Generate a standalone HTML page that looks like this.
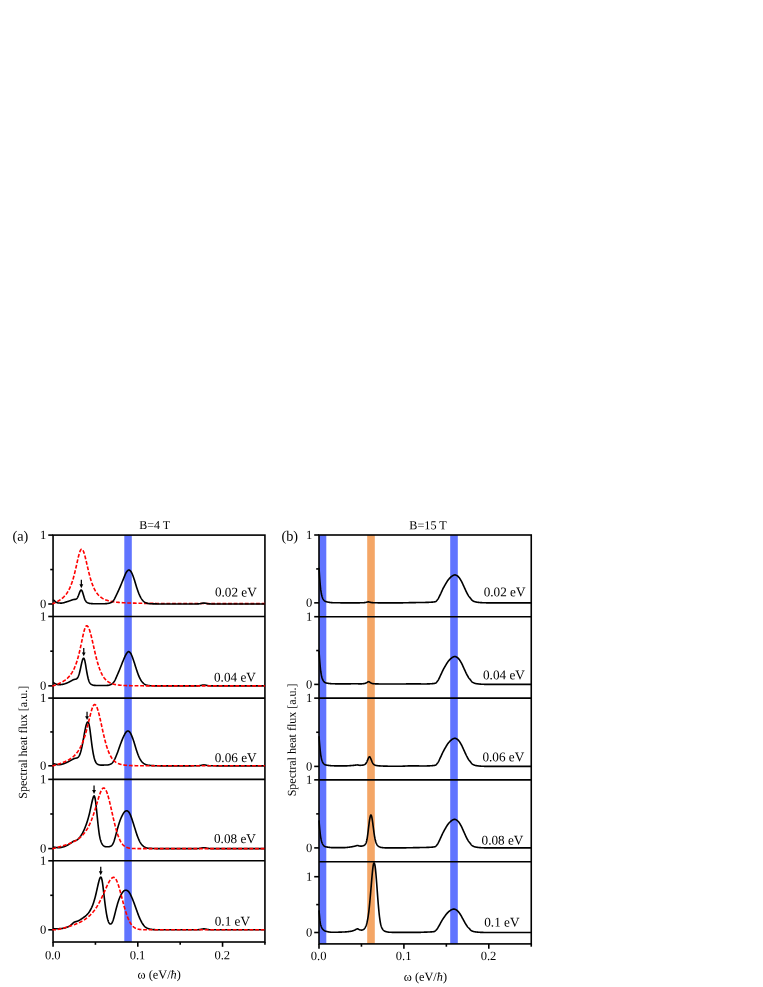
<!DOCTYPE html>
<html><head><meta charset="utf-8"><title>Spectral heat flux</title>
<style>
html,body{margin:0;padding:0;background:#fff;}
body{width:763px;height:987px;overflow:hidden;font-family:"Liberation Serif",serif;}
svg{display:block;will-change:transform;}
svg text{font-family:"Liberation Serif",serif;text-rendering:geometricPrecision;}
</style></head><body>
<svg width="763" height="987" viewBox="0 0 763 987" fill="#000">
<rect x="0" y="0" width="763" height="987" fill="#fff"/>
<rect x="124.30" y="535.10" width="7.50" height="406.90" fill="#6074ff"/>
<g stroke="#000" stroke-width="1.60" fill="none" stroke-linecap="butt">
<rect x="53.05" y="535.10" width="211.88" height="406.90"/>
<path d="M53.05,616.50 H264.93"/>
<path d="M53.05,698.08 H264.93"/>
<path d="M53.05,779.37 H264.93"/>
<path d="M53.05,860.80 H264.93"/>
<path d="M48.25,604.00 H53.05"/>
<path d="M50.25,569.55 H53.05"/>
<path d="M48.25,535.10 H53.05"/>
<path d="M48.25,685.86 H53.05"/>
<path d="M50.25,651.18 H53.05"/>
<path d="M48.25,616.50 H53.05"/>
<path d="M48.25,765.80 H53.05"/>
<path d="M50.25,731.94 H53.05"/>
<path d="M48.25,698.08 H53.05"/>
<path d="M48.25,848.60 H53.05"/>
<path d="M50.25,813.99 H53.05"/>
<path d="M48.25,779.37 H53.05"/>
<path d="M48.25,929.80 H53.05"/>
<path d="M50.25,895.30 H53.05"/>
<path d="M48.25,860.80 H53.05"/>
<path d="M53.05,942.00 V946.80"/>
<path d="M95.42,942.00 V944.80"/>
<path d="M137.80,942.00 V946.80"/>
<path d="M180.18,942.00 V944.80"/>
<path d="M222.55,942.00 V946.80"/>
<path d="M264.93,942.00 V944.80"/>
</g>
<clipPath id="ca0"><rect x="52.15" y="535.10" width="212.78" height="81.40"/></clipPath>
<g clip-path="url(#ca0)" fill="none" stroke-linejoin="round">
<path d="M52.15,603.60 L53.05,603.60 L53.35,603.47 L53.66,603.34 L53.96,603.20 L54.26,603.06 L54.56,602.93 L54.87,602.79 L55.17,602.64 L55.47,602.50 L55.77,602.35 L56.08,602.20 L56.38,602.05 L56.68,601.89 L56.98,601.74 L57.29,601.57 L57.59,601.41 L57.89,601.24 L58.20,601.07 L58.50,600.89 L58.80,600.71 L59.10,600.53 L59.41,600.34 L59.71,600.14 L60.01,599.94 L60.31,599.74 L60.62,599.53 L60.92,599.31 L61.22,599.08 L61.52,598.85 L61.83,598.62 L62.13,598.37 L62.43,598.12 L62.74,597.86 L63.04,597.59 L63.34,597.31 L63.64,597.02 L63.95,596.72 L64.25,596.41 L64.55,596.09 L64.85,595.76 L65.16,595.41 L65.46,595.05 L65.76,594.68 L66.07,594.29 L66.37,593.89 L66.67,593.47 L66.97,593.04 L67.28,592.59 L67.58,592.11 L67.88,591.62 L68.18,591.11 L68.49,590.58 L68.79,590.02 L69.09,589.44 L69.39,588.83 L69.70,588.20 L70.00,587.54 L70.30,586.86 L70.61,586.14 L70.91,585.39 L71.21,584.61 L71.51,583.79 L71.82,582.94 L72.12,582.06 L72.42,581.14 L72.72,580.18 L73.03,579.18 L73.33,578.15 L73.63,577.07 L73.93,575.96 L74.24,574.81 L74.54,573.63 L74.84,572.40 L75.15,571.15 L75.45,569.86 L75.75,568.55 L76.05,567.21 L76.36,565.86 L76.66,564.49 L76.96,563.12 L77.26,561.75 L77.57,560.40 L77.87,559.07 L78.17,557.78 L78.47,556.53 L78.78,555.33 L79.08,554.21 L79.38,553.18 L79.69,552.24 L79.99,551.40 L80.29,550.69 L80.59,550.11 L80.90,549.66 L81.20,549.35 L81.50,549.19 L81.80,549.17 L82.11,549.28 L82.41,549.53 L82.71,549.91 L83.02,550.41 L83.32,551.03 L83.62,551.77 L83.92,552.60 L84.23,553.53 L84.53,554.54 L84.83,555.62 L85.13,556.77 L85.44,557.96 L85.74,559.21 L86.04,560.48 L86.34,561.78 L86.65,563.09 L86.95,564.41 L87.25,565.73 L87.56,567.05 L87.86,568.35 L88.16,569.64 L88.46,570.90 L88.77,572.14 L89.07,573.35 L89.37,574.53 L89.67,575.68 L89.98,576.79 L90.28,577.87 L90.58,578.91 L90.88,579.91 L91.19,580.88 L91.49,581.81 L91.79,582.71 L92.10,583.57 L92.40,584.39 L92.70,585.18 L93.00,585.94 L93.31,586.66 L93.61,587.36 L93.91,588.02 L94.21,588.65 L94.52,589.26 L94.82,589.84 L95.12,590.39 L95.42,590.92 L95.73,591.42 L96.03,591.90 L96.33,592.36 L96.64,592.80 L96.94,593.22 L97.24,593.62 L97.54,594.00 L97.85,594.36 L98.15,594.71 L98.45,595.04 L98.75,595.36 L99.06,595.67 L99.36,595.96 L99.66,596.23 L99.97,596.50 L100.27,596.75 L100.57,597.00 L100.87,597.23 L101.18,597.45 L101.48,597.66 L101.78,597.87 L102.08,598.06 L102.39,598.25 L102.69,598.43 L102.99,598.60 L103.29,598.77 L103.60,598.92 L103.90,599.07 L104.20,599.22 L104.51,599.36 L104.81,599.49 L105.11,599.62 L105.41,599.75 L105.72,599.87 L106.02,599.98 L106.32,600.09 L106.62,600.19 L106.93,600.30 L107.23,600.39 L107.53,600.49 L107.83,600.58 L108.14,600.67 L108.44,600.75 L108.74,600.83 L109.05,600.91 L109.35,600.98 L109.65,601.06 L109.95,601.13 L110.26,601.20 L110.56,601.26 L110.86,601.32 L111.16,601.38 L111.47,601.44 L111.77,601.50 L112.07,601.55 L112.38,601.61 L112.68,601.66 L112.98,601.71 L113.28,601.76 L113.59,601.80 L113.89,601.85 L114.19,601.89 L114.49,601.93 L114.80,601.97 L115.10,602.01 L115.40,602.05 L115.70,602.09 L116.01,602.12 L116.31,602.16 L116.61,602.19 L116.92,602.23 L117.22,602.26 L117.52,602.29 L117.82,602.32 L118.13,602.35 L118.43,602.37 L118.73,602.40 L119.03,602.43 L119.34,602.45 L119.64,602.48 L119.94,602.50 L120.24,602.53 L120.55,602.55 L120.85,602.57 L121.15,602.59 L121.46,602.62 L121.76,602.64 L122.06,602.66 L122.36,602.68 L122.67,602.69 L122.97,602.71 L123.27,602.73 L123.57,602.75 L123.88,602.77 L124.18,602.78 L124.48,602.80 L124.78,602.81 L125.09,602.83 L125.39,602.84 L125.69,602.86 L126.00,602.87 L126.30,602.89 L126.60,602.90 L126.90,602.91 L127.21,602.93 L127.51,602.94 L127.81,602.95 L128.11,602.96 L128.42,602.97 L128.72,602.99 L129.02,603.00 L129.32,603.01 L129.63,603.02 L129.93,603.03 L130.23,603.04 L130.54,603.05 L130.84,603.06 L131.14,603.07 L131.44,603.08 L131.75,603.09 L132.05,603.09 L132.35,603.10 L132.65,603.11 L132.96,603.12 L133.26,603.13 L133.56,603.14 L133.87,603.14 L134.17,603.15 L134.47,603.16 L134.77,603.17 L135.08,603.17 L135.38,603.18 L135.68,603.19 L135.98,603.19 L136.29,603.20 L136.59,603.21 L136.89,603.21 L137.19,603.22 L137.50,603.22 L137.80,603.23 L138.10,603.23 L138.41,603.24 L138.71,603.25 L139.01,603.25 L139.31,603.26 L139.62,603.26 L139.92,603.27 L140.22,603.27 L140.52,603.28 L140.83,603.28 L141.13,603.29 L141.43,603.29 L141.73,603.30 L142.04,603.30 L142.34,603.30 L142.64,603.31 L142.95,603.31 L143.25,603.32 L143.55,603.32 L143.85,603.32 L144.16,603.33 L144.46,603.33 L144.76,603.34 L145.06,603.34 L145.37,603.34 L145.67,603.35 L145.97,603.35 L146.27,603.35 L146.58,603.36 L146.88,603.36 L147.18,603.36 L147.49,603.37 L147.79,603.37 L148.09,603.37 L148.39,603.38 L148.70,603.38 L149.00,603.38 L149.30,603.38 L149.60,603.39 L149.91,603.39 L150.21,603.39 L150.51,603.40 L150.82,603.40 L151.12,603.40 L151.42,603.40 L151.72,603.41 L152.03,603.41 L152.33,603.41 L152.63,603.41 L152.93,603.41 L153.24,603.42 L153.54,603.42 L153.84,603.42 L154.14,603.42 L154.45,603.43 L154.75,603.43 L155.05,603.43 L155.36,603.43 L155.66,603.43 L155.96,603.44 L156.26,603.44 L156.57,603.44 L156.87,603.44 L157.17,603.44 L157.47,603.45 L157.78,603.45 L158.08,603.45 L158.38,603.45 L158.68,603.45 L158.99,603.45 L159.29,603.46 L159.59,603.46 L159.90,603.46 L160.20,603.46 L160.50,603.46 L160.80,603.46 L161.11,603.47 L161.41,603.47 L161.71,603.47 L162.01,603.47 L162.32,603.47 L162.62,603.47 L162.92,603.47 L163.22,603.48 L163.53,603.48 L163.83,603.48 L164.13,603.48 L164.44,603.48 L164.74,603.48 L165.04,603.48 L165.34,603.48 L165.65,603.49 L165.95,603.49 L166.25,603.49 L166.55,603.49 L166.86,603.49 L167.16,603.49 L167.46,603.49 L167.77,603.49 L168.07,603.49 L168.37,603.50 L168.67,603.50 L168.98,603.50 L169.28,603.50 L169.58,603.50 L169.88,603.50 L170.19,603.50 L170.49,603.50 L170.79,603.50 L171.09,603.50 L171.40,603.51 L171.70,603.51 L172.00,603.51 L172.31,603.51 L172.61,603.51 L172.91,603.51 L173.21,603.51 L173.52,603.51 L173.82,603.51 L174.12,603.51 L174.42,603.51 L174.73,603.52 L175.03,603.52 L175.33,603.52 L175.63,603.52 L175.94,603.52 L176.24,603.52 L176.54,603.52 L176.85,603.52 L177.15,603.52 L177.45,603.52 L177.75,603.52 L178.06,603.52 L178.36,603.52 L178.66,603.53 L178.96,603.53 L179.27,603.53 L179.57,603.53 L179.87,603.53 L180.18,603.53 L180.48,603.53 L180.78,603.53 L181.08,603.53 L181.39,603.53 L181.69,603.53 L181.99,603.53 L182.29,603.53 L182.60,603.53 L182.90,603.53 L183.20,603.53 L183.50,603.54 L183.81,603.54 L184.11,603.54 L184.41,603.54 L184.72,603.54 L185.02,603.54 L185.32,603.54 L185.62,603.54 L185.93,603.54 L186.23,603.54 L186.53,603.54 L186.83,603.54 L187.14,603.54 L187.44,603.54 L187.74,603.54 L188.04,603.54 L188.35,603.54 L188.65,603.54 L188.95,603.54 L189.26,603.54 L189.56,603.55 L189.86,603.55 L190.16,603.55 L190.47,603.55 L190.77,603.55 L191.07,603.55 L191.37,603.55 L191.68,603.55 L191.98,603.55 L192.28,603.55 L192.58,603.55 L192.89,603.55 L193.19,603.55 L193.49,603.55 L193.80,603.55 L194.10,603.55 L194.40,603.55 L194.70,603.55 L195.01,603.55 L195.31,603.55 L195.61,603.55 L195.91,603.55 L196.22,603.55 L196.52,603.55 L196.82,603.56 L197.12,603.56 L197.43,603.56 L197.73,603.56 L198.03,603.56 L198.34,603.56 L198.64,603.56 L198.94,603.56 L199.24,603.56 L199.55,603.56 L199.85,603.56 L200.15,603.56 L200.45,603.56 L200.76,603.56 L201.06,603.56 L201.36,603.56 L201.67,603.56 L201.97,603.56 L202.27,603.56 L202.57,603.56 L202.88,603.56 L203.18,603.56 L203.48,603.56 L203.78,603.56 L204.09,603.56 L204.39,603.56 L204.69,603.56 L204.99,603.56 L205.30,603.56 L205.60,603.56 L205.90,603.56 L206.21,603.56 L206.51,603.56 L206.81,603.56 L207.11,603.57 L207.42,603.57 L207.72,603.57 L208.02,603.57 L208.32,603.57 L208.63,603.57 L208.93,603.57 L209.23,603.57 L209.53,603.57 L209.84,603.57 L210.14,603.57 L210.44,603.57 L210.75,603.57 L211.05,603.57 L211.35,603.57 L211.65,603.57 L211.96,603.57 L212.26,603.57 L212.56,603.57 L212.86,603.57 L213.17,603.57 L213.47,603.57 L213.77,603.57 L214.07,603.57 L214.38,603.57 L214.68,603.57 L214.98,603.57 L215.29,603.57 L215.59,603.57 L215.89,603.57 L216.19,603.57 L216.50,603.57 L216.80,603.57 L217.10,603.57 L217.40,603.57 L217.71,603.57 L218.01,603.57 L218.31,603.57 L218.62,603.57 L218.92,603.57 L219.22,603.57 L219.52,603.57 L219.83,603.57 L220.13,603.57 L220.43,603.57 L220.73,603.57 L221.04,603.57 L221.34,603.57 L221.64,603.57 L221.94,603.57 L222.25,603.58 L222.55,603.58 L222.85,603.58 L223.16,603.58 L223.46,603.58 L223.76,603.58 L224.06,603.58 L224.37,603.58 L224.67,603.58 L224.97,603.58 L225.27,603.58 L225.58,603.58 L225.88,603.58 L226.18,603.58 L226.48,603.58 L226.79,603.58 L227.09,603.58 L227.39,603.58 L227.70,603.58 L228.00,603.58 L228.30,603.58 L228.60,603.58 L228.91,603.58 L229.21,603.58 L229.51,603.58 L229.81,603.58 L230.12,603.58 L230.42,603.58 L230.72,603.58 L231.02,603.58 L231.33,603.58 L231.63,603.58 L231.93,603.58 L232.24,603.58 L232.54,603.58 L232.84,603.58 L233.14,603.58 L233.45,603.58 L233.75,603.58 L234.05,603.58 L234.35,603.58 L234.66,603.58 L234.96,603.58 L235.26,603.58 L235.57,603.58 L235.87,603.58 L236.17,603.58 L236.47,603.58 L236.78,603.58 L237.08,603.58 L237.38,603.58 L237.68,603.58 L237.99,603.58 L238.29,603.58 L238.59,603.58 L238.89,603.58 L239.20,603.58 L239.50,603.58 L239.80,603.58 L240.11,603.58 L240.41,603.58 L240.71,603.58 L241.01,603.58 L241.32,603.58 L241.62,603.58 L241.92,603.58 L242.22,603.58 L242.53,603.58 L242.83,603.58 L243.13,603.58 L243.43,603.58 L243.74,603.58 L244.04,603.58 L244.34,603.58 L244.65,603.58 L244.95,603.58 L245.25,603.58 L245.55,603.58 L245.86,603.58 L246.16,603.58 L246.46,603.58 L246.76,603.58 L247.07,603.58 L247.37,603.58 L247.67,603.58 L247.98,603.58 L248.28,603.59 L248.58,603.59 L248.88,603.59 L249.19,603.59 L249.49,603.59 L249.79,603.59 L250.09,603.59 L250.40,603.59 L250.70,603.59 L251.00,603.59 L251.30,603.59 L251.61,603.59 L251.91,603.59 L252.21,603.59 L252.52,603.59 L252.82,603.59 L253.12,603.59 L253.42,603.59 L253.73,603.59 L254.03,603.59 L254.33,603.59 L254.63,603.59 L254.94,603.59 L255.24,603.59 L255.54,603.59 L255.84,603.59 L256.15,603.59 L256.45,603.59 L256.75,603.59 L257.06,603.59 L257.36,603.59 L257.66,603.59 L257.96,603.59 L258.27,603.59 L258.57,603.59 L258.87,603.59 L259.17,603.59 L259.48,603.59 L259.78,603.59 L260.08,603.59 L260.38,603.59 L260.69,603.59 L260.99,603.59 L261.29,603.59 L261.60,603.59 L261.90,603.59 L262.20,603.59 L262.50,603.59 L262.81,603.59 L263.11,603.59 L263.41,603.59 L263.71,603.59 L264.02,603.59 L264.32,603.59 L264.62,603.59 L264.93,603.59" stroke="#ff0000" stroke-width="1.62" stroke-dasharray="3.8 1.8"/>
<path d="M53.05,599.86 L53.35,600.03 L53.65,600.24 L53.95,600.48 L54.25,600.73 L54.55,600.97 L54.85,601.20 L55.15,601.43 L55.45,601.64 L55.75,601.86 L56.05,602.06 L56.35,602.25 L56.65,602.43 L56.95,602.59 L57.25,602.71 L57.55,602.81 L57.85,602.89 L58.15,602.94 L58.45,602.97 L58.75,603.00 L59.05,603.02 L59.35,603.03 L59.65,603.05 L59.95,603.06 L60.25,603.07 L60.55,603.08 L60.85,603.08 L61.15,603.08 L61.45,603.08 L61.75,603.07 L62.05,603.04 L62.35,603.01 L62.65,602.96 L62.95,602.91 L63.25,602.84 L63.55,602.76 L63.85,602.68 L64.15,602.60 L64.45,602.51 L64.75,602.42 L65.05,602.33 L65.35,602.24 L65.65,602.15 L65.95,602.06 L66.25,601.97 L66.55,601.87 L66.85,601.78 L67.15,601.68 L67.45,601.58 L67.75,601.48 L68.05,601.38 L68.35,601.27 L68.65,601.17 L68.95,601.07 L69.25,600.96 L69.55,600.86 L69.85,600.75 L70.15,600.65 L70.45,600.55 L70.75,600.44 L71.05,600.33 L71.35,600.23 L71.65,600.12 L71.95,600.01 L72.25,599.91 L72.55,599.82 L72.85,599.73 L73.15,599.65 L73.45,599.58 L73.75,599.52 L74.05,599.47 L74.35,599.43 L74.65,599.40 L74.95,599.37 L75.25,599.33 L75.55,599.28 L75.85,599.21 L76.15,599.09 L76.45,598.91 L76.75,598.65 L77.05,598.30 L77.35,597.86 L77.65,597.34 L77.95,596.73 L78.25,596.03 L78.55,595.28 L78.85,594.48 L79.15,593.66 L79.45,592.85 L79.75,592.08 L80.05,591.40 L80.35,590.83 L80.65,590.39 L80.95,590.13 L81.25,590.06 L81.55,590.20 L81.85,590.56 L82.15,591.12 L82.45,591.84 L82.75,592.71 L83.05,593.68 L83.35,594.71 L83.65,595.75 L83.95,596.76 L84.25,597.73 L84.55,598.61 L84.85,599.39 L85.15,600.06 L85.45,600.62 L85.75,601.10 L86.05,601.51 L86.35,601.85 L86.65,602.13 L86.95,602.37 L87.25,602.56 L87.55,602.72 L87.85,602.86 L88.15,602.98 L88.45,603.09 L88.75,603.19 L89.05,603.27 L89.35,603.35 L89.65,603.41 L89.95,603.46 L90.25,603.50 L90.55,603.53 L90.85,603.56 L91.15,603.58 L91.45,603.60 L91.75,603.62 L92.05,603.64 L92.35,603.66 L92.65,603.68 L92.95,603.69 L93.25,603.71 L93.55,603.72 L93.85,603.73 L94.15,603.75 L94.45,603.76 L94.75,603.77 L95.05,603.78 L95.35,603.78 L95.65,603.79 L95.95,603.80 L96.25,603.80 L96.55,603.81 L96.85,603.81 L97.15,603.81 L97.45,603.81 L97.75,603.81 L98.05,603.81 L98.35,603.81 L98.65,603.81 L98.95,603.81 L99.25,603.81 L99.55,603.80 L99.85,603.80 L100.15,603.80 L100.45,603.79 L100.75,603.79 L101.05,603.78 L101.35,603.78 L101.65,603.77 L101.95,603.77 L102.25,603.76 L102.55,603.75 L102.85,603.75 L103.15,603.74 L103.45,603.73 L103.75,603.72 L104.05,603.72 L104.35,603.71 L104.65,603.70 L104.95,603.69 L105.25,603.68 L105.55,603.66 L105.85,603.65 L106.15,603.63 L106.45,603.60 L106.75,603.57 L107.05,603.54 L107.35,603.50 L107.65,603.45 L107.95,603.41 L108.25,603.35 L108.55,603.29 L108.85,603.23 L109.15,603.17 L109.45,603.09 L109.75,603.02 L110.05,602.93 L110.35,602.84 L110.65,602.73 L110.95,602.60 L111.25,602.45 L111.55,602.27 L111.85,602.06 L112.15,601.83 L112.45,601.58 L112.75,601.30 L113.05,600.99 L113.35,600.65 L113.65,600.27 L113.95,599.83 L114.25,599.35 L114.55,598.81 L114.85,598.23 L115.15,597.63 L115.45,597.00 L115.75,596.37 L116.05,595.74 L116.35,595.11 L116.65,594.48 L116.95,593.86 L117.25,593.23 L117.55,592.60 L117.85,591.95 L118.15,591.31 L118.45,590.65 L118.75,590.00 L119.05,589.33 L119.35,588.66 L119.65,587.98 L119.95,587.30 L120.25,586.60 L120.55,585.90 L120.85,585.19 L121.15,584.47 L121.45,583.75 L121.75,583.02 L122.05,582.29 L122.35,581.56 L122.65,580.83 L122.95,580.10 L123.25,579.38 L123.55,578.64 L123.85,577.90 L124.15,577.15 L124.45,576.39 L124.75,575.64 L125.05,574.91 L125.35,574.21 L125.65,573.57 L125.95,572.98 L126.25,572.45 L126.55,571.98 L126.85,571.56 L127.15,571.17 L127.45,570.83 L127.75,570.53 L128.05,570.28 L128.35,570.10 L128.65,570.00 L128.95,569.98 L129.25,570.04 L129.55,570.18 L129.85,570.39 L130.15,570.66 L130.45,570.98 L130.75,571.34 L131.05,571.75 L131.35,572.22 L131.65,572.75 L131.95,573.35 L132.25,574.02 L132.55,574.74 L132.85,575.51 L133.15,576.32 L133.45,577.16 L133.75,578.02 L134.05,578.92 L134.35,579.86 L134.65,580.83 L134.95,581.82 L135.25,582.82 L135.55,583.83 L135.85,584.82 L136.15,585.79 L136.45,586.74 L136.75,587.67 L137.05,588.57 L137.35,589.46 L137.65,590.33 L137.95,591.18 L138.25,592.01 L138.55,592.80 L138.85,593.56 L139.15,594.27 L139.45,594.95 L139.75,595.60 L140.05,596.21 L140.35,596.80 L140.65,597.37 L140.95,597.90 L141.25,598.40 L141.55,598.87 L141.85,599.31 L142.15,599.72 L142.45,600.10 L142.75,600.45 L143.05,600.78 L143.35,601.10 L143.65,601.39 L143.95,601.66 L144.25,601.90 L144.55,602.12 L144.85,602.31 L145.15,602.47 L145.45,602.62 L145.75,602.75 L146.05,602.86 L146.35,602.97 L146.65,603.08 L146.95,603.17 L147.25,603.26 L147.55,603.34 L147.85,603.41 L148.15,603.48 L148.45,603.53 L148.75,603.58 L149.05,603.62 L149.35,603.65 L149.65,603.67 L149.95,603.69 L150.25,603.71 L150.55,603.73 L150.85,603.74 L151.15,603.75 L151.45,603.77 L151.75,603.78 L152.05,603.79 L152.35,603.81 L152.65,603.82 L152.95,603.83 L153.25,603.84 L153.55,603.85 L153.85,603.86 L154.15,603.87 L154.45,603.88 L154.75,603.89 L155.05,603.89 L155.35,603.90 L155.65,603.91 L155.95,603.92 L156.25,603.92 L156.55,603.93 L156.85,603.93 L157.15,603.94 L157.45,603.94 L157.75,603.94 L158.05,603.95 L158.35,603.95 L158.65,603.95 L158.95,603.95 L159.25,603.96 L159.55,603.96 L159.85,603.96 L160.15,603.96 L160.45,603.96 L160.75,603.96 L161.05,603.96 L161.35,603.96 L161.65,603.96 L161.95,603.96 L162.25,603.96 L162.55,603.96 L162.85,603.96 L163.15,603.96 L163.45,603.96 L163.75,603.96 L164.05,603.96 L164.35,603.96 L164.65,603.96 L164.95,603.96 L165.25,603.96 L165.55,603.96 L165.85,603.96 L166.15,603.96 L166.45,603.96 L166.75,603.96 L167.05,603.96 L167.35,603.96 L167.65,603.96 L167.95,603.96 L168.25,603.96 L168.55,603.96 L168.85,603.96 L169.15,603.96 L169.45,603.96 L169.75,603.96 L170.05,603.96 L170.35,603.96 L170.65,603.96 L170.95,603.96 L171.25,603.96 L171.55,603.96 L171.85,603.96 L172.15,603.96 L172.45,603.96 L172.75,603.96 L173.05,603.96 L173.35,603.96 L173.65,603.96 L173.95,603.96 L174.25,603.96 L174.55,603.96 L174.85,603.96 L175.15,603.96 L175.45,603.96 L175.75,603.96 L176.05,603.96 L176.35,603.96 L176.65,603.96 L176.95,603.96 L177.25,603.96 L177.55,603.96 L177.85,603.96 L178.15,603.96 L178.45,603.96 L178.75,603.96 L179.05,603.96 L179.35,603.96 L179.65,603.96 L179.95,603.96 L180.25,603.96 L180.55,603.96 L180.85,603.96 L181.15,603.96 L181.45,603.96 L181.75,603.96 L182.05,603.96 L182.35,603.96 L182.65,603.96 L182.95,603.96 L183.25,603.96 L183.55,603.96 L183.85,603.96 L184.15,603.96 L184.45,603.96 L184.75,603.96 L185.05,603.96 L185.35,603.96 L185.65,603.96 L185.95,603.96 L186.25,603.96 L186.55,603.96 L186.85,603.96 L187.15,603.96 L187.45,603.96 L187.75,603.96 L188.05,603.96 L188.35,603.96 L188.65,603.96 L188.95,603.96 L189.25,603.96 L189.55,603.96 L189.85,603.96 L190.15,603.96 L190.45,603.96 L190.75,603.96 L191.05,603.96 L191.35,603.96 L191.65,603.96 L191.95,603.96 L192.25,603.96 L192.55,603.96 L192.85,603.96 L193.15,603.96 L193.45,603.96 L193.75,603.96 L194.05,603.96 L194.35,603.96 L194.65,603.96 L194.95,603.96 L195.25,603.96 L195.55,603.95 L195.85,603.95 L196.15,603.95 L196.45,603.95 L196.75,603.94 L197.05,603.94 L197.35,603.93 L197.65,603.92 L197.95,603.90 L198.25,603.89 L198.55,603.87 L198.85,603.84 L199.15,603.81 L199.45,603.77 L199.75,603.73 L200.05,603.68 L200.35,603.63 L200.65,603.57 L200.95,603.51 L201.25,603.45 L201.55,603.38 L201.85,603.32 L202.15,603.25 L202.45,603.20 L202.75,603.15 L203.05,603.11 L203.35,603.08 L203.65,603.06 L203.95,603.06 L204.25,603.07 L204.55,603.09 L204.85,603.12 L205.15,603.16 L205.45,603.21 L205.75,603.27 L206.05,603.33 L206.35,603.40 L206.65,603.46 L206.95,603.53 L207.25,603.59 L207.55,603.65 L207.85,603.70 L208.15,603.74 L208.45,603.78 L208.75,603.82 L209.05,603.85 L209.35,603.87 L209.65,603.89 L209.95,603.91 L210.25,603.92 L210.55,603.93 L210.85,603.94 L211.15,603.94 L211.45,603.95 L211.75,603.95 L212.05,603.95 L212.35,603.95 L212.65,603.96 L212.95,603.96 L213.25,603.96 L213.55,603.96 L213.85,603.96 L214.15,603.96 L214.45,603.96 L214.75,603.96 L215.05,603.96 L215.35,603.96 L215.65,603.96 L215.95,603.96 L216.25,603.96 L216.55,603.96 L216.85,603.96 L217.15,603.96 L217.45,603.96 L217.75,603.96 L218.05,603.96 L218.35,603.96 L218.65,603.96 L218.95,603.96 L219.25,603.96 L219.55,603.96 L219.85,603.96 L220.15,603.96 L220.45,603.96 L220.75,603.96 L221.05,603.96 L221.35,603.96 L221.65,603.96 L221.95,603.96 L222.25,603.96 L222.55,603.96 L222.85,603.96 L223.15,603.96 L223.45,603.96 L223.75,603.96 L224.05,603.96 L224.35,603.96 L224.65,603.96 L224.95,603.96 L225.25,603.96 L225.55,603.96 L225.85,603.96 L226.15,603.96 L226.45,603.96 L226.75,603.96 L227.05,603.96 L227.35,603.96 L227.65,603.96 L227.95,603.96 L228.25,603.96 L228.55,603.96 L228.85,603.96 L229.15,603.96 L229.45,603.96 L229.75,603.96 L230.05,603.96 L230.35,603.96 L230.65,603.96 L230.95,603.96 L231.25,603.96 L231.55,603.96 L231.85,603.96 L232.15,603.96 L232.45,603.96 L232.75,603.96 L233.05,603.96 L233.35,603.96 L233.65,603.96 L233.95,603.96 L234.25,603.96 L234.55,603.96 L234.85,603.96 L235.15,603.96 L235.45,603.96 L235.75,603.96 L236.05,603.96 L236.35,603.96 L236.65,603.96 L236.95,603.96 L237.25,603.96 L237.55,603.96 L237.85,603.96 L238.15,603.96 L238.45,603.96 L238.75,603.96 L239.05,603.96 L239.35,603.96 L239.65,603.96 L239.95,603.96 L240.25,603.96 L240.55,603.96 L240.85,603.96 L241.15,603.96 L241.45,603.96 L241.75,603.96 L242.05,603.96 L242.35,603.96 L242.65,603.96 L242.95,603.96 L243.25,603.96 L243.55,603.96 L243.85,603.96 L244.15,603.96 L244.45,603.96 L244.75,603.96 L245.05,603.96 L245.35,603.96 L245.65,603.96 L245.95,603.96 L246.25,603.96 L246.55,603.96 L246.85,603.96 L247.15,603.96 L247.45,603.96 L247.75,603.96 L248.05,603.96 L248.35,603.96 L248.65,603.96 L248.95,603.96 L249.25,603.96 L249.55,603.96 L249.85,603.96 L250.15,603.96 L250.45,603.96 L250.75,603.96 L251.05,603.96 L251.35,603.96 L251.65,603.96 L251.95,603.96 L252.25,603.96 L252.55,603.96 L252.85,603.96 L253.15,603.96 L253.45,603.96 L253.75,603.96 L254.05,603.96 L254.35,603.96 L254.65,603.96 L254.95,603.96 L255.25,603.96 L255.55,603.96 L255.85,603.96 L256.15,603.96 L256.45,603.96 L256.75,603.96 L257.05,603.96 L257.35,603.96 L257.65,603.96 L257.95,603.96 L258.25,603.96 L258.55,603.96 L258.85,603.96 L259.15,603.96 L259.45,603.96 L259.75,603.96 L260.05,603.96 L260.35,603.96 L260.65,603.96 L260.95,603.96 L261.25,603.96 L261.55,603.96 L261.85,603.96 L262.15,603.96 L262.45,603.96 L262.75,603.96 L263.05,603.96 L263.35,603.96 L263.65,603.96 L263.95,603.96 L264.25,603.96 L264.55,603.96 L264.85,603.96 L265.15,603.96" stroke="#000" stroke-width="1.62"/>
</g>
<path d="M81.35,579.76 V585.56" stroke="#000" stroke-width="1.25" fill="none"/>
<path d="M79.45,584.26 L83.25,584.26 L81.35,588.16 Z" fill="#000"/>
<clipPath id="ca1"><rect x="52.15" y="616.50" width="212.78" height="81.58"/></clipPath>
<g clip-path="url(#ca1)" fill="none" stroke-linejoin="round">
<path d="M53.05,682.32 L53.35,682.48 L53.65,682.67 L53.95,682.88 L54.25,683.10 L54.55,683.30 L54.85,683.49 L55.15,683.66 L55.45,683.81 L55.75,683.94 L56.05,684.07 L56.35,684.18 L56.65,684.29 L56.95,684.39 L57.25,684.47 L57.55,684.55 L57.85,684.61 L58.15,684.65 L58.45,684.68 L58.75,684.69 L59.05,684.70 L59.35,684.69 L59.65,684.68 L59.95,684.66 L60.25,684.63 L60.55,684.60 L60.85,684.57 L61.15,684.54 L61.45,684.50 L61.75,684.46 L62.05,684.42 L62.35,684.37 L62.65,684.33 L62.95,684.28 L63.25,684.22 L63.55,684.16 L63.85,684.08 L64.15,684.00 L64.45,683.91 L64.75,683.82 L65.05,683.72 L65.35,683.61 L65.65,683.50 L65.95,683.38 L66.25,683.26 L66.55,683.14 L66.85,683.02 L67.15,682.90 L67.45,682.77 L67.75,682.64 L68.05,682.51 L68.35,682.37 L68.65,682.23 L68.95,682.08 L69.25,681.93 L69.55,681.77 L69.85,681.62 L70.15,681.46 L70.45,681.30 L70.75,681.14 L71.05,680.98 L71.35,680.82 L71.65,680.65 L71.95,680.49 L72.25,680.32 L72.55,680.15 L72.85,679.98 L73.15,679.83 L73.45,679.70 L73.75,679.59 L74.05,679.50 L74.35,679.42 L74.65,679.36 L74.95,679.31 L75.25,679.26 L75.55,679.20 L75.85,679.14 L76.15,679.05 L76.45,678.92 L76.75,678.74 L77.05,678.49 L77.35,678.15 L77.65,677.71 L77.95,677.19 L78.25,676.56 L78.55,675.82 L78.85,674.97 L79.15,674.01 L79.45,672.94 L79.75,671.79 L80.05,670.54 L80.35,669.22 L80.65,667.84 L80.95,666.44 L81.25,665.02 L81.55,663.64 L81.85,662.33 L82.15,661.15 L82.45,660.13 L82.75,659.31 L83.05,658.71 L83.35,658.35 L83.65,658.27 L83.95,658.48 L84.25,658.99 L84.55,659.79 L84.85,660.91 L85.15,662.31 L85.45,663.95 L85.75,665.73 L86.05,667.56 L86.35,669.36 L86.65,671.09 L86.95,672.75 L87.25,674.32 L87.55,675.80 L87.85,677.19 L88.15,678.46 L88.45,679.59 L88.75,680.56 L89.05,681.37 L89.35,682.03 L89.65,682.58 L89.95,683.05 L90.25,683.44 L90.55,683.76 L90.85,684.03 L91.15,684.25 L91.45,684.44 L91.75,684.60 L92.05,684.75 L92.35,684.88 L92.65,684.99 L92.95,685.10 L93.25,685.19 L93.55,685.27 L93.85,685.33 L94.15,685.37 L94.45,685.40 L94.75,685.42 L95.05,685.43 L95.35,685.43 L95.65,685.44 L95.95,685.44 L96.25,685.44 L96.55,685.44 L96.85,685.44 L97.15,685.44 L97.45,685.44 L97.75,685.44 L98.05,685.44 L98.35,685.44 L98.65,685.44 L98.95,685.44 L99.25,685.44 L99.55,685.44 L99.85,685.44 L100.15,685.44 L100.45,685.44 L100.75,685.44 L101.05,685.44 L101.35,685.44 L101.65,685.44 L101.95,685.44 L102.25,685.44 L102.55,685.44 L102.85,685.44 L103.15,685.44 L103.45,685.44 L103.75,685.44 L104.05,685.44 L104.35,685.44 L104.65,685.44 L104.95,685.44 L105.25,685.44 L105.55,685.44 L105.85,685.44 L106.15,685.44 L106.45,685.44 L106.75,685.44 L107.05,685.43 L107.35,685.43 L107.65,685.42 L107.95,685.39 L108.25,685.36 L108.55,685.31 L108.85,685.24 L109.15,685.16 L109.45,685.06 L109.75,684.95 L110.05,684.83 L110.35,684.70 L110.65,684.57 L110.95,684.42 L111.25,684.27 L111.55,684.09 L111.85,683.90 L112.15,683.69 L112.45,683.45 L112.75,683.19 L113.05,682.90 L113.35,682.58 L113.65,682.24 L113.95,681.87 L114.25,681.45 L114.55,680.98 L114.85,680.46 L115.15,679.89 L115.45,679.27 L115.75,678.61 L116.05,677.93 L116.35,677.24 L116.65,676.54 L116.95,675.85 L117.25,675.16 L117.55,674.47 L117.85,673.77 L118.15,673.08 L118.45,672.37 L118.75,671.66 L119.05,670.94 L119.35,670.22 L119.65,669.49 L119.95,668.76 L120.25,668.02 L120.55,667.27 L120.85,666.51 L121.15,665.75 L121.45,664.98 L121.75,664.20 L122.05,663.43 L122.35,662.67 L122.65,661.92 L122.95,661.18 L123.25,660.45 L123.55,659.73 L123.85,659.03 L124.15,658.33 L124.45,657.63 L124.75,656.96 L125.05,656.30 L125.35,655.68 L125.65,655.09 L125.95,654.54 L126.25,654.03 L126.55,653.56 L126.85,653.12 L127.15,652.71 L127.45,652.35 L127.75,652.04 L128.05,651.81 L128.35,651.67 L128.65,651.63 L128.95,651.68 L129.25,651.81 L129.55,652.03 L129.85,652.30 L130.15,652.63 L130.45,653.01 L130.75,653.45 L131.05,653.96 L131.35,654.54 L131.65,655.21 L131.95,655.94 L132.25,656.73 L132.55,657.56 L132.85,658.41 L133.15,659.27 L133.45,660.15 L133.75,661.04 L134.05,661.94 L134.35,662.87 L134.65,663.81 L134.95,664.76 L135.25,665.71 L135.55,666.65 L135.85,667.59 L136.15,668.51 L136.45,669.42 L136.75,670.33 L137.05,671.23 L137.35,672.12 L137.65,672.99 L137.95,673.83 L138.25,674.65 L138.55,675.42 L138.85,676.14 L139.15,676.82 L139.45,677.47 L139.75,678.08 L140.05,678.66 L140.35,679.22 L140.65,679.74 L140.95,680.24 L141.25,680.71 L141.55,681.15 L141.85,681.56 L142.15,681.93 L142.45,682.29 L142.75,682.61 L143.05,682.93 L143.35,683.22 L143.65,683.50 L143.95,683.75 L144.25,683.99 L144.55,684.20 L144.85,684.39 L145.15,684.55 L145.45,684.68 L145.75,684.80 L146.05,684.91 L146.35,685.01 L146.65,685.10 L146.95,685.18 L147.25,685.26 L147.55,685.34 L147.85,685.41 L148.15,685.47 L148.45,685.53 L148.75,685.57 L149.05,685.62 L149.35,685.65 L149.65,685.68 L149.95,685.70 L150.25,685.72 L150.55,685.73 L150.85,685.74 L151.15,685.75 L151.45,685.76 L151.75,685.77 L152.05,685.78 L152.35,685.78 L152.65,685.79 L152.95,685.80 L153.25,685.80 L153.55,685.81 L153.85,685.81 L154.15,685.82 L154.45,685.82 L154.75,685.83 L155.05,685.83 L155.35,685.84 L155.65,685.84 L155.95,685.85 L156.25,685.85 L156.55,685.85 L156.85,685.86 L157.15,685.86 L157.45,685.86 L157.75,685.86 L158.05,685.86 L158.35,685.87 L158.65,685.87 L158.95,685.87 L159.25,685.87 L159.55,685.87 L159.85,685.87 L160.15,685.87 L160.45,685.87 L160.75,685.87 L161.05,685.87 L161.35,685.87 L161.65,685.87 L161.95,685.87 L162.25,685.87 L162.55,685.87 L162.85,685.87 L163.15,685.87 L163.45,685.87 L163.75,685.87 L164.05,685.87 L164.35,685.87 L164.65,685.87 L164.95,685.87 L165.25,685.87 L165.55,685.87 L165.85,685.87 L166.15,685.87 L166.45,685.87 L166.75,685.87 L167.05,685.87 L167.35,685.87 L167.65,685.87 L167.95,685.87 L168.25,685.87 L168.55,685.87 L168.85,685.87 L169.15,685.87 L169.45,685.87 L169.75,685.87 L170.05,685.87 L170.35,685.87 L170.65,685.87 L170.95,685.87 L171.25,685.87 L171.55,685.87 L171.85,685.87 L172.15,685.87 L172.45,685.87 L172.75,685.87 L173.05,685.87 L173.35,685.87 L173.65,685.87 L173.95,685.87 L174.25,685.87 L174.55,685.87 L174.85,685.87 L175.15,685.87 L175.45,685.87 L175.75,685.87 L176.05,685.87 L176.35,685.87 L176.65,685.87 L176.95,685.87 L177.25,685.87 L177.55,685.87 L177.85,685.87 L178.15,685.87 L178.45,685.87 L178.75,685.87 L179.05,685.87 L179.35,685.87 L179.65,685.87 L179.95,685.87 L180.25,685.87 L180.55,685.87 L180.85,685.87 L181.15,685.87 L181.45,685.87 L181.75,685.87 L182.05,685.87 L182.35,685.87 L182.65,685.87 L182.95,685.87 L183.25,685.87 L183.55,685.87 L183.85,685.87 L184.15,685.87 L184.45,685.87 L184.75,685.87 L185.05,685.87 L185.35,685.87 L185.65,685.87 L185.95,685.87 L186.25,685.87 L186.55,685.87 L186.85,685.87 L187.15,685.87 L187.45,685.87 L187.75,685.87 L188.05,685.87 L188.35,685.87 L188.65,685.87 L188.95,685.87 L189.25,685.87 L189.55,685.87 L189.85,685.87 L190.15,685.87 L190.45,685.87 L190.75,685.87 L191.05,685.87 L191.35,685.87 L191.65,685.87 L191.95,685.87 L192.25,685.87 L192.55,685.87 L192.85,685.87 L193.15,685.87 L193.45,685.87 L193.75,685.87 L194.05,685.87 L194.35,685.87 L194.65,685.87 L194.95,685.87 L195.25,685.87 L195.55,685.87 L195.85,685.86 L196.15,685.86 L196.45,685.86 L196.75,685.85 L197.05,685.85 L197.35,685.84 L197.65,685.83 L197.95,685.82 L198.25,685.80 L198.55,685.78 L198.85,685.75 L199.15,685.72 L199.45,685.69 L199.75,685.64 L200.05,685.60 L200.35,685.54 L200.65,685.48 L200.95,685.42 L201.25,685.36 L201.55,685.29 L201.85,685.23 L202.15,685.17 L202.45,685.11 L202.75,685.06 L203.05,685.02 L203.35,684.99 L203.65,684.97 L203.95,684.97 L204.25,684.98 L204.55,685.00 L204.85,685.03 L205.15,685.07 L205.45,685.13 L205.75,685.18 L206.05,685.25 L206.35,685.31 L206.65,685.38 L206.95,685.44 L207.25,685.50 L207.55,685.56 L207.85,685.61 L208.15,685.66 L208.45,685.70 L208.75,685.73 L209.05,685.76 L209.35,685.79 L209.65,685.81 L209.95,685.82 L210.25,685.83 L210.55,685.84 L210.85,685.85 L211.15,685.86 L211.45,685.86 L211.75,685.86 L212.05,685.86 L212.35,685.87 L212.65,685.87 L212.95,685.87 L213.25,685.87 L213.55,685.87 L213.85,685.87 L214.15,685.87 L214.45,685.87 L214.75,685.87 L215.05,685.87 L215.35,685.87 L215.65,685.87 L215.95,685.87 L216.25,685.87 L216.55,685.87 L216.85,685.87 L217.15,685.87 L217.45,685.87 L217.75,685.87 L218.05,685.87 L218.35,685.87 L218.65,685.87 L218.95,685.87 L219.25,685.87 L219.55,685.87 L219.85,685.87 L220.15,685.87 L220.45,685.87 L220.75,685.87 L221.05,685.87 L221.35,685.87 L221.65,685.87 L221.95,685.87 L222.25,685.87 L222.55,685.87 L222.85,685.87 L223.15,685.87 L223.45,685.87 L223.75,685.87 L224.05,685.87 L224.35,685.87 L224.65,685.87 L224.95,685.87 L225.25,685.87 L225.55,685.87 L225.85,685.87 L226.15,685.87 L226.45,685.87 L226.75,685.87 L227.05,685.87 L227.35,685.87 L227.65,685.87 L227.95,685.87 L228.25,685.87 L228.55,685.87 L228.85,685.87 L229.15,685.87 L229.45,685.87 L229.75,685.87 L230.05,685.87 L230.35,685.87 L230.65,685.87 L230.95,685.87 L231.25,685.87 L231.55,685.87 L231.85,685.87 L232.15,685.87 L232.45,685.87 L232.75,685.87 L233.05,685.87 L233.35,685.87 L233.65,685.87 L233.95,685.87 L234.25,685.87 L234.55,685.87 L234.85,685.87 L235.15,685.87 L235.45,685.87 L235.75,685.87 L236.05,685.87 L236.35,685.87 L236.65,685.87 L236.95,685.87 L237.25,685.87 L237.55,685.87 L237.85,685.87 L238.15,685.87 L238.45,685.87 L238.75,685.87 L239.05,685.87 L239.35,685.87 L239.65,685.87 L239.95,685.87 L240.25,685.87 L240.55,685.87 L240.85,685.87 L241.15,685.87 L241.45,685.87 L241.75,685.87 L242.05,685.87 L242.35,685.87 L242.65,685.87 L242.95,685.87 L243.25,685.87 L243.55,685.87 L243.85,685.87 L244.15,685.87 L244.45,685.87 L244.75,685.87 L245.05,685.87 L245.35,685.87 L245.65,685.87 L245.95,685.87 L246.25,685.87 L246.55,685.87 L246.85,685.87 L247.15,685.87 L247.45,685.87 L247.75,685.87 L248.05,685.87 L248.35,685.87 L248.65,685.87 L248.95,685.87 L249.25,685.87 L249.55,685.87 L249.85,685.87 L250.15,685.87 L250.45,685.87 L250.75,685.87 L251.05,685.87 L251.35,685.87 L251.65,685.87 L251.95,685.87 L252.25,685.87 L252.55,685.87 L252.85,685.87 L253.15,685.87 L253.45,685.87 L253.75,685.87 L254.05,685.87 L254.35,685.87 L254.65,685.87 L254.95,685.87 L255.25,685.87 L255.55,685.87 L255.85,685.87 L256.15,685.87 L256.45,685.87 L256.75,685.87 L257.05,685.87 L257.35,685.87 L257.65,685.87 L257.95,685.87 L258.25,685.87 L258.55,685.87 L258.85,685.87 L259.15,685.87 L259.45,685.87 L259.75,685.87 L260.05,685.87 L260.35,685.87 L260.65,685.87 L260.95,685.87 L261.25,685.87 L261.55,685.87 L261.85,685.87 L262.15,685.87 L262.45,685.87 L262.75,685.87 L263.05,685.87 L263.35,685.87 L263.65,685.87 L263.95,685.87 L264.25,685.87 L264.55,685.87 L264.85,685.87 L265.15,685.87" stroke="#000" stroke-width="1.62"/>
<path d="M52.15,685.86 L53.05,685.86 L53.35,685.75 L53.66,685.64 L53.96,685.54 L54.26,685.43 L54.56,685.32 L54.87,685.20 L55.17,685.09 L55.47,684.98 L55.77,684.86 L56.08,684.75 L56.38,684.63 L56.68,684.51 L56.98,684.39 L57.29,684.27 L57.59,684.14 L57.89,684.02 L58.20,683.89 L58.50,683.76 L58.80,683.63 L59.10,683.49 L59.41,683.35 L59.71,683.22 L60.01,683.07 L60.31,682.93 L60.62,682.78 L60.92,682.63 L61.22,682.47 L61.52,682.32 L61.83,682.15 L62.13,681.99 L62.43,681.82 L62.74,681.64 L63.04,681.47 L63.34,681.28 L63.64,681.10 L63.95,680.90 L64.25,680.70 L64.55,680.50 L64.85,680.29 L65.16,680.07 L65.46,679.85 L65.76,679.62 L66.07,679.38 L66.37,679.14 L66.67,678.89 L66.97,678.63 L67.28,678.36 L67.58,678.08 L67.88,677.79 L68.18,677.49 L68.49,677.18 L68.79,676.86 L69.09,676.53 L69.39,676.19 L69.70,675.83 L70.00,675.46 L70.30,675.08 L70.61,674.68 L70.91,674.26 L71.21,673.83 L71.51,673.38 L71.82,672.91 L72.12,672.43 L72.42,671.92 L72.72,671.40 L73.03,670.85 L73.33,670.27 L73.63,669.68 L73.93,669.06 L74.24,668.41 L74.54,667.73 L74.84,667.03 L75.15,666.29 L75.45,665.53 L75.75,664.73 L76.05,663.90 L76.36,663.03 L76.66,662.13 L76.96,661.19 L77.26,660.22 L77.57,659.20 L77.87,658.14 L78.17,657.05 L78.47,655.92 L78.78,654.74 L79.08,653.53 L79.38,652.28 L79.69,650.99 L79.99,649.66 L80.29,648.31 L80.59,646.92 L80.90,645.52 L81.20,644.09 L81.50,642.65 L81.80,641.20 L82.11,639.75 L82.41,638.32 L82.71,636.90 L83.02,635.52 L83.32,634.18 L83.62,632.90 L83.92,631.68 L84.23,630.55 L84.53,629.51 L84.83,628.58 L85.13,627.76 L85.44,627.08 L85.74,626.54 L86.04,626.14 L86.34,625.89 L86.65,625.79 L86.95,625.81 L87.25,625.94 L87.56,626.17 L87.86,626.50 L88.16,626.93 L88.46,627.47 L88.77,628.09 L89.07,628.81 L89.37,629.61 L89.67,630.49 L89.98,631.44 L90.28,632.46 L90.58,633.55 L90.88,634.68 L91.19,635.87 L91.49,637.10 L91.79,638.37 L92.10,639.67 L92.40,640.99 L92.70,642.33 L93.00,643.68 L93.31,645.04 L93.61,646.40 L93.91,647.75 L94.21,649.10 L94.52,650.44 L94.82,651.76 L95.12,653.07 L95.42,654.35 L95.73,655.61 L96.03,656.84 L96.33,658.04 L96.64,659.21 L96.94,660.35 L97.24,661.46 L97.54,662.53 L97.85,663.57 L98.15,664.57 L98.45,665.54 L98.75,666.48 L99.06,667.37 L99.36,668.24 L99.66,669.07 L99.97,669.87 L100.27,670.63 L100.57,671.36 L100.87,672.06 L101.18,672.73 L101.48,673.37 L101.78,673.98 L102.08,674.56 L102.39,675.11 L102.69,675.64 L102.99,676.15 L103.29,676.63 L103.60,677.08 L103.90,677.52 L104.20,677.93 L104.51,678.32 L104.81,678.70 L105.11,679.05 L105.41,679.39 L105.72,679.71 L106.02,680.01 L106.32,680.30 L106.62,680.58 L106.93,680.84 L107.23,681.08 L107.53,681.32 L107.83,681.54 L108.14,681.75 L108.44,681.95 L108.74,682.14 L109.05,682.32 L109.35,682.49 L109.65,682.65 L109.95,682.81 L110.26,682.95 L110.56,683.09 L110.86,683.22 L111.16,683.35 L111.47,683.46 L111.77,683.58 L112.07,683.68 L112.38,683.78 L112.68,683.88 L112.98,683.97 L113.28,684.06 L113.59,684.14 L113.89,684.22 L114.19,684.29 L114.49,684.37 L114.80,684.43 L115.10,684.50 L115.40,684.56 L115.70,684.62 L116.01,684.67 L116.31,684.72 L116.61,684.77 L116.92,684.82 L117.22,684.86 L117.52,684.91 L117.82,684.95 L118.13,684.99 L118.43,685.02 L118.73,685.06 L119.03,685.09 L119.34,685.13 L119.64,685.16 L119.94,685.19 L120.24,685.21 L120.55,685.24 L120.85,685.27 L121.15,685.29 L121.46,685.31 L121.76,685.33 L122.06,685.36 L122.36,685.38 L122.67,685.40 L122.97,685.41 L123.27,685.43 L123.57,685.45 L123.88,685.46 L124.18,685.48 L124.48,685.49 L124.78,685.51 L125.09,685.52 L125.39,685.53 L125.69,685.55 L126.00,685.56 L126.30,685.57 L126.60,685.58 L126.90,685.59 L127.21,685.60 L127.51,685.61 L127.81,685.62 L128.11,685.63 L128.42,685.64 L128.72,685.64 L129.02,685.65 L129.32,685.66 L129.63,685.67 L129.93,685.67 L130.23,685.68 L130.54,685.69 L130.84,685.69 L131.14,685.70 L131.44,685.70 L131.75,685.71 L132.05,685.71 L132.35,685.72 L132.65,685.72 L132.96,685.73 L133.26,685.73 L133.56,685.74 L133.87,685.74 L134.17,685.75 L134.47,685.75 L134.77,685.75 L135.08,685.76 L135.38,685.76 L135.68,685.76 L135.98,685.77 L136.29,685.77 L136.59,685.77 L136.89,685.77 L137.19,685.78 L137.50,685.78 L137.80,685.78 L138.10,685.78 L138.41,685.79 L138.71,685.79 L139.01,685.79 L139.31,685.79 L139.62,685.80 L139.92,685.80 L140.22,685.80 L140.52,685.80 L140.83,685.80 L141.13,685.80 L141.43,685.81 L141.73,685.81 L142.04,685.81 L142.34,685.81 L142.64,685.81 L142.95,685.81 L143.25,685.81 L143.55,685.82 L143.85,685.82 L144.16,685.82 L144.46,685.82 L144.76,685.82 L145.06,685.82 L145.37,685.82 L145.67,685.82 L145.97,685.83 L146.27,685.83 L146.58,685.83 L146.88,685.83 L147.18,685.83 L147.49,685.83 L147.79,685.83 L148.09,685.83 L148.39,685.83 L148.70,685.83 L149.00,685.83 L149.30,685.83 L149.60,685.83 L149.91,685.84 L150.21,685.84 L150.51,685.84 L150.82,685.84 L151.12,685.84 L151.42,685.84 L151.72,685.84 L152.03,685.84 L152.33,685.84 L152.63,685.84 L152.93,685.84 L153.24,685.84 L153.54,685.84 L153.84,685.84 L154.14,685.84 L154.45,685.84 L154.75,685.84 L155.05,685.84 L155.36,685.84 L155.66,685.84 L155.96,685.85 L156.26,685.85 L156.57,685.85 L156.87,685.85 L157.17,685.85 L157.47,685.85 L157.78,685.85 L158.08,685.85 L158.38,685.85 L158.68,685.85 L158.99,685.85 L159.29,685.85 L159.59,685.85 L159.90,685.85 L160.20,685.85 L160.50,685.85 L160.80,685.85 L161.11,685.85 L161.41,685.85 L161.71,685.85 L162.01,685.85 L162.32,685.85 L162.62,685.85 L162.92,685.85 L163.22,685.85 L163.53,685.85 L163.83,685.85 L164.13,685.85 L164.44,685.85 L164.74,685.85 L165.04,685.85 L165.34,685.85 L165.65,685.85 L165.95,685.85 L166.25,685.85 L166.55,685.85 L166.86,685.85 L167.16,685.85 L167.46,685.85 L167.77,685.85 L168.07,685.85 L168.37,685.85 L168.67,685.85 L168.98,685.85 L169.28,685.85 L169.58,685.85 L169.88,685.85 L170.19,685.85 L170.49,685.86 L170.79,685.86 L171.09,685.86 L171.40,685.86 L171.70,685.86 L172.00,685.86 L172.31,685.86 L172.61,685.86 L172.91,685.86 L173.21,685.86 L173.52,685.86 L173.82,685.86 L174.12,685.86 L174.42,685.86 L174.73,685.86 L175.03,685.86 L175.33,685.86 L175.63,685.86 L175.94,685.86 L176.24,685.86 L176.54,685.86 L176.85,685.86 L177.15,685.86 L177.45,685.86 L177.75,685.86 L178.06,685.86 L178.36,685.86 L178.66,685.86 L178.96,685.86 L179.27,685.86 L179.57,685.86 L179.87,685.86 L180.18,685.86 L180.48,685.86 L180.78,685.86 L181.08,685.86 L181.39,685.86 L181.69,685.86 L181.99,685.86 L182.29,685.86 L182.60,685.86 L182.90,685.86 L183.20,685.86 L183.50,685.86 L183.81,685.86 L184.11,685.86 L184.41,685.86 L184.72,685.86 L185.02,685.86 L185.32,685.86 L185.62,685.86 L185.93,685.86 L186.23,685.86 L186.53,685.86 L186.83,685.86 L187.14,685.86 L187.44,685.86 L187.74,685.86 L188.04,685.86 L188.35,685.86 L188.65,685.86 L188.95,685.86 L189.26,685.86 L189.56,685.86 L189.86,685.86 L190.16,685.86 L190.47,685.86 L190.77,685.86 L191.07,685.86 L191.37,685.86 L191.68,685.86 L191.98,685.86 L192.28,685.86 L192.58,685.86 L192.89,685.86 L193.19,685.86 L193.49,685.86 L193.80,685.86 L194.10,685.86 L194.40,685.86 L194.70,685.86 L195.01,685.86 L195.31,685.86 L195.61,685.86 L195.91,685.86 L196.22,685.86 L196.52,685.86 L196.82,685.86 L197.12,685.86 L197.43,685.86 L197.73,685.86 L198.03,685.86 L198.34,685.86 L198.64,685.86 L198.94,685.86 L199.24,685.86 L199.55,685.86 L199.85,685.86 L200.15,685.86 L200.45,685.86 L200.76,685.86 L201.06,685.86 L201.36,685.86 L201.67,685.86 L201.97,685.86 L202.27,685.86 L202.57,685.86 L202.88,685.86 L203.18,685.86 L203.48,685.86 L203.78,685.86 L204.09,685.86 L204.39,685.86 L204.69,685.86 L204.99,685.86 L205.30,685.86 L205.60,685.86 L205.90,685.86 L206.21,685.86 L206.51,685.86 L206.81,685.86 L207.11,685.86 L207.42,685.86 L207.72,685.86 L208.02,685.86 L208.32,685.86 L208.63,685.86 L208.93,685.86 L209.23,685.86 L209.53,685.86 L209.84,685.86 L210.14,685.86 L210.44,685.86 L210.75,685.86 L211.05,685.86 L211.35,685.86 L211.65,685.86 L211.96,685.86 L212.26,685.86 L212.56,685.86 L212.86,685.86 L213.17,685.86 L213.47,685.86 L213.77,685.86 L214.07,685.86 L214.38,685.86 L214.68,685.86 L214.98,685.86 L215.29,685.86 L215.59,685.86 L215.89,685.86 L216.19,685.86 L216.50,685.86 L216.80,685.86 L217.10,685.86 L217.40,685.86 L217.71,685.86 L218.01,685.86 L218.31,685.86 L218.62,685.86 L218.92,685.86 L219.22,685.86 L219.52,685.86 L219.83,685.86 L220.13,685.86 L220.43,685.86 L220.73,685.86 L221.04,685.86 L221.34,685.86 L221.64,685.86 L221.94,685.86 L222.25,685.86 L222.55,685.86 L222.85,685.86 L223.16,685.86 L223.46,685.86 L223.76,685.86 L224.06,685.86 L224.37,685.86 L224.67,685.86 L224.97,685.86 L225.27,685.86 L225.58,685.86 L225.88,685.86 L226.18,685.86 L226.48,685.86 L226.79,685.86 L227.09,685.86 L227.39,685.86 L227.70,685.86 L228.00,685.86 L228.30,685.86 L228.60,685.86 L228.91,685.86 L229.21,685.86 L229.51,685.86 L229.81,685.86 L230.12,685.86 L230.42,685.86 L230.72,685.86 L231.02,685.86 L231.33,685.86 L231.63,685.86 L231.93,685.86 L232.24,685.86 L232.54,685.86 L232.84,685.86 L233.14,685.86 L233.45,685.86 L233.75,685.86 L234.05,685.86 L234.35,685.86 L234.66,685.86 L234.96,685.86 L235.26,685.86 L235.57,685.86 L235.87,685.86 L236.17,685.86 L236.47,685.86 L236.78,685.86 L237.08,685.86 L237.38,685.86 L237.68,685.86 L237.99,685.86 L238.29,685.86 L238.59,685.86 L238.89,685.86 L239.20,685.86 L239.50,685.86 L239.80,685.86 L240.11,685.86 L240.41,685.86 L240.71,685.86 L241.01,685.86 L241.32,685.86 L241.62,685.86 L241.92,685.86 L242.22,685.86 L242.53,685.86 L242.83,685.86 L243.13,685.86 L243.43,685.86 L243.74,685.86 L244.04,685.86 L244.34,685.86 L244.65,685.86 L244.95,685.86 L245.25,685.86 L245.55,685.86 L245.86,685.86 L246.16,685.86 L246.46,685.86 L246.76,685.86 L247.07,685.86 L247.37,685.86 L247.67,685.86 L247.98,685.86 L248.28,685.86 L248.58,685.86 L248.88,685.86 L249.19,685.86 L249.49,685.86 L249.79,685.86 L250.09,685.86 L250.40,685.86 L250.70,685.86 L251.00,685.86 L251.30,685.86 L251.61,685.86 L251.91,685.86 L252.21,685.86 L252.52,685.86 L252.82,685.86 L253.12,685.86 L253.42,685.86 L253.73,685.86 L254.03,685.86 L254.33,685.86 L254.63,685.86 L254.94,685.86 L255.24,685.86 L255.54,685.86 L255.84,685.86 L256.15,685.86 L256.45,685.86 L256.75,685.86 L257.06,685.86 L257.36,685.86 L257.66,685.86 L257.96,685.86 L258.27,685.86 L258.57,685.86 L258.87,685.86 L259.17,685.86 L259.48,685.86 L259.78,685.86 L260.08,685.86 L260.38,685.86 L260.69,685.86 L260.99,685.86 L261.29,685.86 L261.60,685.86 L261.90,685.86 L262.20,685.86 L262.50,685.86 L262.81,685.86 L263.11,685.86 L263.41,685.86 L263.71,685.86 L264.02,685.86 L264.32,685.86 L264.62,685.86 L264.93,685.86" stroke="#ff0000" stroke-width="1.62" stroke-dasharray="3.8 1.8"/>
</g>
<path d="M83.75,647.97 V653.77" stroke="#000" stroke-width="1.25" fill="none"/>
<path d="M81.85,652.47 L85.65,652.47 L83.75,656.37 Z" fill="#000"/>
<clipPath id="ca2"><rect x="52.15" y="698.08" width="212.78" height="81.29"/></clipPath>
<g clip-path="url(#ca2)" fill="none" stroke-linejoin="round">
<path d="M53.05,763.70 L53.35,763.74 L53.65,763.79 L53.95,763.85 L54.25,763.91 L54.55,763.98 L54.85,764.04 L55.15,764.10 L55.45,764.17 L55.75,764.23 L56.05,764.30 L56.35,764.37 L56.65,764.45 L56.95,764.52 L57.25,764.59 L57.55,764.65 L57.85,764.70 L58.15,764.74 L58.45,764.77 L58.75,764.78 L59.05,764.77 L59.35,764.75 L59.65,764.72 L59.95,764.68 L60.25,764.62 L60.55,764.56 L60.85,764.50 L61.15,764.43 L61.45,764.35 L61.75,764.27 L62.05,764.19 L62.35,764.11 L62.65,764.03 L62.95,763.94 L63.25,763.85 L63.55,763.76 L63.85,763.66 L64.15,763.56 L64.45,763.45 L64.75,763.33 L65.05,763.21 L65.35,763.08 L65.65,762.95 L65.95,762.82 L66.25,762.69 L66.55,762.55 L66.85,762.42 L67.15,762.28 L67.45,762.13 L67.75,761.99 L68.05,761.84 L68.35,761.69 L68.65,761.53 L68.95,761.37 L69.25,761.20 L69.55,761.04 L69.85,760.87 L70.15,760.71 L70.45,760.54 L70.75,760.38 L71.05,760.21 L71.35,760.05 L71.65,759.89 L71.95,759.73 L72.25,759.56 L72.55,759.40 L72.85,759.24 L73.15,759.08 L73.45,758.93 L73.75,758.79 L74.05,758.66 L74.35,758.55 L74.65,758.45 L74.95,758.37 L75.25,758.30 L75.55,758.24 L75.85,758.18 L76.15,758.13 L76.45,758.07 L76.75,758.00 L77.05,757.91 L77.35,757.79 L77.65,757.64 L77.95,757.43 L78.25,757.15 L78.55,756.81 L78.85,756.39 L79.15,755.89 L79.45,755.32 L79.75,754.66 L80.05,753.90 L80.35,753.03 L80.65,752.06 L80.95,751.00 L81.25,749.85 L81.55,748.62 L81.85,747.30 L82.15,745.89 L82.45,744.39 L82.75,742.81 L83.05,741.18 L83.35,739.51 L83.65,737.82 L83.95,736.13 L84.25,734.43 L84.55,732.75 L84.85,731.11 L85.15,729.54 L85.45,728.08 L85.75,726.76 L86.05,725.57 L86.35,724.54 L86.65,723.65 L86.95,722.94 L87.25,722.41 L87.55,722.08 L87.85,721.98 L88.15,722.13 L88.45,722.59 L88.75,723.37 L89.05,724.48 L89.35,725.94 L89.65,727.71 L89.95,729.74 L90.25,731.97 L90.55,734.31 L90.85,736.70 L91.15,739.10 L91.45,741.48 L91.75,743.80 L92.05,746.02 L92.35,748.11 L92.65,750.07 L92.95,751.88 L93.25,753.55 L93.55,755.07 L93.85,756.45 L94.15,757.70 L94.45,758.82 L94.75,759.82 L95.05,760.67 L95.35,761.40 L95.65,762.00 L95.95,762.51 L96.25,762.94 L96.55,763.30 L96.85,763.61 L97.15,763.87 L97.45,764.09 L97.75,764.27 L98.05,764.43 L98.35,764.56 L98.65,764.68 L98.95,764.79 L99.25,764.88 L99.55,764.95 L99.85,765.01 L100.15,765.05 L100.45,765.07 L100.75,765.08 L101.05,765.09 L101.35,765.09 L101.65,765.09 L101.95,765.09 L102.25,765.09 L102.55,765.08 L102.85,765.08 L103.15,765.08 L103.45,765.07 L103.75,765.07 L104.05,765.06 L104.35,765.05 L104.65,765.05 L104.95,765.04 L105.25,765.03 L105.55,765.02 L105.85,765.02 L106.15,765.01 L106.45,765.00 L106.75,764.99 L107.05,764.97 L107.35,764.96 L107.65,764.94 L107.95,764.91 L108.25,764.87 L108.55,764.81 L108.85,764.75 L109.15,764.66 L109.45,764.57 L109.75,764.47 L110.05,764.35 L110.35,764.22 L110.65,764.08 L110.95,763.93 L111.25,763.75 L111.55,763.54 L111.85,763.30 L112.15,763.02 L112.45,762.69 L112.75,762.34 L113.05,761.94 L113.35,761.52 L113.65,761.08 L113.95,760.61 L114.25,760.10 L114.55,759.57 L114.85,758.98 L115.15,758.36 L115.45,757.70 L115.75,757.01 L116.05,756.29 L116.35,755.56 L116.65,754.81 L116.95,754.05 L117.25,753.27 L117.55,752.47 L117.85,751.66 L118.15,750.82 L118.45,749.97 L118.75,749.10 L119.05,748.24 L119.35,747.37 L119.65,746.52 L119.95,745.67 L120.25,744.84 L120.55,744.03 L120.85,743.23 L121.15,742.44 L121.45,741.66 L121.75,740.89 L122.05,740.12 L122.35,739.37 L122.65,738.63 L122.95,737.92 L123.25,737.23 L123.55,736.57 L123.85,735.94 L124.15,735.34 L124.45,734.76 L124.75,734.20 L125.05,733.67 L125.35,733.16 L125.65,732.70 L125.95,732.28 L126.25,731.91 L126.55,731.60 L126.85,731.34 L127.15,731.15 L127.45,731.02 L127.75,730.95 L128.05,730.95 L128.35,731.03 L128.65,731.16 L128.95,731.35 L129.25,731.59 L129.55,731.89 L129.85,732.24 L130.15,732.67 L130.45,733.16 L130.75,733.71 L131.05,734.30 L131.35,734.94 L131.65,735.62 L131.95,736.33 L132.25,737.08 L132.55,737.87 L132.85,738.70 L133.15,739.55 L133.45,740.44 L133.75,741.36 L134.05,742.31 L134.35,743.29 L134.65,744.30 L134.95,745.32 L135.25,746.34 L135.55,747.34 L135.85,748.32 L136.15,749.27 L136.45,750.20 L136.75,751.10 L137.05,751.98 L137.35,752.84 L137.65,753.68 L137.95,754.49 L138.25,755.27 L138.55,756.00 L138.85,756.69 L139.15,757.34 L139.45,757.94 L139.75,758.50 L140.05,759.04 L140.35,759.55 L140.65,760.04 L140.95,760.50 L141.25,760.94 L141.55,761.35 L141.85,761.73 L142.15,762.08 L142.45,762.39 L142.75,762.68 L143.05,762.94 L143.35,763.17 L143.65,763.39 L143.95,763.60 L144.25,763.79 L144.55,763.97 L144.85,764.15 L145.15,764.31 L145.45,764.46 L145.75,764.59 L146.05,764.72 L146.35,764.82 L146.65,764.92 L146.95,765.00 L147.25,765.06 L147.55,765.12 L147.85,765.17 L148.15,765.21 L148.45,765.25 L148.75,765.29 L149.05,765.33 L149.35,765.36 L149.65,765.39 L149.95,765.42 L150.25,765.45 L150.55,765.48 L150.85,765.50 L151.15,765.53 L151.45,765.55 L151.75,765.57 L152.05,765.59 L152.35,765.60 L152.65,765.62 L152.95,765.63 L153.25,765.65 L153.55,765.66 L153.85,765.67 L154.15,765.68 L154.45,765.70 L154.75,765.71 L155.05,765.72 L155.35,765.73 L155.65,765.74 L155.95,765.75 L156.25,765.75 L156.55,765.76 L156.85,765.77 L157.15,765.78 L157.45,765.78 L157.75,765.79 L158.05,765.80 L158.35,765.80 L158.65,765.81 L158.95,765.81 L159.25,765.81 L159.55,765.81 L159.85,765.82 L160.15,765.82 L160.45,765.82 L160.75,765.82 L161.05,765.82 L161.35,765.82 L161.65,765.82 L161.95,765.82 L162.25,765.82 L162.55,765.82 L162.85,765.82 L163.15,765.82 L163.45,765.82 L163.75,765.82 L164.05,765.82 L164.35,765.82 L164.65,765.82 L164.95,765.82 L165.25,765.82 L165.55,765.82 L165.85,765.82 L166.15,765.82 L166.45,765.82 L166.75,765.82 L167.05,765.82 L167.35,765.82 L167.65,765.82 L167.95,765.82 L168.25,765.82 L168.55,765.82 L168.85,765.82 L169.15,765.82 L169.45,765.82 L169.75,765.82 L170.05,765.82 L170.35,765.82 L170.65,765.82 L170.95,765.82 L171.25,765.82 L171.55,765.82 L171.85,765.82 L172.15,765.82 L172.45,765.82 L172.75,765.82 L173.05,765.82 L173.35,765.82 L173.65,765.82 L173.95,765.82 L174.25,765.82 L174.55,765.82 L174.85,765.82 L175.15,765.82 L175.45,765.82 L175.75,765.82 L176.05,765.82 L176.35,765.82 L176.65,765.82 L176.95,765.82 L177.25,765.82 L177.55,765.82 L177.85,765.82 L178.15,765.82 L178.45,765.82 L178.75,765.82 L179.05,765.82 L179.35,765.82 L179.65,765.82 L179.95,765.82 L180.25,765.82 L180.55,765.82 L180.85,765.82 L181.15,765.82 L181.45,765.82 L181.75,765.82 L182.05,765.82 L182.35,765.82 L182.65,765.82 L182.95,765.82 L183.25,765.82 L183.55,765.82 L183.85,765.82 L184.15,765.82 L184.45,765.82 L184.75,765.82 L185.05,765.82 L185.35,765.82 L185.65,765.82 L185.95,765.82 L186.25,765.82 L186.55,765.82 L186.85,765.82 L187.15,765.82 L187.45,765.82 L187.75,765.82 L188.05,765.82 L188.35,765.82 L188.65,765.82 L188.95,765.82 L189.25,765.82 L189.55,765.82 L189.85,765.82 L190.15,765.82 L190.45,765.82 L190.75,765.82 L191.05,765.82 L191.35,765.82 L191.65,765.82 L191.95,765.81 L192.25,765.81 L192.55,765.81 L192.85,765.81 L193.15,765.81 L193.45,765.81 L193.75,765.81 L194.05,765.81 L194.35,765.81 L194.65,765.81 L194.95,765.81 L195.25,765.81 L195.55,765.81 L195.85,765.81 L196.15,765.81 L196.45,765.80 L196.75,765.80 L197.05,765.79 L197.35,765.79 L197.65,765.78 L197.95,765.76 L198.25,765.75 L198.55,765.72 L198.85,765.70 L199.15,765.67 L199.45,765.63 L199.75,765.59 L200.05,765.54 L200.35,765.49 L200.65,765.43 L200.95,765.37 L201.25,765.30 L201.55,765.24 L201.85,765.17 L202.15,765.11 L202.45,765.06 L202.75,765.01 L203.05,764.97 L203.35,764.94 L203.65,764.92 L203.95,764.92 L204.25,764.92 L204.55,764.94 L204.85,764.98 L205.15,765.02 L205.45,765.07 L205.75,765.13 L206.05,765.19 L206.35,765.26 L206.65,765.32 L206.95,765.39 L207.25,765.45 L207.55,765.50 L207.85,765.56 L208.15,765.60 L208.45,765.64 L208.75,765.68 L209.05,765.71 L209.35,765.73 L209.65,765.75 L209.95,765.77 L210.25,765.78 L210.55,765.79 L210.85,765.80 L211.15,765.80 L211.45,765.81 L211.75,765.81 L212.05,765.81 L212.35,765.81 L212.65,765.81 L212.95,765.81 L213.25,765.81 L213.55,765.81 L213.85,765.81 L214.15,765.81 L214.45,765.81 L214.75,765.81 L215.05,765.81 L215.35,765.81 L215.65,765.81 L215.95,765.82 L216.25,765.82 L216.55,765.82 L216.85,765.82 L217.15,765.82 L217.45,765.82 L217.75,765.82 L218.05,765.82 L218.35,765.82 L218.65,765.82 L218.95,765.82 L219.25,765.82 L219.55,765.82 L219.85,765.82 L220.15,765.82 L220.45,765.82 L220.75,765.82 L221.05,765.82 L221.35,765.82 L221.65,765.82 L221.95,765.82 L222.25,765.82 L222.55,765.82 L222.85,765.82 L223.15,765.82 L223.45,765.82 L223.75,765.82 L224.05,765.82 L224.35,765.82 L224.65,765.82 L224.95,765.82 L225.25,765.82 L225.55,765.82 L225.85,765.82 L226.15,765.82 L226.45,765.82 L226.75,765.82 L227.05,765.82 L227.35,765.82 L227.65,765.82 L227.95,765.82 L228.25,765.82 L228.55,765.82 L228.85,765.82 L229.15,765.82 L229.45,765.82 L229.75,765.82 L230.05,765.82 L230.35,765.82 L230.65,765.82 L230.95,765.82 L231.25,765.82 L231.55,765.82 L231.85,765.82 L232.15,765.82 L232.45,765.82 L232.75,765.82 L233.05,765.82 L233.35,765.82 L233.65,765.82 L233.95,765.82 L234.25,765.82 L234.55,765.82 L234.85,765.82 L235.15,765.82 L235.45,765.82 L235.75,765.82 L236.05,765.82 L236.35,765.82 L236.65,765.82 L236.95,765.82 L237.25,765.82 L237.55,765.82 L237.85,765.82 L238.15,765.82 L238.45,765.82 L238.75,765.82 L239.05,765.82 L239.35,765.82 L239.65,765.82 L239.95,765.82 L240.25,765.82 L240.55,765.82 L240.85,765.82 L241.15,765.82 L241.45,765.82 L241.75,765.82 L242.05,765.82 L242.35,765.82 L242.65,765.82 L242.95,765.82 L243.25,765.82 L243.55,765.82 L243.85,765.82 L244.15,765.82 L244.45,765.82 L244.75,765.82 L245.05,765.82 L245.35,765.82 L245.65,765.82 L245.95,765.82 L246.25,765.82 L246.55,765.82 L246.85,765.82 L247.15,765.82 L247.45,765.82 L247.75,765.82 L248.05,765.82 L248.35,765.82 L248.65,765.82 L248.95,765.82 L249.25,765.82 L249.55,765.82 L249.85,765.82 L250.15,765.82 L250.45,765.82 L250.75,765.82 L251.05,765.82 L251.35,765.82 L251.65,765.82 L251.95,765.82 L252.25,765.82 L252.55,765.82 L252.85,765.82 L253.15,765.82 L253.45,765.82 L253.75,765.82 L254.05,765.82 L254.35,765.82 L254.65,765.82 L254.95,765.82 L255.25,765.82 L255.55,765.82 L255.85,765.82 L256.15,765.82 L256.45,765.82 L256.75,765.82 L257.05,765.82 L257.35,765.82 L257.65,765.82 L257.95,765.82 L258.25,765.82 L258.55,765.82 L258.85,765.82 L259.15,765.82 L259.45,765.82 L259.75,765.82 L260.05,765.82 L260.35,765.82 L260.65,765.82 L260.95,765.82 L261.25,765.82 L261.55,765.82 L261.85,765.82 L262.15,765.82 L262.45,765.82 L262.75,765.82 L263.05,765.82 L263.35,765.82 L263.65,765.82 L263.95,765.82 L264.25,765.82 L264.55,765.82 L264.85,765.82 L265.15,765.82" stroke="#000" stroke-width="1.62"/>
<path d="M52.15,765.80 L53.05,765.80 L53.35,765.71 L53.66,765.62 L53.96,765.52 L54.26,765.43 L54.56,765.34 L54.87,765.24 L55.17,765.15 L55.47,765.06 L55.77,764.96 L56.08,764.87 L56.38,764.78 L56.68,764.68 L56.98,764.59 L57.29,764.49 L57.59,764.39 L57.89,764.30 L58.20,764.20 L58.50,764.10 L58.80,764.00 L59.10,763.90 L59.41,763.80 L59.71,763.70 L60.01,763.60 L60.31,763.49 L60.62,763.39 L60.92,763.28 L61.22,763.17 L61.52,763.06 L61.83,762.95 L62.13,762.84 L62.43,762.72 L62.74,762.61 L63.04,762.49 L63.34,762.37 L63.64,762.25 L63.95,762.13 L64.25,762.00 L64.55,761.87 L64.85,761.74 L65.16,761.61 L65.46,761.47 L65.76,761.33 L66.07,761.19 L66.37,761.05 L66.67,760.90 L66.97,760.75 L67.28,760.60 L67.58,760.44 L67.88,760.28 L68.18,760.12 L68.49,759.95 L68.79,759.78 L69.09,759.60 L69.39,759.42 L69.70,759.23 L70.00,759.04 L70.30,758.85 L70.61,758.65 L70.91,758.44 L71.21,758.23 L71.51,758.01 L71.82,757.79 L72.12,757.56 L72.42,757.32 L72.72,757.07 L73.03,756.82 L73.33,756.56 L73.63,756.29 L73.93,756.02 L74.24,755.73 L74.54,755.44 L74.84,755.14 L75.15,754.82 L75.45,754.50 L75.75,754.17 L76.05,753.82 L76.36,753.46 L76.66,753.09 L76.96,752.71 L77.26,752.32 L77.57,751.91 L77.87,751.48 L78.17,751.05 L78.47,750.59 L78.78,750.12 L79.08,749.63 L79.38,749.13 L79.69,748.60 L79.99,748.06 L80.29,747.50 L80.59,746.91 L80.90,746.31 L81.20,745.68 L81.50,745.03 L81.80,744.36 L82.11,743.66 L82.41,742.93 L82.71,742.18 L83.02,741.41 L83.32,740.60 L83.62,739.77 L83.92,738.91 L84.23,738.01 L84.53,737.09 L84.83,736.14 L85.13,735.16 L85.44,734.15 L85.74,733.11 L86.04,732.04 L86.34,730.94 L86.65,729.81 L86.95,728.66 L87.25,727.48 L87.56,726.28 L87.86,725.06 L88.16,723.83 L88.46,722.58 L88.77,721.32 L89.07,720.05 L89.37,718.79 L89.67,717.54 L89.98,716.30 L90.28,715.08 L90.58,713.88 L90.88,712.72 L91.19,711.61 L91.49,710.55 L91.79,709.55 L92.10,708.62 L92.40,707.77 L92.70,707.00 L93.00,706.33 L93.31,705.76 L93.61,705.30 L93.91,704.94 L94.21,704.71 L94.52,704.59 L94.82,704.58 L95.12,704.68 L95.42,704.88 L95.73,705.19 L96.03,705.59 L96.33,706.09 L96.64,706.69 L96.94,707.38 L97.24,708.15 L97.54,709.01 L97.85,709.94 L98.15,710.94 L98.45,712.01 L98.75,713.14 L99.06,714.32 L99.36,715.56 L99.66,716.83 L99.97,718.14 L100.27,719.47 L100.57,720.84 L100.87,722.22 L101.18,723.61 L101.48,725.01 L101.78,726.41 L102.08,727.81 L102.39,729.20 L102.69,730.58 L102.99,731.94 L103.29,733.29 L103.60,734.61 L103.90,735.91 L104.20,737.18 L104.51,738.43 L104.81,739.64 L105.11,740.82 L105.41,741.96 L105.72,743.07 L106.02,744.15 L106.32,745.19 L106.62,746.19 L106.93,747.15 L107.23,748.08 L107.53,748.97 L107.83,749.83 L108.14,750.65 L108.44,751.43 L108.74,752.18 L109.05,752.90 L109.35,753.58 L109.65,754.23 L109.95,754.85 L110.26,755.45 L110.56,756.01 L110.86,756.54 L111.16,757.05 L111.47,757.53 L111.77,757.99 L112.07,758.42 L112.38,758.83 L112.68,759.22 L112.98,759.59 L113.28,759.93 L113.59,760.26 L113.89,760.57 L114.19,760.87 L114.49,761.14 L114.80,761.41 L115.10,761.65 L115.40,761.89 L115.70,762.11 L116.01,762.32 L116.31,762.51 L116.61,762.70 L116.92,762.87 L117.22,763.04 L117.52,763.19 L117.82,763.34 L118.13,763.48 L118.43,763.61 L118.73,763.73 L119.03,763.84 L119.34,763.95 L119.64,764.05 L119.94,764.15 L120.24,764.24 L120.55,764.33 L120.85,764.41 L121.15,764.49 L121.46,764.56 L121.76,764.63 L122.06,764.69 L122.36,764.75 L122.67,764.81 L122.97,764.86 L123.27,764.91 L123.57,764.96 L123.88,765.00 L124.18,765.05 L124.48,765.09 L124.78,765.12 L125.09,765.16 L125.39,765.19 L125.69,765.22 L126.00,765.25 L126.30,765.28 L126.60,765.31 L126.90,765.34 L127.21,765.36 L127.51,765.38 L127.81,765.40 L128.11,765.42 L128.42,765.44 L128.72,765.46 L129.02,765.48 L129.32,765.49 L129.63,765.51 L129.93,765.52 L130.23,765.54 L130.54,765.55 L130.84,765.56 L131.14,765.57 L131.44,765.58 L131.75,765.60 L132.05,765.61 L132.35,765.61 L132.65,765.62 L132.96,765.63 L133.26,765.64 L133.56,765.65 L133.87,765.65 L134.17,765.66 L134.47,765.67 L134.77,765.67 L135.08,765.68 L135.38,765.69 L135.68,765.69 L135.98,765.70 L136.29,765.70 L136.59,765.70 L136.89,765.71 L137.19,765.71 L137.50,765.72 L137.80,765.72 L138.10,765.72 L138.41,765.73 L138.71,765.73 L139.01,765.73 L139.31,765.74 L139.62,765.74 L139.92,765.74 L140.22,765.74 L140.52,765.75 L140.83,765.75 L141.13,765.75 L141.43,765.75 L141.73,765.76 L142.04,765.76 L142.34,765.76 L142.64,765.76 L142.95,765.76 L143.25,765.76 L143.55,765.77 L143.85,765.77 L144.16,765.77 L144.46,765.77 L144.76,765.77 L145.06,765.77 L145.37,765.77 L145.67,765.77 L145.97,765.78 L146.27,765.78 L146.58,765.78 L146.88,765.78 L147.18,765.78 L147.49,765.78 L147.79,765.78 L148.09,765.78 L148.39,765.78 L148.70,765.78 L149.00,765.78 L149.30,765.78 L149.60,765.78 L149.91,765.79 L150.21,765.79 L150.51,765.79 L150.82,765.79 L151.12,765.79 L151.42,765.79 L151.72,765.79 L152.03,765.79 L152.33,765.79 L152.63,765.79 L152.93,765.79 L153.24,765.79 L153.54,765.79 L153.84,765.79 L154.14,765.79 L154.45,765.79 L154.75,765.79 L155.05,765.79 L155.36,765.79 L155.66,765.79 L155.96,765.79 L156.26,765.79 L156.57,765.79 L156.87,765.79 L157.17,765.79 L157.47,765.79 L157.78,765.79 L158.08,765.79 L158.38,765.79 L158.68,765.79 L158.99,765.79 L159.29,765.80 L159.59,765.80 L159.90,765.80 L160.20,765.80 L160.50,765.80 L160.80,765.80 L161.11,765.80 L161.41,765.80 L161.71,765.80 L162.01,765.80 L162.32,765.80 L162.62,765.80 L162.92,765.80 L163.22,765.80 L163.53,765.80 L163.83,765.80 L164.13,765.80 L164.44,765.80 L164.74,765.80 L165.04,765.80 L165.34,765.80 L165.65,765.80 L165.95,765.80 L166.25,765.80 L166.55,765.80 L166.86,765.80 L167.16,765.80 L167.46,765.80 L167.77,765.80 L168.07,765.80 L168.37,765.80 L168.67,765.80 L168.98,765.80 L169.28,765.80 L169.58,765.80 L169.88,765.80 L170.19,765.80 L170.49,765.80 L170.79,765.80 L171.09,765.80 L171.40,765.80 L171.70,765.80 L172.00,765.80 L172.31,765.80 L172.61,765.80 L172.91,765.80 L173.21,765.80 L173.52,765.80 L173.82,765.80 L174.12,765.80 L174.42,765.80 L174.73,765.80 L175.03,765.80 L175.33,765.80 L175.63,765.80 L175.94,765.80 L176.24,765.80 L176.54,765.80 L176.85,765.80 L177.15,765.80 L177.45,765.80 L177.75,765.80 L178.06,765.80 L178.36,765.80 L178.66,765.80 L178.96,765.80 L179.27,765.80 L179.57,765.80 L179.87,765.80 L180.18,765.80 L180.48,765.80 L180.78,765.80 L181.08,765.80 L181.39,765.80 L181.69,765.80 L181.99,765.80 L182.29,765.80 L182.60,765.80 L182.90,765.80 L183.20,765.80 L183.50,765.80 L183.81,765.80 L184.11,765.80 L184.41,765.80 L184.72,765.80 L185.02,765.80 L185.32,765.80 L185.62,765.80 L185.93,765.80 L186.23,765.80 L186.53,765.80 L186.83,765.80 L187.14,765.80 L187.44,765.80 L187.74,765.80 L188.04,765.80 L188.35,765.80 L188.65,765.80 L188.95,765.80 L189.26,765.80 L189.56,765.80 L189.86,765.80 L190.16,765.80 L190.47,765.80 L190.77,765.80 L191.07,765.80 L191.37,765.80 L191.68,765.80 L191.98,765.80 L192.28,765.80 L192.58,765.80 L192.89,765.80 L193.19,765.80 L193.49,765.80 L193.80,765.80 L194.10,765.80 L194.40,765.80 L194.70,765.80 L195.01,765.80 L195.31,765.80 L195.61,765.80 L195.91,765.80 L196.22,765.80 L196.52,765.80 L196.82,765.80 L197.12,765.80 L197.43,765.80 L197.73,765.80 L198.03,765.80 L198.34,765.80 L198.64,765.80 L198.94,765.80 L199.24,765.80 L199.55,765.80 L199.85,765.80 L200.15,765.80 L200.45,765.80 L200.76,765.80 L201.06,765.80 L201.36,765.80 L201.67,765.80 L201.97,765.80 L202.27,765.80 L202.57,765.80 L202.88,765.80 L203.18,765.80 L203.48,765.80 L203.78,765.80 L204.09,765.80 L204.39,765.80 L204.69,765.80 L204.99,765.80 L205.30,765.80 L205.60,765.80 L205.90,765.80 L206.21,765.80 L206.51,765.80 L206.81,765.80 L207.11,765.80 L207.42,765.80 L207.72,765.80 L208.02,765.80 L208.32,765.80 L208.63,765.80 L208.93,765.80 L209.23,765.80 L209.53,765.80 L209.84,765.80 L210.14,765.80 L210.44,765.80 L210.75,765.80 L211.05,765.80 L211.35,765.80 L211.65,765.80 L211.96,765.80 L212.26,765.80 L212.56,765.80 L212.86,765.80 L213.17,765.80 L213.47,765.80 L213.77,765.80 L214.07,765.80 L214.38,765.80 L214.68,765.80 L214.98,765.80 L215.29,765.80 L215.59,765.80 L215.89,765.80 L216.19,765.80 L216.50,765.80 L216.80,765.80 L217.10,765.80 L217.40,765.80 L217.71,765.80 L218.01,765.80 L218.31,765.80 L218.62,765.80 L218.92,765.80 L219.22,765.80 L219.52,765.80 L219.83,765.80 L220.13,765.80 L220.43,765.80 L220.73,765.80 L221.04,765.80 L221.34,765.80 L221.64,765.80 L221.94,765.80 L222.25,765.80 L222.55,765.80 L222.85,765.80 L223.16,765.80 L223.46,765.80 L223.76,765.80 L224.06,765.80 L224.37,765.80 L224.67,765.80 L224.97,765.80 L225.27,765.80 L225.58,765.80 L225.88,765.80 L226.18,765.80 L226.48,765.80 L226.79,765.80 L227.09,765.80 L227.39,765.80 L227.70,765.80 L228.00,765.80 L228.30,765.80 L228.60,765.80 L228.91,765.80 L229.21,765.80 L229.51,765.80 L229.81,765.80 L230.12,765.80 L230.42,765.80 L230.72,765.80 L231.02,765.80 L231.33,765.80 L231.63,765.80 L231.93,765.80 L232.24,765.80 L232.54,765.80 L232.84,765.80 L233.14,765.80 L233.45,765.80 L233.75,765.80 L234.05,765.80 L234.35,765.80 L234.66,765.80 L234.96,765.80 L235.26,765.80 L235.57,765.80 L235.87,765.80 L236.17,765.80 L236.47,765.80 L236.78,765.80 L237.08,765.80 L237.38,765.80 L237.68,765.80 L237.99,765.80 L238.29,765.80 L238.59,765.80 L238.89,765.80 L239.20,765.80 L239.50,765.80 L239.80,765.80 L240.11,765.80 L240.41,765.80 L240.71,765.80 L241.01,765.80 L241.32,765.80 L241.62,765.80 L241.92,765.80 L242.22,765.80 L242.53,765.80 L242.83,765.80 L243.13,765.80 L243.43,765.80 L243.74,765.80 L244.04,765.80 L244.34,765.80 L244.65,765.80 L244.95,765.80 L245.25,765.80 L245.55,765.80 L245.86,765.80 L246.16,765.80 L246.46,765.80 L246.76,765.80 L247.07,765.80 L247.37,765.80 L247.67,765.80 L247.98,765.80 L248.28,765.80 L248.58,765.80 L248.88,765.80 L249.19,765.80 L249.49,765.80 L249.79,765.80 L250.09,765.80 L250.40,765.80 L250.70,765.80 L251.00,765.80 L251.30,765.80 L251.61,765.80 L251.91,765.80 L252.21,765.80 L252.52,765.80 L252.82,765.80 L253.12,765.80 L253.42,765.80 L253.73,765.80 L254.03,765.80 L254.33,765.80 L254.63,765.80 L254.94,765.80 L255.24,765.80 L255.54,765.80 L255.84,765.80 L256.15,765.80 L256.45,765.80 L256.75,765.80 L257.06,765.80 L257.36,765.80 L257.66,765.80 L257.96,765.80 L258.27,765.80 L258.57,765.80 L258.87,765.80 L259.17,765.80 L259.48,765.80 L259.78,765.80 L260.08,765.80 L260.38,765.80 L260.69,765.80 L260.99,765.80 L261.29,765.80 L261.60,765.80 L261.90,765.80 L262.20,765.80 L262.50,765.80 L262.81,765.80 L263.11,765.80 L263.41,765.80 L263.71,765.80 L264.02,765.80 L264.32,765.80 L264.62,765.80 L264.93,765.80" stroke="#ff0000" stroke-width="1.62" stroke-dasharray="3.8 1.8"/>
</g>
<path d="M87.05,711.68 V717.48" stroke="#000" stroke-width="1.25" fill="none"/>
<path d="M85.15,716.18 L88.95,716.18 L87.05,720.08 Z" fill="#000"/>
<clipPath id="ca3"><rect x="52.15" y="779.37" width="212.78" height="81.43"/></clipPath>
<g clip-path="url(#ca3)" fill="none" stroke-linejoin="round">
<path d="M53.05,847.05 L53.35,847.09 L53.65,847.13 L53.95,847.17 L54.25,847.22 L54.55,847.27 L54.85,847.31 L55.15,847.36 L55.45,847.40 L55.75,847.44 L56.05,847.48 L56.35,847.52 L56.65,847.56 L56.95,847.60 L57.25,847.63 L57.55,847.66 L57.85,847.68 L58.15,847.70 L58.45,847.71 L58.75,847.71 L59.05,847.70 L59.35,847.69 L59.65,847.66 L59.95,847.63 L60.25,847.58 L60.55,847.54 L60.85,847.48 L61.15,847.42 L61.45,847.36 L61.75,847.30 L62.05,847.23 L62.35,847.16 L62.65,847.08 L62.95,847.01 L63.25,846.93 L63.55,846.84 L63.85,846.75 L64.15,846.65 L64.45,846.54 L64.75,846.43 L65.05,846.31 L65.35,846.18 L65.65,846.05 L65.95,845.92 L66.25,845.78 L66.55,845.64 L66.85,845.50 L67.15,845.35 L67.45,845.19 L67.75,845.03 L68.05,844.87 L68.35,844.69 L68.65,844.51 L68.95,844.32 L69.25,844.13 L69.55,843.93 L69.85,843.74 L70.15,843.53 L70.45,843.33 L70.75,843.13 L71.05,842.93 L71.35,842.72 L71.65,842.51 L71.95,842.31 L72.25,842.10 L72.55,841.89 L72.85,841.68 L73.15,841.49 L73.45,841.32 L73.75,841.17 L74.05,841.04 L74.35,840.93 L74.65,840.84 L74.95,840.75 L75.25,840.67 L75.55,840.59 L75.85,840.50 L76.15,840.40 L76.45,840.28 L76.75,840.13 L77.05,839.95 L77.35,839.74 L77.65,839.50 L77.95,839.23 L78.25,838.94 L78.55,838.64 L78.85,838.32 L79.15,837.99 L79.45,837.64 L79.75,837.27 L80.05,836.88 L80.35,836.48 L80.65,836.06 L80.95,835.63 L81.25,835.17 L81.55,834.70 L81.85,834.21 L82.15,833.69 L82.45,833.16 L82.75,832.60 L83.05,832.01 L83.35,831.41 L83.65,830.78 L83.95,830.13 L84.25,829.46 L84.55,828.78 L84.85,828.06 L85.15,827.33 L85.45,826.57 L85.75,825.78 L86.05,824.97 L86.35,824.13 L86.65,823.26 L86.95,822.37 L87.25,821.44 L87.55,820.49 L87.85,819.50 L88.15,818.47 L88.45,817.40 L88.75,816.30 L89.05,815.15 L89.35,813.95 L89.65,812.70 L89.95,811.40 L90.25,810.05 L90.55,808.66 L90.85,807.25 L91.15,805.84 L91.45,804.45 L91.75,803.09 L92.05,801.78 L92.35,800.51 L92.65,799.32 L92.95,798.22 L93.25,797.25 L93.55,796.48 L93.85,796.00 L94.15,795.88 L94.45,796.21 L94.75,796.99 L95.05,798.24 L95.35,799.93 L95.65,802.00 L95.95,804.38 L96.25,807.01 L96.55,809.82 L96.85,812.74 L97.15,815.72 L97.45,818.70 L97.75,821.63 L98.05,824.48 L98.35,827.19 L98.65,829.71 L98.95,831.99 L99.25,834.02 L99.55,835.81 L99.85,837.37 L100.15,838.72 L100.45,839.88 L100.75,840.87 L101.05,841.74 L101.35,842.50 L101.65,843.16 L101.95,843.73 L102.25,844.23 L102.55,844.65 L102.85,845.01 L103.15,845.33 L103.45,845.61 L103.75,845.86 L104.05,846.08 L104.35,846.27 L104.65,846.43 L104.95,846.55 L105.25,846.63 L105.55,846.68 L105.85,846.70 L106.15,846.72 L106.45,846.72 L106.75,846.72 L107.05,846.72 L107.35,846.72 L107.65,846.72 L107.95,846.72 L108.25,846.72 L108.55,846.72 L108.85,846.70 L109.15,846.68 L109.45,846.64 L109.75,846.57 L110.05,846.47 L110.35,846.35 L110.65,846.19 L110.95,846.02 L111.25,845.81 L111.55,845.57 L111.85,845.30 L112.15,844.96 L112.45,844.55 L112.75,844.07 L113.05,843.50 L113.35,842.86 L113.65,842.14 L113.95,841.37 L114.25,840.51 L114.55,839.58 L114.85,838.58 L115.15,837.50 L115.45,836.37 L115.75,835.23 L116.05,834.08 L116.35,832.95 L116.65,831.83 L116.95,830.72 L117.25,829.62 L117.55,828.53 L117.85,827.46 L118.15,826.41 L118.45,825.39 L118.75,824.41 L119.05,823.47 L119.35,822.56 L119.65,821.69 L119.95,820.85 L120.25,820.04 L120.55,819.25 L120.85,818.50 L121.15,817.79 L121.45,817.10 L121.75,816.46 L122.05,815.84 L122.35,815.26 L122.65,814.69 L122.95,814.15 L123.25,813.64 L123.55,813.15 L123.85,812.71 L124.15,812.31 L124.45,811.96 L124.75,811.67 L125.05,811.43 L125.35,811.22 L125.65,811.06 L125.95,810.93 L126.25,810.84 L126.55,810.80 L126.85,810.81 L127.15,810.87 L127.45,810.98 L127.75,811.14 L128.05,811.35 L128.35,811.60 L128.65,811.91 L128.95,812.28 L129.25,812.73 L129.55,813.24 L129.85,813.82 L130.15,814.45 L130.45,815.13 L130.75,815.84 L131.05,816.60 L131.35,817.40 L131.65,818.24 L131.95,819.12 L132.25,820.03 L132.55,820.95 L132.85,821.89 L133.15,822.83 L133.45,823.78 L133.75,824.74 L134.05,825.70 L134.35,826.66 L134.65,827.62 L134.95,828.58 L135.25,829.54 L135.55,830.49 L135.85,831.45 L136.15,832.39 L136.45,833.33 L136.75,834.24 L137.05,835.13 L137.35,835.99 L137.65,836.81 L137.95,837.58 L138.25,838.32 L138.55,839.02 L138.85,839.70 L139.15,840.35 L139.45,840.96 L139.75,841.55 L140.05,842.10 L140.35,842.61 L140.65,843.08 L140.95,843.53 L141.25,843.95 L141.55,844.34 L141.85,844.71 L142.15,845.07 L142.45,845.40 L142.75,845.70 L143.05,845.98 L143.35,846.23 L143.65,846.46 L143.95,846.65 L144.25,846.83 L144.55,846.99 L144.85,847.14 L145.15,847.28 L145.45,847.41 L145.75,847.54 L146.05,847.66 L146.35,847.77 L146.65,847.87 L146.95,847.96 L147.25,848.04 L147.55,848.12 L147.85,848.18 L148.15,848.23 L148.45,848.26 L148.75,848.29 L149.05,848.32 L149.35,848.34 L149.65,848.35 L149.95,848.37 L150.25,848.38 L150.55,848.40 L150.85,848.41 L151.15,848.42 L151.45,848.43 L151.75,848.45 L152.05,848.46 L152.35,848.47 L152.65,848.48 L152.95,848.49 L153.25,848.50 L153.55,848.51 L153.85,848.51 L154.15,848.52 L154.45,848.53 L154.75,848.54 L155.05,848.54 L155.35,848.55 L155.65,848.56 L155.95,848.56 L156.25,848.57 L156.55,848.57 L156.85,848.58 L157.15,848.58 L157.45,848.58 L157.75,848.59 L158.05,848.59 L158.35,848.59 L158.65,848.59 L158.95,848.59 L159.25,848.60 L159.55,848.60 L159.85,848.60 L160.15,848.60 L160.45,848.60 L160.75,848.60 L161.05,848.60 L161.35,848.60 L161.65,848.60 L161.95,848.60 L162.25,848.60 L162.55,848.60 L162.85,848.60 L163.15,848.60 L163.45,848.60 L163.75,848.60 L164.05,848.60 L164.35,848.60 L164.65,848.60 L164.95,848.60 L165.25,848.60 L165.55,848.60 L165.85,848.60 L166.15,848.60 L166.45,848.60 L166.75,848.60 L167.05,848.60 L167.35,848.60 L167.65,848.60 L167.95,848.60 L168.25,848.60 L168.55,848.60 L168.85,848.60 L169.15,848.60 L169.45,848.60 L169.75,848.60 L170.05,848.60 L170.35,848.60 L170.65,848.60 L170.95,848.60 L171.25,848.60 L171.55,848.60 L171.85,848.60 L172.15,848.60 L172.45,848.60 L172.75,848.60 L173.05,848.60 L173.35,848.60 L173.65,848.60 L173.95,848.60 L174.25,848.60 L174.55,848.60 L174.85,848.60 L175.15,848.60 L175.45,848.60 L175.75,848.60 L176.05,848.60 L176.35,848.60 L176.65,848.60 L176.95,848.60 L177.25,848.60 L177.55,848.60 L177.85,848.60 L178.15,848.60 L178.45,848.60 L178.75,848.60 L179.05,848.60 L179.35,848.60 L179.65,848.60 L179.95,848.60 L180.25,848.60 L180.55,848.60 L180.85,848.60 L181.15,848.60 L181.45,848.60 L181.75,848.60 L182.05,848.60 L182.35,848.60 L182.65,848.60 L182.95,848.60 L183.25,848.60 L183.55,848.60 L183.85,848.60 L184.15,848.60 L184.45,848.60 L184.75,848.60 L185.05,848.60 L185.35,848.60 L185.65,848.60 L185.95,848.60 L186.25,848.60 L186.55,848.60 L186.85,848.60 L187.15,848.60 L187.45,848.60 L187.75,848.60 L188.05,848.60 L188.35,848.60 L188.65,848.60 L188.95,848.60 L189.25,848.60 L189.55,848.60 L189.85,848.60 L190.15,848.60 L190.45,848.60 L190.75,848.60 L191.05,848.60 L191.35,848.60 L191.65,848.60 L191.95,848.60 L192.25,848.60 L192.55,848.60 L192.85,848.60 L193.15,848.60 L193.45,848.60 L193.75,848.60 L194.05,848.60 L194.35,848.60 L194.65,848.60 L194.95,848.60 L195.25,848.59 L195.55,848.59 L195.85,848.59 L196.15,848.59 L196.45,848.59 L196.75,848.58 L197.05,848.58 L197.35,848.57 L197.65,848.56 L197.95,848.54 L198.25,848.53 L198.55,848.51 L198.85,848.48 L199.15,848.45 L199.45,848.41 L199.75,848.37 L200.05,848.32 L200.35,848.27 L200.65,848.21 L200.95,848.15 L201.25,848.08 L201.55,848.02 L201.85,847.95 L202.15,847.89 L202.45,847.84 L202.75,847.79 L203.05,847.75 L203.35,847.72 L203.65,847.70 L203.95,847.70 L204.25,847.71 L204.55,847.73 L204.85,847.76 L205.15,847.80 L205.45,847.85 L205.75,847.91 L206.05,847.97 L206.35,848.04 L206.65,848.10 L206.95,848.17 L207.25,848.23 L207.55,848.29 L207.85,848.34 L208.15,848.38 L208.45,848.42 L208.75,848.46 L209.05,848.49 L209.35,848.51 L209.65,848.53 L209.95,848.55 L210.25,848.56 L210.55,848.57 L210.85,848.58 L211.15,848.58 L211.45,848.59 L211.75,848.59 L212.05,848.59 L212.35,848.59 L212.65,848.59 L212.95,848.60 L213.25,848.60 L213.55,848.60 L213.85,848.60 L214.15,848.60 L214.45,848.60 L214.75,848.60 L215.05,848.60 L215.35,848.60 L215.65,848.60 L215.95,848.60 L216.25,848.60 L216.55,848.60 L216.85,848.60 L217.15,848.60 L217.45,848.60 L217.75,848.60 L218.05,848.60 L218.35,848.60 L218.65,848.60 L218.95,848.60 L219.25,848.60 L219.55,848.60 L219.85,848.60 L220.15,848.60 L220.45,848.60 L220.75,848.60 L221.05,848.60 L221.35,848.60 L221.65,848.60 L221.95,848.60 L222.25,848.60 L222.55,848.60 L222.85,848.60 L223.15,848.60 L223.45,848.60 L223.75,848.60 L224.05,848.60 L224.35,848.60 L224.65,848.60 L224.95,848.60 L225.25,848.60 L225.55,848.60 L225.85,848.60 L226.15,848.60 L226.45,848.60 L226.75,848.60 L227.05,848.60 L227.35,848.60 L227.65,848.60 L227.95,848.60 L228.25,848.60 L228.55,848.60 L228.85,848.60 L229.15,848.60 L229.45,848.60 L229.75,848.60 L230.05,848.60 L230.35,848.60 L230.65,848.60 L230.95,848.60 L231.25,848.60 L231.55,848.60 L231.85,848.60 L232.15,848.60 L232.45,848.60 L232.75,848.60 L233.05,848.60 L233.35,848.60 L233.65,848.60 L233.95,848.60 L234.25,848.60 L234.55,848.60 L234.85,848.60 L235.15,848.60 L235.45,848.60 L235.75,848.60 L236.05,848.60 L236.35,848.60 L236.65,848.60 L236.95,848.60 L237.25,848.60 L237.55,848.60 L237.85,848.60 L238.15,848.60 L238.45,848.60 L238.75,848.60 L239.05,848.60 L239.35,848.60 L239.65,848.60 L239.95,848.60 L240.25,848.60 L240.55,848.60 L240.85,848.60 L241.15,848.60 L241.45,848.60 L241.75,848.60 L242.05,848.60 L242.35,848.60 L242.65,848.60 L242.95,848.60 L243.25,848.60 L243.55,848.60 L243.85,848.60 L244.15,848.60 L244.45,848.60 L244.75,848.60 L245.05,848.60 L245.35,848.60 L245.65,848.60 L245.95,848.60 L246.25,848.60 L246.55,848.60 L246.85,848.60 L247.15,848.60 L247.45,848.60 L247.75,848.60 L248.05,848.60 L248.35,848.60 L248.65,848.60 L248.95,848.60 L249.25,848.60 L249.55,848.60 L249.85,848.60 L250.15,848.60 L250.45,848.60 L250.75,848.60 L251.05,848.60 L251.35,848.60 L251.65,848.60 L251.95,848.60 L252.25,848.60 L252.55,848.60 L252.85,848.60 L253.15,848.60 L253.45,848.60 L253.75,848.60 L254.05,848.60 L254.35,848.60 L254.65,848.60 L254.95,848.60 L255.25,848.60 L255.55,848.60 L255.85,848.60 L256.15,848.60 L256.45,848.60 L256.75,848.60 L257.05,848.60 L257.35,848.60 L257.65,848.60 L257.95,848.60 L258.25,848.60 L258.55,848.60 L258.85,848.60 L259.15,848.60 L259.45,848.60 L259.75,848.60 L260.05,848.60 L260.35,848.60 L260.65,848.60 L260.95,848.60 L261.25,848.60 L261.55,848.60 L261.85,848.60 L262.15,848.60 L262.45,848.60 L262.75,848.60 L263.05,848.60 L263.35,848.60 L263.65,848.60 L263.95,848.60 L264.25,848.60 L264.55,848.60 L264.85,848.60 L265.15,848.60" stroke="#000" stroke-width="1.62"/>
<path d="M52.15,848.60 L53.05,848.60 L53.35,848.51 L53.66,848.43 L53.96,848.34 L54.26,848.25 L54.56,848.17 L54.87,848.08 L55.17,848.00 L55.47,847.91 L55.77,847.82 L56.08,847.74 L56.38,847.66 L56.68,847.57 L56.98,847.49 L57.29,847.40 L57.59,847.32 L57.89,847.23 L58.20,847.15 L58.50,847.06 L58.80,846.98 L59.10,846.89 L59.41,846.81 L59.71,846.72 L60.01,846.64 L60.31,846.55 L60.62,846.47 L60.92,846.38 L61.22,846.29 L61.52,846.20 L61.83,846.12 L62.13,846.03 L62.43,845.94 L62.74,845.85 L63.04,845.76 L63.34,845.66 L63.64,845.57 L63.95,845.48 L64.25,845.38 L64.55,845.29 L64.85,845.19 L65.16,845.10 L65.46,845.00 L65.76,844.90 L66.07,844.80 L66.37,844.70 L66.67,844.59 L66.97,844.49 L67.28,844.38 L67.58,844.28 L67.88,844.17 L68.18,844.06 L68.49,843.95 L68.79,843.83 L69.09,843.72 L69.39,843.60 L69.70,843.48 L70.00,843.36 L70.30,843.24 L70.61,843.11 L70.91,842.98 L71.21,842.85 L71.51,842.72 L71.82,842.58 L72.12,842.45 L72.42,842.31 L72.72,842.16 L73.03,842.02 L73.33,841.87 L73.63,841.72 L73.93,841.56 L74.24,841.40 L74.54,841.24 L74.84,841.07 L75.15,840.90 L75.45,840.73 L75.75,840.55 L76.05,840.37 L76.36,840.19 L76.66,840.00 L76.96,839.80 L77.26,839.60 L77.57,839.40 L77.87,839.19 L78.17,838.97 L78.47,838.75 L78.78,838.53 L79.08,838.29 L79.38,838.06 L79.69,837.81 L79.99,837.56 L80.29,837.30 L80.59,837.04 L80.90,836.77 L81.20,836.49 L81.50,836.20 L81.80,835.90 L82.11,835.60 L82.41,835.29 L82.71,834.97 L83.02,834.63 L83.32,834.29 L83.62,833.94 L83.92,833.58 L84.23,833.21 L84.53,832.83 L84.83,832.43 L85.13,832.03 L85.44,831.61 L85.74,831.18 L86.04,830.74 L86.34,830.28 L86.65,829.81 L86.95,829.32 L87.25,828.82 L87.56,828.31 L87.86,827.78 L88.16,827.23 L88.46,826.67 L88.77,826.08 L89.07,825.49 L89.37,824.87 L89.67,824.24 L89.98,823.58 L90.28,822.91 L90.58,822.22 L90.88,821.51 L91.19,820.78 L91.49,820.02 L91.79,819.25 L92.10,818.46 L92.40,817.65 L92.70,816.81 L93.00,815.96 L93.31,815.09 L93.61,814.19 L93.91,813.28 L94.21,812.35 L94.52,811.40 L94.82,810.44 L95.12,809.46 L95.42,808.47 L95.73,807.46 L96.03,806.45 L96.33,805.43 L96.64,804.40 L96.94,803.37 L97.24,802.33 L97.54,801.31 L97.85,800.29 L98.15,799.28 L98.45,798.28 L98.75,797.30 L99.06,796.35 L99.36,795.43 L99.66,794.53 L99.97,793.68 L100.27,792.87 L100.57,792.10 L100.87,791.39 L101.18,790.74 L101.48,790.15 L101.78,789.62 L102.08,789.16 L102.39,788.78 L102.69,788.47 L102.99,788.24 L103.29,788.09 L103.60,788.02 L103.90,788.04 L104.20,788.13 L104.51,788.31 L104.81,788.57 L105.11,788.91 L105.41,789.33 L105.72,789.83 L106.02,790.40 L106.32,791.04 L106.62,791.76 L106.93,792.54 L107.23,793.39 L107.53,794.30 L107.83,795.27 L108.14,796.29 L108.44,797.36 L108.74,798.48 L109.05,799.64 L109.35,800.84 L109.65,802.08 L109.95,803.34 L110.26,804.63 L110.56,805.94 L110.86,807.27 L111.16,808.61 L111.47,809.96 L111.77,811.32 L112.07,812.67 L112.38,814.03 L112.68,815.38 L112.98,816.72 L113.28,818.05 L113.59,819.36 L113.89,820.65 L114.19,821.93 L114.49,823.18 L114.80,824.40 L115.10,825.60 L115.40,826.76 L115.70,827.90 L116.01,829.00 L116.31,830.07 L116.61,831.11 L116.92,832.11 L117.22,833.07 L117.52,834.00 L117.82,834.89 L118.13,835.75 L118.43,836.57 L118.73,837.35 L119.03,838.09 L119.34,838.80 L119.64,839.47 L119.94,840.11 L120.24,840.72 L120.55,841.29 L120.85,841.83 L121.15,842.33 L121.46,842.81 L121.76,843.26 L122.06,843.68 L122.36,844.07 L122.67,844.44 L122.97,844.79 L123.27,845.11 L123.57,845.40 L123.88,845.68 L124.18,845.93 L124.48,846.17 L124.78,846.39 L125.09,846.59 L125.39,846.78 L125.69,846.95 L126.00,847.10 L126.30,847.25 L126.60,847.38 L126.90,847.50 L127.21,847.61 L127.51,847.71 L127.81,847.80 L128.11,847.88 L128.42,847.96 L128.72,848.03 L129.02,848.09 L129.32,848.14 L129.63,848.19 L129.93,848.24 L130.23,848.28 L130.54,848.32 L130.84,848.35 L131.14,848.38 L131.44,848.40 L131.75,848.43 L132.05,848.45 L132.35,848.47 L132.65,848.48 L132.96,848.50 L133.26,848.51 L133.56,848.52 L133.87,848.53 L134.17,848.54 L134.47,848.55 L134.77,848.55 L135.08,848.56 L135.38,848.57 L135.68,848.57 L135.98,848.57 L136.29,848.58 L136.59,848.58 L136.89,848.58 L137.19,848.59 L137.50,848.59 L137.80,848.59 L138.10,848.59 L138.41,848.59 L138.71,848.59 L139.01,848.59 L139.31,848.60 L139.62,848.60 L139.92,848.60 L140.22,848.60 L140.52,848.60 L140.83,848.60 L141.13,848.60 L141.43,848.60 L141.73,848.60 L142.04,848.60 L142.34,848.60 L142.64,848.60 L142.95,848.60 L143.25,848.60 L143.55,848.60 L143.85,848.60 L144.16,848.60 L144.46,848.60 L144.76,848.60 L145.06,848.60 L145.37,848.60 L145.67,848.60 L145.97,848.60 L146.27,848.60 L146.58,848.60 L146.88,848.60 L147.18,848.60 L147.49,848.60 L147.79,848.60 L148.09,848.60 L148.39,848.60 L148.70,848.60 L149.00,848.60 L149.30,848.60 L149.60,848.60 L149.91,848.60 L150.21,848.60 L150.51,848.60 L150.82,848.60 L151.12,848.60 L151.42,848.60 L151.72,848.60 L152.03,848.60 L152.33,848.60 L152.63,848.60 L152.93,848.60 L153.24,848.60 L153.54,848.60 L153.84,848.60 L154.14,848.60 L154.45,848.60 L154.75,848.60 L155.05,848.60 L155.36,848.60 L155.66,848.60 L155.96,848.60 L156.26,848.60 L156.57,848.60 L156.87,848.60 L157.17,848.60 L157.47,848.60 L157.78,848.60 L158.08,848.60 L158.38,848.60 L158.68,848.60 L158.99,848.60 L159.29,848.60 L159.59,848.60 L159.90,848.60 L160.20,848.60 L160.50,848.60 L160.80,848.60 L161.11,848.60 L161.41,848.60 L161.71,848.60 L162.01,848.60 L162.32,848.60 L162.62,848.60 L162.92,848.60 L163.22,848.60 L163.53,848.60 L163.83,848.60 L164.13,848.60 L164.44,848.60 L164.74,848.60 L165.04,848.60 L165.34,848.60 L165.65,848.60 L165.95,848.60 L166.25,848.60 L166.55,848.60 L166.86,848.60 L167.16,848.60 L167.46,848.60 L167.77,848.60 L168.07,848.60 L168.37,848.60 L168.67,848.60 L168.98,848.60 L169.28,848.60 L169.58,848.60 L169.88,848.60 L170.19,848.60 L170.49,848.60 L170.79,848.60 L171.09,848.60 L171.40,848.60 L171.70,848.60 L172.00,848.60 L172.31,848.60 L172.61,848.60 L172.91,848.60 L173.21,848.60 L173.52,848.60 L173.82,848.60 L174.12,848.60 L174.42,848.60 L174.73,848.60 L175.03,848.60 L175.33,848.60 L175.63,848.60 L175.94,848.60 L176.24,848.60 L176.54,848.60 L176.85,848.60 L177.15,848.60 L177.45,848.60 L177.75,848.60 L178.06,848.60 L178.36,848.60 L178.66,848.60 L178.96,848.60 L179.27,848.60 L179.57,848.60 L179.87,848.60 L180.18,848.60 L180.48,848.60 L180.78,848.60 L181.08,848.60 L181.39,848.60 L181.69,848.60 L181.99,848.60 L182.29,848.60 L182.60,848.60 L182.90,848.60 L183.20,848.60 L183.50,848.60 L183.81,848.60 L184.11,848.60 L184.41,848.60 L184.72,848.60 L185.02,848.60 L185.32,848.60 L185.62,848.60 L185.93,848.60 L186.23,848.60 L186.53,848.60 L186.83,848.60 L187.14,848.60 L187.44,848.60 L187.74,848.60 L188.04,848.60 L188.35,848.60 L188.65,848.60 L188.95,848.60 L189.26,848.60 L189.56,848.60 L189.86,848.60 L190.16,848.60 L190.47,848.60 L190.77,848.60 L191.07,848.60 L191.37,848.60 L191.68,848.60 L191.98,848.60 L192.28,848.60 L192.58,848.60 L192.89,848.60 L193.19,848.60 L193.49,848.60 L193.80,848.60 L194.10,848.60 L194.40,848.60 L194.70,848.60 L195.01,848.60 L195.31,848.60 L195.61,848.60 L195.91,848.60 L196.22,848.60 L196.52,848.60 L196.82,848.60 L197.12,848.60 L197.43,848.60 L197.73,848.60 L198.03,848.60 L198.34,848.60 L198.64,848.60 L198.94,848.60 L199.24,848.60 L199.55,848.60 L199.85,848.60 L200.15,848.60 L200.45,848.60 L200.76,848.60 L201.06,848.60 L201.36,848.60 L201.67,848.60 L201.97,848.60 L202.27,848.60 L202.57,848.60 L202.88,848.60 L203.18,848.60 L203.48,848.60 L203.78,848.60 L204.09,848.60 L204.39,848.60 L204.69,848.60 L204.99,848.60 L205.30,848.60 L205.60,848.60 L205.90,848.60 L206.21,848.60 L206.51,848.60 L206.81,848.60 L207.11,848.60 L207.42,848.60 L207.72,848.60 L208.02,848.60 L208.32,848.60 L208.63,848.60 L208.93,848.60 L209.23,848.60 L209.53,848.60 L209.84,848.60 L210.14,848.60 L210.44,848.60 L210.75,848.60 L211.05,848.60 L211.35,848.60 L211.65,848.60 L211.96,848.60 L212.26,848.60 L212.56,848.60 L212.86,848.60 L213.17,848.60 L213.47,848.60 L213.77,848.60 L214.07,848.60 L214.38,848.60 L214.68,848.60 L214.98,848.60 L215.29,848.60 L215.59,848.60 L215.89,848.60 L216.19,848.60 L216.50,848.60 L216.80,848.60 L217.10,848.60 L217.40,848.60 L217.71,848.60 L218.01,848.60 L218.31,848.60 L218.62,848.60 L218.92,848.60 L219.22,848.60 L219.52,848.60 L219.83,848.60 L220.13,848.60 L220.43,848.60 L220.73,848.60 L221.04,848.60 L221.34,848.60 L221.64,848.60 L221.94,848.60 L222.25,848.60 L222.55,848.60 L222.85,848.60 L223.16,848.60 L223.46,848.60 L223.76,848.60 L224.06,848.60 L224.37,848.60 L224.67,848.60 L224.97,848.60 L225.27,848.60 L225.58,848.60 L225.88,848.60 L226.18,848.60 L226.48,848.60 L226.79,848.60 L227.09,848.60 L227.39,848.60 L227.70,848.60 L228.00,848.60 L228.30,848.60 L228.60,848.60 L228.91,848.60 L229.21,848.60 L229.51,848.60 L229.81,848.60 L230.12,848.60 L230.42,848.60 L230.72,848.60 L231.02,848.60 L231.33,848.60 L231.63,848.60 L231.93,848.60 L232.24,848.60 L232.54,848.60 L232.84,848.60 L233.14,848.60 L233.45,848.60 L233.75,848.60 L234.05,848.60 L234.35,848.60 L234.66,848.60 L234.96,848.60 L235.26,848.60 L235.57,848.60 L235.87,848.60 L236.17,848.60 L236.47,848.60 L236.78,848.60 L237.08,848.60 L237.38,848.60 L237.68,848.60 L237.99,848.60 L238.29,848.60 L238.59,848.60 L238.89,848.60 L239.20,848.60 L239.50,848.60 L239.80,848.60 L240.11,848.60 L240.41,848.60 L240.71,848.60 L241.01,848.60 L241.32,848.60 L241.62,848.60 L241.92,848.60 L242.22,848.60 L242.53,848.60 L242.83,848.60 L243.13,848.60 L243.43,848.60 L243.74,848.60 L244.04,848.60 L244.34,848.60 L244.65,848.60 L244.95,848.60 L245.25,848.60 L245.55,848.60 L245.86,848.60 L246.16,848.60 L246.46,848.60 L246.76,848.60 L247.07,848.60 L247.37,848.60 L247.67,848.60 L247.98,848.60 L248.28,848.60 L248.58,848.60 L248.88,848.60 L249.19,848.60 L249.49,848.60 L249.79,848.60 L250.09,848.60 L250.40,848.60 L250.70,848.60 L251.00,848.60 L251.30,848.60 L251.61,848.60 L251.91,848.60 L252.21,848.60 L252.52,848.60 L252.82,848.60 L253.12,848.60 L253.42,848.60 L253.73,848.60 L254.03,848.60 L254.33,848.60 L254.63,848.60 L254.94,848.60 L255.24,848.60 L255.54,848.60 L255.84,848.60 L256.15,848.60 L256.45,848.60 L256.75,848.60 L257.06,848.60 L257.36,848.60 L257.66,848.60 L257.96,848.60 L258.27,848.60 L258.57,848.60 L258.87,848.60 L259.17,848.60 L259.48,848.60 L259.78,848.60 L260.08,848.60 L260.38,848.60 L260.69,848.60 L260.99,848.60 L261.29,848.60 L261.60,848.60 L261.90,848.60 L262.20,848.60 L262.50,848.60 L262.81,848.60 L263.11,848.60 L263.41,848.60 L263.71,848.60 L264.02,848.60 L264.32,848.60 L264.62,848.60 L264.93,848.60" stroke="#ff0000" stroke-width="1.62" stroke-dasharray="3.8 1.8"/>
</g>
<path d="M94.05,785.58 V791.38" stroke="#000" stroke-width="1.25" fill="none"/>
<path d="M92.15,790.08 L95.95,790.08 L94.05,793.98 Z" fill="#000"/>
<clipPath id="ca4"><rect x="52.15" y="860.80" width="212.78" height="81.20"/></clipPath>
<g clip-path="url(#ca4)" fill="none" stroke-linejoin="round">
<path d="M53.05,928.64 L53.35,928.65 L53.65,928.67 L53.95,928.68 L54.25,928.70 L54.55,928.71 L54.85,928.73 L55.15,928.74 L55.45,928.75 L55.75,928.75 L56.05,928.76 L56.35,928.76 L56.65,928.76 L56.95,928.76 L57.25,928.76 L57.55,928.75 L57.85,928.74 L58.15,928.73 L58.45,928.72 L58.75,928.70 L59.05,928.69 L59.35,928.67 L59.65,928.65 L59.95,928.63 L60.25,928.61 L60.55,928.59 L60.85,928.56 L61.15,928.53 L61.45,928.51 L61.75,928.48 L62.05,928.45 L62.35,928.42 L62.65,928.38 L62.95,928.34 L63.25,928.30 L63.55,928.25 L63.85,928.19 L64.15,928.12 L64.45,928.04 L64.75,927.95 L65.05,927.85 L65.35,927.76 L65.65,927.65 L65.95,927.55 L66.25,927.44 L66.55,927.33 L66.85,927.23 L67.15,927.12 L67.45,927.00 L67.75,926.89 L68.05,926.77 L68.35,926.64 L68.65,926.50 L68.95,926.35 L69.25,926.20 L69.55,926.02 L69.85,925.83 L70.15,925.62 L70.45,925.39 L70.75,925.14 L71.05,924.89 L71.35,924.62 L71.65,924.35 L71.95,924.07 L72.25,923.80 L72.55,923.53 L72.85,923.26 L73.15,922.99 L73.45,922.74 L73.75,922.51 L74.05,922.31 L74.35,922.14 L74.65,922.00 L74.95,921.88 L75.25,921.78 L75.55,921.69 L75.85,921.61 L76.15,921.53 L76.45,921.45 L76.75,921.36 L77.05,921.27 L77.35,921.17 L77.65,921.06 L77.95,920.94 L78.25,920.80 L78.55,920.66 L78.85,920.51 L79.15,920.36 L79.45,920.19 L79.75,920.02 L80.05,919.85 L80.35,919.67 L80.65,919.48 L80.95,919.29 L81.25,919.10 L81.55,918.90 L81.85,918.70 L82.15,918.49 L82.45,918.29 L82.75,918.08 L83.05,917.87 L83.35,917.65 L83.65,917.44 L83.95,917.22 L84.25,916.99 L84.55,916.76 L84.85,916.53 L85.15,916.29 L85.45,916.04 L85.75,915.78 L86.05,915.51 L86.35,915.24 L86.65,914.95 L86.95,914.66 L87.25,914.35 L87.55,914.03 L87.85,913.69 L88.15,913.34 L88.45,912.97 L88.75,912.57 L89.05,912.16 L89.35,911.72 L89.65,911.26 L89.95,910.77 L90.25,910.26 L90.55,909.73 L90.85,909.18 L91.15,908.60 L91.45,908.00 L91.75,907.37 L92.05,906.70 L92.35,905.99 L92.65,905.24 L92.95,904.44 L93.25,903.60 L93.55,902.71 L93.85,901.78 L94.15,900.82 L94.45,899.81 L94.75,898.75 L95.05,897.64 L95.35,896.47 L95.65,895.26 L95.95,894.01 L96.25,892.72 L96.55,891.42 L96.85,890.10 L97.15,888.76 L97.45,887.41 L97.75,886.06 L98.05,884.74 L98.35,883.46 L98.65,882.26 L98.95,881.13 L99.25,880.09 L99.55,879.15 L99.85,878.33 L100.15,877.68 L100.45,877.26 L100.75,877.12 L101.05,877.29 L101.35,877.78 L101.65,878.59 L101.95,879.75 L102.25,881.28 L102.55,883.17 L102.85,885.38 L103.15,887.81 L103.45,890.36 L103.75,892.96 L104.05,895.56 L104.35,898.12 L104.65,900.62 L104.95,903.05 L105.25,905.40 L105.55,907.63 L105.85,909.74 L106.15,911.71 L106.45,913.54 L106.75,915.22 L107.05,916.74 L107.35,918.11 L107.65,919.31 L107.95,920.35 L108.25,921.25 L108.55,922.00 L108.85,922.62 L109.15,923.11 L109.45,923.49 L109.75,923.78 L110.05,923.97 L110.35,924.06 L110.65,924.06 L110.95,923.95 L111.25,923.75 L111.55,923.45 L111.85,923.06 L112.15,922.58 L112.45,921.99 L112.75,921.28 L113.05,920.46 L113.35,919.54 L113.65,918.54 L113.95,917.48 L114.25,916.38 L114.55,915.23 L114.85,914.05 L115.15,912.85 L115.45,911.64 L115.75,910.43 L116.05,909.25 L116.35,908.11 L116.65,906.99 L116.95,905.91 L117.25,904.86 L117.55,903.83 L117.85,902.83 L118.15,901.87 L118.45,900.95 L118.75,900.08 L119.05,899.26 L119.35,898.49 L119.65,897.76 L119.95,897.06 L120.25,896.40 L120.55,895.77 L120.85,895.17 L121.15,894.61 L121.45,894.08 L121.75,893.58 L122.05,893.11 L122.35,892.66 L122.65,892.24 L122.95,891.85 L123.25,891.50 L123.55,891.18 L123.85,890.92 L124.15,890.71 L124.45,890.55 L124.75,890.42 L125.05,890.32 L125.35,890.25 L125.65,890.21 L125.95,890.21 L126.25,890.24 L126.55,890.31 L126.85,890.42 L127.15,890.57 L127.45,890.74 L127.75,890.95 L128.05,891.18 L128.35,891.44 L128.65,891.74 L128.95,892.09 L129.25,892.48 L129.55,892.93 L129.85,893.44 L130.15,893.98 L130.45,894.56 L130.75,895.17 L131.05,895.79 L131.35,896.42 L131.65,897.08 L131.95,897.75 L132.25,898.45 L132.55,899.18 L132.85,899.93 L133.15,900.69 L133.45,901.48 L133.75,902.27 L134.05,903.07 L134.35,903.88 L134.65,904.70 L134.95,905.52 L135.25,906.36 L135.55,907.21 L135.85,908.05 L136.15,908.89 L136.45,909.73 L136.75,910.56 L137.05,911.39 L137.35,912.22 L137.65,913.04 L137.95,913.85 L138.25,914.65 L138.55,915.43 L138.85,916.19 L139.15,916.92 L139.45,917.63 L139.75,918.32 L140.05,918.99 L140.35,919.64 L140.65,920.27 L140.95,920.88 L141.25,921.46 L141.55,922.02 L141.85,922.55 L142.15,923.05 L142.45,923.53 L142.75,923.99 L143.05,924.43 L143.35,924.85 L143.65,925.25 L143.95,925.63 L144.25,925.97 L144.55,926.29 L144.85,926.58 L145.15,926.84 L145.45,927.08 L145.75,927.29 L146.05,927.49 L146.35,927.68 L146.65,927.86 L146.95,928.02 L147.25,928.17 L147.55,928.31 L147.85,928.44 L148.15,928.55 L148.45,928.66 L148.75,928.75 L149.05,928.83 L149.35,928.91 L149.65,928.99 L149.95,929.06 L150.25,929.13 L150.55,929.19 L150.85,929.25 L151.15,929.31 L151.45,929.36 L151.75,929.41 L152.05,929.46 L152.35,929.50 L152.65,929.53 L152.95,929.56 L153.25,929.59 L153.55,929.61 L153.85,929.63 L154.15,929.64 L154.45,929.66 L154.75,929.67 L155.05,929.68 L155.35,929.69 L155.65,929.70 L155.95,929.71 L156.25,929.72 L156.55,929.73 L156.85,929.73 L157.15,929.74 L157.45,929.75 L157.75,929.75 L158.05,929.76 L158.35,929.76 L158.65,929.77 L158.95,929.77 L159.25,929.77 L159.55,929.77 L159.85,929.77 L160.15,929.77 L160.45,929.77 L160.75,929.77 L161.05,929.77 L161.35,929.77 L161.65,929.77 L161.95,929.77 L162.25,929.77 L162.55,929.77 L162.85,929.77 L163.15,929.77 L163.45,929.77 L163.75,929.77 L164.05,929.77 L164.35,929.77 L164.65,929.77 L164.95,929.77 L165.25,929.77 L165.55,929.77 L165.85,929.77 L166.15,929.77 L166.45,929.77 L166.75,929.77 L167.05,929.77 L167.35,929.77 L167.65,929.77 L167.95,929.77 L168.25,929.77 L168.55,929.77 L168.85,929.77 L169.15,929.77 L169.45,929.77 L169.75,929.77 L170.05,929.77 L170.35,929.77 L170.65,929.77 L170.95,929.77 L171.25,929.77 L171.55,929.77 L171.85,929.77 L172.15,929.77 L172.45,929.77 L172.75,929.77 L173.05,929.77 L173.35,929.77 L173.65,929.77 L173.95,929.77 L174.25,929.77 L174.55,929.77 L174.85,929.77 L175.15,929.77 L175.45,929.77 L175.75,929.77 L176.05,929.77 L176.35,929.77 L176.65,929.77 L176.95,929.77 L177.25,929.77 L177.55,929.77 L177.85,929.77 L178.15,929.77 L178.45,929.77 L178.75,929.77 L179.05,929.77 L179.35,929.77 L179.65,929.77 L179.95,929.77 L180.25,929.77 L180.55,929.77 L180.85,929.77 L181.15,929.77 L181.45,929.77 L181.75,929.77 L182.05,929.77 L182.35,929.77 L182.65,929.77 L182.95,929.77 L183.25,929.77 L183.55,929.77 L183.85,929.77 L184.15,929.77 L184.45,929.77 L184.75,929.77 L185.05,929.77 L185.35,929.77 L185.65,929.77 L185.95,929.77 L186.25,929.77 L186.55,929.77 L186.85,929.77 L187.15,929.77 L187.45,929.77 L187.75,929.77 L188.05,929.77 L188.35,929.77 L188.65,929.77 L188.95,929.77 L189.25,929.77 L189.55,929.77 L189.85,929.77 L190.15,929.77 L190.45,929.77 L190.75,929.77 L191.05,929.77 L191.35,929.77 L191.65,929.77 L191.95,929.77 L192.25,929.77 L192.55,929.77 L192.85,929.77 L193.15,929.77 L193.45,929.77 L193.75,929.77 L194.05,929.77 L194.35,929.77 L194.65,929.77 L194.95,929.77 L195.25,929.77 L195.55,929.77 L195.85,929.77 L196.15,929.77 L196.45,929.76 L196.75,929.76 L197.05,929.75 L197.35,929.75 L197.65,929.74 L197.95,929.72 L198.25,929.70 L198.55,929.68 L198.85,929.66 L199.15,929.63 L199.45,929.59 L199.75,929.55 L200.05,929.50 L200.35,929.45 L200.65,929.39 L200.95,929.33 L201.25,929.26 L201.55,929.20 L201.85,929.13 L202.15,929.07 L202.45,929.01 L202.75,928.97 L203.05,928.93 L203.35,928.90 L203.65,928.88 L203.95,928.87 L204.25,928.88 L204.55,928.90 L204.85,928.94 L205.15,928.98 L205.45,929.03 L205.75,929.09 L206.05,929.15 L206.35,929.22 L206.65,929.28 L206.95,929.35 L207.25,929.41 L207.55,929.46 L207.85,929.52 L208.15,929.56 L208.45,929.60 L208.75,929.64 L209.05,929.67 L209.35,929.69 L209.65,929.71 L209.95,929.73 L210.25,929.74 L210.55,929.75 L210.85,929.76 L211.15,929.76 L211.45,929.76 L211.75,929.77 L212.05,929.77 L212.35,929.77 L212.65,929.77 L212.95,929.77 L213.25,929.77 L213.55,929.77 L213.85,929.77 L214.15,929.77 L214.45,929.77 L214.75,929.77 L215.05,929.77 L215.35,929.77 L215.65,929.77 L215.95,929.77 L216.25,929.77 L216.55,929.77 L216.85,929.77 L217.15,929.77 L217.45,929.77 L217.75,929.77 L218.05,929.77 L218.35,929.77 L218.65,929.77 L218.95,929.77 L219.25,929.77 L219.55,929.77 L219.85,929.77 L220.15,929.77 L220.45,929.77 L220.75,929.77 L221.05,929.77 L221.35,929.77 L221.65,929.77 L221.95,929.77 L222.25,929.77 L222.55,929.77 L222.85,929.77 L223.15,929.77 L223.45,929.77 L223.75,929.77 L224.05,929.77 L224.35,929.77 L224.65,929.77 L224.95,929.77 L225.25,929.77 L225.55,929.77 L225.85,929.77 L226.15,929.77 L226.45,929.77 L226.75,929.77 L227.05,929.77 L227.35,929.77 L227.65,929.77 L227.95,929.77 L228.25,929.77 L228.55,929.77 L228.85,929.77 L229.15,929.77 L229.45,929.77 L229.75,929.77 L230.05,929.77 L230.35,929.77 L230.65,929.77 L230.95,929.77 L231.25,929.77 L231.55,929.77 L231.85,929.77 L232.15,929.77 L232.45,929.77 L232.75,929.77 L233.05,929.77 L233.35,929.77 L233.65,929.77 L233.95,929.77 L234.25,929.77 L234.55,929.77 L234.85,929.77 L235.15,929.77 L235.45,929.77 L235.75,929.77 L236.05,929.77 L236.35,929.77 L236.65,929.77 L236.95,929.77 L237.25,929.77 L237.55,929.77 L237.85,929.77 L238.15,929.77 L238.45,929.77 L238.75,929.77 L239.05,929.77 L239.35,929.77 L239.65,929.77 L239.95,929.77 L240.25,929.77 L240.55,929.77 L240.85,929.77 L241.15,929.77 L241.45,929.77 L241.75,929.77 L242.05,929.77 L242.35,929.77 L242.65,929.77 L242.95,929.77 L243.25,929.77 L243.55,929.77 L243.85,929.77 L244.15,929.77 L244.45,929.77 L244.75,929.77 L245.05,929.77 L245.35,929.77 L245.65,929.77 L245.95,929.77 L246.25,929.77 L246.55,929.77 L246.85,929.77 L247.15,929.77 L247.45,929.77 L247.75,929.77 L248.05,929.77 L248.35,929.77 L248.65,929.77 L248.95,929.77 L249.25,929.77 L249.55,929.77 L249.85,929.77 L250.15,929.77 L250.45,929.77 L250.75,929.77 L251.05,929.77 L251.35,929.77 L251.65,929.77 L251.95,929.77 L252.25,929.77 L252.55,929.77 L252.85,929.77 L253.15,929.77 L253.45,929.77 L253.75,929.77 L254.05,929.77 L254.35,929.77 L254.65,929.77 L254.95,929.77 L255.25,929.77 L255.55,929.77 L255.85,929.77 L256.15,929.77 L256.45,929.77 L256.75,929.77 L257.05,929.77 L257.35,929.77 L257.65,929.77 L257.95,929.77 L258.25,929.77 L258.55,929.77 L258.85,929.77 L259.15,929.77 L259.45,929.77 L259.75,929.77 L260.05,929.77 L260.35,929.77 L260.65,929.77 L260.95,929.77 L261.25,929.77 L261.55,929.77 L261.85,929.77 L262.15,929.77 L262.45,929.77 L262.75,929.77 L263.05,929.77 L263.35,929.77 L263.65,929.77 L263.95,929.77 L264.25,929.77 L264.55,929.77 L264.85,929.77 L265.15,929.77" stroke="#000" stroke-width="1.62"/>
<path d="M52.15,929.80 L53.05,929.80 L53.35,929.80 L53.66,929.79 L53.96,929.79 L54.26,929.77 L54.56,929.76 L54.87,929.74 L55.17,929.72 L55.47,929.69 L55.77,929.67 L56.08,929.63 L56.38,929.60 L56.68,929.56 L56.98,929.52 L57.29,929.48 L57.59,929.43 L57.89,929.38 L58.20,929.33 L58.50,929.27 L58.80,929.21 L59.10,929.15 L59.41,929.09 L59.71,929.03 L60.01,928.96 L60.31,928.89 L60.62,928.82 L60.92,928.75 L61.22,928.68 L61.52,928.60 L61.83,928.53 L62.13,928.45 L62.43,928.37 L62.74,928.29 L63.04,928.21 L63.34,928.13 L63.64,928.04 L63.95,927.96 L64.25,927.88 L64.55,927.79 L64.85,927.71 L65.16,927.62 L65.46,927.53 L65.76,927.44 L66.07,927.35 L66.37,927.26 L66.67,927.17 L66.97,927.08 L67.28,926.99 L67.58,926.90 L67.88,926.81 L68.18,926.71 L68.49,926.62 L68.79,926.52 L69.09,926.43 L69.39,926.33 L69.70,926.24 L70.00,926.14 L70.30,926.04 L70.61,925.94 L70.91,925.84 L71.21,925.74 L71.51,925.64 L71.82,925.53 L72.12,925.43 L72.42,925.32 L72.72,925.22 L73.03,925.11 L73.33,925.00 L73.63,924.89 L73.93,924.78 L74.24,924.67 L74.54,924.56 L74.84,924.44 L75.15,924.32 L75.45,924.21 L75.75,924.09 L76.05,923.97 L76.36,923.84 L76.66,923.72 L76.96,923.59 L77.26,923.46 L77.57,923.33 L77.87,923.20 L78.17,923.07 L78.47,922.93 L78.78,922.79 L79.08,922.65 L79.38,922.51 L79.69,922.36 L79.99,922.22 L80.29,922.07 L80.59,921.91 L80.90,921.76 L81.20,921.60 L81.50,921.44 L81.80,921.27 L82.11,921.11 L82.41,920.93 L82.71,920.76 L83.02,920.58 L83.32,920.40 L83.62,920.22 L83.92,920.03 L84.23,919.84 L84.53,919.64 L84.83,919.45 L85.13,919.24 L85.44,919.03 L85.74,918.82 L86.04,918.61 L86.34,918.39 L86.65,918.16 L86.95,917.93 L87.25,917.69 L87.56,917.45 L87.86,917.21 L88.16,916.96 L88.46,916.70 L88.77,916.44 L89.07,916.17 L89.37,915.89 L89.67,915.61 L89.98,915.33 L90.28,915.03 L90.58,914.73 L90.88,914.43 L91.19,914.11 L91.49,913.79 L91.79,913.46 L92.10,913.13 L92.40,912.79 L92.70,912.43 L93.00,912.08 L93.31,911.71 L93.61,911.33 L93.91,910.95 L94.21,910.55 L94.52,910.15 L94.82,909.74 L95.12,909.32 L95.42,908.89 L95.73,908.45 L96.03,908.00 L96.33,907.55 L96.64,907.08 L96.94,906.60 L97.24,906.11 L97.54,905.61 L97.85,905.10 L98.15,904.58 L98.45,904.05 L98.75,903.51 L99.06,902.96 L99.36,902.40 L99.66,901.83 L99.97,901.25 L100.27,900.66 L100.57,900.06 L100.87,899.45 L101.18,898.83 L101.48,898.20 L101.78,897.57 L102.08,896.92 L102.39,896.27 L102.69,895.61 L102.99,894.94 L103.29,894.27 L103.60,893.60 L103.90,892.92 L104.20,892.23 L104.51,891.55 L104.81,890.86 L105.11,890.17 L105.41,889.49 L105.72,888.81 L106.02,888.13 L106.32,887.45 L106.62,886.79 L106.93,886.13 L107.23,885.48 L107.53,884.84 L107.83,884.22 L108.14,883.62 L108.44,883.03 L108.74,882.46 L109.05,881.91 L109.35,881.38 L109.65,880.88 L109.95,880.41 L110.26,879.96 L110.56,879.55 L110.86,879.17 L111.16,878.82 L111.47,878.50 L111.77,878.22 L112.07,877.98 L112.38,877.78 L112.68,877.61 L112.98,877.49 L113.28,877.40 L113.59,877.36 L113.89,877.37 L114.19,877.46 L114.49,877.61 L114.80,877.84 L115.10,878.13 L115.40,878.49 L115.70,878.92 L116.01,879.41 L116.31,879.96 L116.61,880.57 L116.92,881.24 L117.22,881.97 L117.52,882.75 L117.82,883.57 L118.13,884.45 L118.43,885.36 L118.73,886.32 L119.03,887.31 L119.34,888.34 L119.64,889.39 L119.94,890.48 L120.24,891.58 L120.55,892.70 L120.85,893.84 L121.15,894.99 L121.46,896.15 L121.76,897.31 L122.06,898.48 L122.36,899.64 L122.67,900.80 L122.97,901.95 L123.27,903.10 L123.57,904.23 L123.88,905.34 L124.18,906.44 L124.48,907.52 L124.78,908.57 L125.09,909.61 L125.39,910.62 L125.69,911.60 L126.00,912.56 L126.30,913.48 L126.60,914.38 L126.90,915.25 L127.21,916.09 L127.51,916.90 L127.81,917.67 L128.11,918.42 L128.42,919.13 L128.72,919.81 L129.02,920.46 L129.32,921.08 L129.63,921.67 L129.93,922.23 L130.23,922.76 L130.54,923.27 L130.84,923.74 L131.14,924.19 L131.44,924.61 L131.75,925.01 L132.05,925.38 L132.35,925.73 L132.65,926.05 L132.96,926.36 L133.26,926.64 L133.56,926.91 L133.87,927.15 L134.17,927.38 L134.47,927.59 L134.77,927.79 L135.08,927.97 L135.38,928.13 L135.68,928.29 L135.98,928.43 L136.29,928.56 L136.59,928.68 L136.89,928.79 L137.19,928.89 L137.50,928.98 L137.80,929.06 L138.10,929.14 L138.41,929.20 L138.71,929.27 L139.01,929.32 L139.31,929.37 L139.62,929.42 L139.92,929.46 L140.22,929.50 L140.52,929.53 L140.83,929.56 L141.13,929.59 L141.43,929.61 L141.73,929.64 L142.04,929.65 L142.34,929.67 L142.64,929.69 L142.95,929.70 L143.25,929.71 L143.55,929.72 L143.85,929.73 L144.16,929.74 L144.46,929.75 L144.76,929.76 L145.06,929.76 L145.37,929.77 L145.67,929.77 L145.97,929.77 L146.27,929.78 L146.58,929.78 L146.88,929.78 L147.18,929.79 L147.49,929.79 L147.79,929.79 L148.09,929.79 L148.39,929.79 L148.70,929.79 L149.00,929.79 L149.30,929.80 L149.60,929.80 L149.91,929.80 L150.21,929.80 L150.51,929.80 L150.82,929.80 L151.12,929.80 L151.42,929.80 L151.72,929.80 L152.03,929.80 L152.33,929.80 L152.63,929.80 L152.93,929.80 L153.24,929.80 L153.54,929.80 L153.84,929.80 L154.14,929.80 L154.45,929.80 L154.75,929.80 L155.05,929.80 L155.36,929.80 L155.66,929.80 L155.96,929.80 L156.26,929.80 L156.57,929.80 L156.87,929.80 L157.17,929.80 L157.47,929.80 L157.78,929.80 L158.08,929.80 L158.38,929.80 L158.68,929.80 L158.99,929.80 L159.29,929.80 L159.59,929.80 L159.90,929.80 L160.20,929.80 L160.50,929.80 L160.80,929.80 L161.11,929.80 L161.41,929.80 L161.71,929.80 L162.01,929.80 L162.32,929.80 L162.62,929.80 L162.92,929.80 L163.22,929.80 L163.53,929.80 L163.83,929.80 L164.13,929.80 L164.44,929.80 L164.74,929.80 L165.04,929.80 L165.34,929.80 L165.65,929.80 L165.95,929.80 L166.25,929.80 L166.55,929.80 L166.86,929.80 L167.16,929.80 L167.46,929.80 L167.77,929.80 L168.07,929.80 L168.37,929.80 L168.67,929.80 L168.98,929.80 L169.28,929.80 L169.58,929.80 L169.88,929.80 L170.19,929.80 L170.49,929.80 L170.79,929.80 L171.09,929.80 L171.40,929.80 L171.70,929.80 L172.00,929.80 L172.31,929.80 L172.61,929.80 L172.91,929.80 L173.21,929.80 L173.52,929.80 L173.82,929.80 L174.12,929.80 L174.42,929.80 L174.73,929.80 L175.03,929.80 L175.33,929.80 L175.63,929.80 L175.94,929.80 L176.24,929.80 L176.54,929.80 L176.85,929.80 L177.15,929.80 L177.45,929.80 L177.75,929.80 L178.06,929.80 L178.36,929.80 L178.66,929.80 L178.96,929.80 L179.27,929.80 L179.57,929.80 L179.87,929.80 L180.18,929.80 L180.48,929.80 L180.78,929.80 L181.08,929.80 L181.39,929.80 L181.69,929.80 L181.99,929.80 L182.29,929.80 L182.60,929.80 L182.90,929.80 L183.20,929.80 L183.50,929.80 L183.81,929.80 L184.11,929.80 L184.41,929.80 L184.72,929.80 L185.02,929.80 L185.32,929.80 L185.62,929.80 L185.93,929.80 L186.23,929.80 L186.53,929.80 L186.83,929.80 L187.14,929.80 L187.44,929.80 L187.74,929.80 L188.04,929.80 L188.35,929.80 L188.65,929.80 L188.95,929.80 L189.26,929.80 L189.56,929.80 L189.86,929.80 L190.16,929.80 L190.47,929.80 L190.77,929.80 L191.07,929.80 L191.37,929.80 L191.68,929.80 L191.98,929.80 L192.28,929.80 L192.58,929.80 L192.89,929.80 L193.19,929.80 L193.49,929.80 L193.80,929.80 L194.10,929.80 L194.40,929.80 L194.70,929.80 L195.01,929.80 L195.31,929.80 L195.61,929.80 L195.91,929.80 L196.22,929.80 L196.52,929.80 L196.82,929.80 L197.12,929.80 L197.43,929.80 L197.73,929.80 L198.03,929.80 L198.34,929.80 L198.64,929.80 L198.94,929.80 L199.24,929.80 L199.55,929.80 L199.85,929.80 L200.15,929.80 L200.45,929.80 L200.76,929.80 L201.06,929.80 L201.36,929.80 L201.67,929.80 L201.97,929.80 L202.27,929.80 L202.57,929.80 L202.88,929.80 L203.18,929.80 L203.48,929.80 L203.78,929.80 L204.09,929.80 L204.39,929.80 L204.69,929.80 L204.99,929.80 L205.30,929.80 L205.60,929.80 L205.90,929.80 L206.21,929.80 L206.51,929.80 L206.81,929.80 L207.11,929.80 L207.42,929.80 L207.72,929.80 L208.02,929.80 L208.32,929.80 L208.63,929.80 L208.93,929.80 L209.23,929.80 L209.53,929.80 L209.84,929.80 L210.14,929.80 L210.44,929.80 L210.75,929.80 L211.05,929.80 L211.35,929.80 L211.65,929.80 L211.96,929.80 L212.26,929.80 L212.56,929.80 L212.86,929.80 L213.17,929.80 L213.47,929.80 L213.77,929.80 L214.07,929.80 L214.38,929.80 L214.68,929.80 L214.98,929.80 L215.29,929.80 L215.59,929.80 L215.89,929.80 L216.19,929.80 L216.50,929.80 L216.80,929.80 L217.10,929.80 L217.40,929.80 L217.71,929.80 L218.01,929.80 L218.31,929.80 L218.62,929.80 L218.92,929.80 L219.22,929.80 L219.52,929.80 L219.83,929.80 L220.13,929.80 L220.43,929.80 L220.73,929.80 L221.04,929.80 L221.34,929.80 L221.64,929.80 L221.94,929.80 L222.25,929.80 L222.55,929.80 L222.85,929.80 L223.16,929.80 L223.46,929.80 L223.76,929.80 L224.06,929.80 L224.37,929.80 L224.67,929.80 L224.97,929.80 L225.27,929.80 L225.58,929.80 L225.88,929.80 L226.18,929.80 L226.48,929.80 L226.79,929.80 L227.09,929.80 L227.39,929.80 L227.70,929.80 L228.00,929.80 L228.30,929.80 L228.60,929.80 L228.91,929.80 L229.21,929.80 L229.51,929.80 L229.81,929.80 L230.12,929.80 L230.42,929.80 L230.72,929.80 L231.02,929.80 L231.33,929.80 L231.63,929.80 L231.93,929.80 L232.24,929.80 L232.54,929.80 L232.84,929.80 L233.14,929.80 L233.45,929.80 L233.75,929.80 L234.05,929.80 L234.35,929.80 L234.66,929.80 L234.96,929.80 L235.26,929.80 L235.57,929.80 L235.87,929.80 L236.17,929.80 L236.47,929.80 L236.78,929.80 L237.08,929.80 L237.38,929.80 L237.68,929.80 L237.99,929.80 L238.29,929.80 L238.59,929.80 L238.89,929.80 L239.20,929.80 L239.50,929.80 L239.80,929.80 L240.11,929.80 L240.41,929.80 L240.71,929.80 L241.01,929.80 L241.32,929.80 L241.62,929.80 L241.92,929.80 L242.22,929.80 L242.53,929.80 L242.83,929.80 L243.13,929.80 L243.43,929.80 L243.74,929.80 L244.04,929.80 L244.34,929.80 L244.65,929.80 L244.95,929.80 L245.25,929.80 L245.55,929.80 L245.86,929.80 L246.16,929.80 L246.46,929.80 L246.76,929.80 L247.07,929.80 L247.37,929.80 L247.67,929.80 L247.98,929.80 L248.28,929.80 L248.58,929.80 L248.88,929.80 L249.19,929.80 L249.49,929.80 L249.79,929.80 L250.09,929.80 L250.40,929.80 L250.70,929.80 L251.00,929.80 L251.30,929.80 L251.61,929.80 L251.91,929.80 L252.21,929.80 L252.52,929.80 L252.82,929.80 L253.12,929.80 L253.42,929.80 L253.73,929.80 L254.03,929.80 L254.33,929.80 L254.63,929.80 L254.94,929.80 L255.24,929.80 L255.54,929.80 L255.84,929.80 L256.15,929.80 L256.45,929.80 L256.75,929.80 L257.06,929.80 L257.36,929.80 L257.66,929.80 L257.96,929.80 L258.27,929.80 L258.57,929.80 L258.87,929.80 L259.17,929.80 L259.48,929.80 L259.78,929.80 L260.08,929.80 L260.38,929.80 L260.69,929.80 L260.99,929.80 L261.29,929.80 L261.60,929.80 L261.90,929.80 L262.20,929.80 L262.50,929.80 L262.81,929.80 L263.11,929.80 L263.41,929.80 L263.71,929.80 L264.02,929.80 L264.32,929.80 L264.62,929.80 L264.93,929.80" stroke="#ff0000" stroke-width="1.62" stroke-dasharray="3.8 1.8"/>
</g>
<path d="M100.75,866.82 V872.62" stroke="#000" stroke-width="1.25" fill="none"/>
<path d="M98.85,871.32 L102.65,871.32 L100.75,875.22 Z" fill="#000"/>
<text x="46.25" y="608.00" font-size="12.60" text-anchor="end" transform="rotate(0.05 46.25 608.00)" >0</text>
<text x="46.25" y="539.10" font-size="12.60" text-anchor="end" transform="rotate(0.05 46.25 539.10)" >1</text>
<text x="46.25" y="689.86" font-size="12.60" text-anchor="end" transform="rotate(0.05 46.25 689.86)" >0</text>
<text x="46.25" y="620.50" font-size="12.60" text-anchor="end" transform="rotate(0.05 46.25 620.50)" >1</text>
<text x="46.25" y="769.80" font-size="12.60" text-anchor="end" transform="rotate(0.05 46.25 769.80)" >0</text>
<text x="46.25" y="702.08" font-size="12.60" text-anchor="end" transform="rotate(0.05 46.25 702.08)" >1</text>
<text x="46.25" y="852.60" font-size="12.60" text-anchor="end" transform="rotate(0.05 46.25 852.60)" >0</text>
<text x="46.25" y="783.37" font-size="12.60" text-anchor="end" transform="rotate(0.05 46.25 783.37)" >1</text>
<text x="46.25" y="933.80" font-size="12.60" text-anchor="end" transform="rotate(0.05 46.25 933.80)" >0</text>
<text x="46.25" y="864.80" font-size="12.60" text-anchor="end" transform="rotate(0.05 46.25 864.80)" >1</text>
<text x="52.75" y="959.30" font-size="12.60" text-anchor="middle" transform="rotate(0.05 52.75 959.30)" >0.0</text>
<text x="137.50" y="959.30" font-size="12.60" text-anchor="middle" transform="rotate(0.05 137.50 959.30)" >0.1</text>
<text x="222.25" y="959.30" font-size="12.60" text-anchor="middle" transform="rotate(0.05 222.25 959.30)" >0.2</text>
<rect x="319.00" y="535.00" width="7.30" height="408.90" fill="#6074ff"/>
<rect x="367.20" y="535.00" width="7.60" height="408.90" fill="#f4a666"/>
<rect x="450.20" y="535.00" width="7.60" height="408.90" fill="#6074ff"/>
<g stroke="#000" stroke-width="1.60" fill="none" stroke-linecap="butt">
<rect x="319.00" y="535.00" width="212.25" height="408.90"/>
<path d="M319.00,616.70 H531.25"/>
<path d="M319.00,698.14 H531.25"/>
<path d="M319.00,779.85 H531.25"/>
<path d="M319.00,861.70 H531.25"/>
<path d="M314.20,602.85 H319.00"/>
<path d="M316.20,568.93 H319.00"/>
<path d="M314.20,535.00 H319.00"/>
<path d="M314.20,684.40 H319.00"/>
<path d="M316.20,650.55 H319.00"/>
<path d="M314.20,616.70 H319.00"/>
<path d="M314.20,766.40 H319.00"/>
<path d="M316.20,732.27 H319.00"/>
<path d="M314.20,698.14 H319.00"/>
<path d="M314.20,847.90 H319.00"/>
<path d="M316.20,813.88 H319.00"/>
<path d="M314.20,779.85 H319.00"/>
<path d="M314.20,932.50 H319.00"/>
<path d="M316.20,904.60 H319.00"/>
<path d="M314.20,876.70 H319.00"/>
<path d="M319.00,943.90 V948.70"/>
<path d="M361.45,943.90 V946.70"/>
<path d="M403.90,943.90 V948.70"/>
<path d="M446.35,943.90 V946.70"/>
<path d="M488.80,943.90 V948.70"/>
<path d="M531.25,943.90 V946.70"/>
</g>
<clipPath id="cb0"><rect x="318.10" y="535.00" width="213.15" height="81.70"/></clipPath>
<g clip-path="url(#cb0)" fill="none" stroke-linejoin="round">
<path d="M319.00,567.72 L319.25,571.65 L319.50,575.37 L319.75,578.83 L320.00,581.96 L320.25,584.85 L320.50,587.57 L320.75,589.93 L321.00,591.31 L321.25,592.92 L321.50,594.25 L321.75,595.35 L322.00,596.28 L322.25,597.06 L322.50,597.74 L322.75,598.32 L323.00,598.83 L323.25,599.27 L323.50,599.65 L323.75,599.99 L324.00,600.29 L324.25,600.56 L324.50,600.79 L324.75,600.99 L325.00,601.16 L325.25,601.29 L325.50,601.41 L325.75,601.51 L326.00,601.60 L326.25,601.69 L326.50,601.76 L326.75,601.83 L327.00,601.90 L327.25,601.95 L327.50,602.01 L327.75,602.06 L328.00,602.11 L328.25,602.16 L328.50,602.20 L328.75,602.25 L329.00,602.30 L329.25,602.34 L329.50,602.38 L329.75,602.42 L330.00,602.46 L330.25,602.50 L330.50,602.53 L330.75,602.56 L331.00,602.59 L331.25,602.61 L331.50,602.64 L331.75,602.65 L332.00,602.67 L332.25,602.68 L332.50,602.69 L332.75,602.69 L333.00,602.70 L333.25,602.71 L333.50,602.71 L333.75,602.72 L334.00,602.72 L334.25,602.73 L334.50,602.74 L334.75,602.74 L335.00,602.75 L335.25,602.75 L335.50,602.75 L335.75,602.76 L336.00,602.76 L336.25,602.77 L336.50,602.77 L336.75,602.78 L337.00,602.78 L337.25,602.78 L337.50,602.79 L337.75,602.79 L338.00,602.79 L338.25,602.80 L338.50,602.80 L338.75,602.80 L339.00,602.80 L339.25,602.81 L339.50,602.81 L339.75,602.81 L340.00,602.81 L340.25,602.81 L340.50,602.82 L340.75,602.82 L341.00,602.82 L341.25,602.82 L341.50,602.82 L341.75,602.82 L342.00,602.82 L342.25,602.83 L342.50,602.83 L342.75,602.83 L343.00,602.83 L343.25,602.83 L343.50,602.83 L343.75,602.83 L344.00,602.83 L344.25,602.83 L344.50,602.83 L344.75,602.83 L345.00,602.83 L345.25,602.83 L345.50,602.83 L345.75,602.83 L346.00,602.83 L346.25,602.83 L346.50,602.83 L346.75,602.83 L347.00,602.83 L347.25,602.83 L347.50,602.83 L347.75,602.83 L348.00,602.83 L348.25,602.83 L348.50,602.83 L348.75,602.83 L349.00,602.83 L349.25,602.83 L349.50,602.83 L349.75,602.83 L350.00,602.83 L350.25,602.83 L350.50,602.83 L350.75,602.83 L351.00,602.83 L351.25,602.83 L351.50,602.83 L351.75,602.83 L352.00,602.83 L352.25,602.83 L352.50,602.83 L352.75,602.83 L353.00,602.83 L353.25,602.83 L353.50,602.83 L353.75,602.83 L354.00,602.83 L354.25,602.83 L354.50,602.83 L354.75,602.83 L355.00,602.83 L355.25,602.83 L355.50,602.83 L355.75,602.83 L356.00,602.83 L356.25,602.83 L356.50,602.83 L356.75,602.83 L357.00,602.83 L357.25,602.83 L357.50,602.83 L357.75,602.83 L358.00,602.83 L358.25,602.83 L358.50,602.83 L358.75,602.83 L359.00,602.82 L359.25,602.82 L359.50,602.82 L359.75,602.82 L360.00,602.81 L360.25,602.81 L360.50,602.80 L360.75,602.80 L361.00,602.79 L361.25,602.79 L361.50,602.78 L361.75,602.77 L362.00,602.76 L362.25,602.76 L362.50,602.75 L362.75,602.74 L363.00,602.73 L363.25,602.72 L363.50,602.71 L363.75,602.69 L364.00,602.68 L364.25,602.66 L364.50,602.64 L364.75,602.60 L365.00,602.57 L365.25,602.52 L365.50,602.48 L365.75,602.43 L366.00,602.38 L366.25,602.32 L366.50,602.27 L366.75,602.21 L367.00,602.14 L367.25,602.07 L367.50,601.99 L367.75,601.93 L368.00,601.88 L368.25,601.86 L368.50,601.86 L368.75,601.89 L369.00,601.95 L369.25,602.01 L369.50,602.09 L369.75,602.16 L370.00,602.22 L370.25,602.28 L370.50,602.34 L370.75,602.39 L371.00,602.44 L371.25,602.49 L371.50,602.54 L371.75,602.58 L372.00,602.61 L372.25,602.64 L372.50,602.67 L372.75,602.68 L373.00,602.70 L373.25,602.71 L373.50,602.72 L373.75,602.72 L374.00,602.73 L374.25,602.74 L374.50,602.75 L374.75,602.76 L375.00,602.76 L375.25,602.77 L375.50,602.78 L375.75,602.78 L376.00,602.79 L376.25,602.79 L376.50,602.80 L376.75,602.80 L377.00,602.81 L377.25,602.81 L377.50,602.81 L377.75,602.82 L378.00,602.82 L378.25,602.82 L378.50,602.82 L378.75,602.82 L379.00,602.83 L379.25,602.83 L379.50,602.83 L379.75,602.83 L380.00,602.83 L380.25,602.83 L380.50,602.83 L380.75,602.83 L381.00,602.83 L381.25,602.83 L381.50,602.83 L381.75,602.83 L382.00,602.83 L382.25,602.83 L382.50,602.83 L382.75,602.83 L383.00,602.83 L383.25,602.83 L383.50,602.83 L383.75,602.83 L384.00,602.83 L384.25,602.83 L384.50,602.83 L384.75,602.83 L385.00,602.83 L385.25,602.83 L385.50,602.83 L385.75,602.83 L386.00,602.83 L386.25,602.83 L386.50,602.83 L386.75,602.83 L387.00,602.83 L387.25,602.83 L387.50,602.83 L387.75,602.83 L388.00,602.83 L388.25,602.83 L388.50,602.83 L388.75,602.83 L389.00,602.83 L389.25,602.83 L389.50,602.83 L389.75,602.83 L390.00,602.83 L390.25,602.83 L390.50,602.83 L390.75,602.83 L391.00,602.83 L391.25,602.83 L391.50,602.83 L391.75,602.83 L392.00,602.83 L392.25,602.83 L392.50,602.83 L392.75,602.83 L393.00,602.83 L393.25,602.83 L393.50,602.83 L393.75,602.83 L394.00,602.83 L394.25,602.83 L394.50,602.83 L394.75,602.83 L395.00,602.83 L395.25,602.83 L395.50,602.83 L395.75,602.83 L396.00,602.83 L396.25,602.83 L396.50,602.83 L396.75,602.83 L397.00,602.83 L397.25,602.83 L397.50,602.83 L397.75,602.83 L398.00,602.83 L398.25,602.83 L398.50,602.83 L398.75,602.83 L399.00,602.83 L399.25,602.83 L399.50,602.83 L399.75,602.83 L400.00,602.83 L400.25,602.83 L400.50,602.83 L400.75,602.83 L401.00,602.83 L401.25,602.83 L401.50,602.83 L401.75,602.83 L402.00,602.83 L402.25,602.82 L402.50,602.82 L402.75,602.82 L403.00,602.82 L403.25,602.81 L403.50,602.81 L403.75,602.80 L404.00,602.80 L404.25,602.79 L404.50,602.79 L404.75,602.78 L405.00,602.77 L405.25,602.77 L405.50,602.76 L405.75,602.75 L406.00,602.75 L406.25,602.74 L406.50,602.73 L406.75,602.73 L407.00,602.72 L407.25,602.72 L407.50,602.71 L407.75,602.70 L408.00,602.70 L408.25,602.69 L408.50,602.69 L408.75,602.68 L409.00,602.68 L409.25,602.67 L409.50,602.67 L409.75,602.67 L410.00,602.66 L410.25,602.66 L410.50,602.65 L410.75,602.65 L411.00,602.64 L411.25,602.64 L411.50,602.64 L411.75,602.63 L412.00,602.63 L412.25,602.62 L412.50,602.62 L412.75,602.62 L413.00,602.61 L413.25,602.61 L413.50,602.60 L413.75,602.60 L414.00,602.60 L414.25,602.59 L414.50,602.59 L414.75,602.58 L415.00,602.58 L415.25,602.58 L415.50,602.57 L415.75,602.57 L416.00,602.56 L416.25,602.56 L416.50,602.56 L416.75,602.55 L417.00,602.55 L417.25,602.55 L417.50,602.54 L417.75,602.54 L418.00,602.53 L418.25,602.53 L418.50,602.53 L418.75,602.52 L419.00,602.52 L419.25,602.52 L419.50,602.51 L419.75,602.51 L420.00,602.51 L420.25,602.50 L420.50,602.50 L420.75,602.50 L421.00,602.49 L421.25,602.49 L421.50,602.49 L421.75,602.48 L422.00,602.48 L422.25,602.48 L422.50,602.47 L422.75,602.47 L423.00,602.47 L423.25,602.46 L423.50,602.46 L423.75,602.46 L424.00,602.46 L424.25,602.45 L424.50,602.45 L424.75,602.45 L425.00,602.44 L425.25,602.44 L425.50,602.43 L425.75,602.42 L426.00,602.41 L426.25,602.41 L426.50,602.40 L426.75,602.39 L427.00,602.38 L427.25,602.37 L427.50,602.36 L427.75,602.36 L428.00,602.35 L428.25,602.34 L428.50,602.33 L428.75,602.32 L429.00,602.31 L429.25,602.30 L429.50,602.28 L429.75,602.27 L430.00,602.26 L430.25,602.25 L430.50,602.24 L430.75,602.22 L431.00,602.21 L431.25,602.20 L431.50,602.18 L431.75,602.16 L432.00,602.15 L432.25,602.13 L432.50,602.11 L432.75,602.08 L433.00,602.06 L433.25,602.03 L433.50,602.00 L433.75,601.97 L434.00,601.94 L434.25,601.90 L434.50,601.86 L434.75,601.82 L435.00,601.78 L435.25,601.73 L435.50,601.64 L435.75,601.51 L436.00,601.33 L436.25,601.11 L436.50,600.85 L436.75,600.57 L437.00,600.27 L437.25,599.96 L437.50,599.63 L437.75,599.30 L438.00,598.97 L438.25,598.59 L438.50,598.17 L438.75,597.71 L439.00,597.23 L439.25,596.72 L439.50,596.19 L439.75,595.66 L440.00,595.13 L440.25,594.60 L440.50,594.08 L440.75,593.57 L441.00,593.03 L441.25,592.49 L441.50,591.94 L441.75,591.38 L442.00,590.82 L442.25,590.27 L442.50,589.73 L442.75,589.21 L443.00,588.70 L443.25,588.21 L443.50,587.73 L443.75,587.26 L444.00,586.80 L444.25,586.35 L444.50,585.91 L444.75,585.47 L445.00,585.03 L445.25,584.61 L445.50,584.18 L445.75,583.76 L446.00,583.34 L446.25,582.92 L446.50,582.50 L446.75,582.08 L447.00,581.67 L447.25,581.27 L447.50,580.88 L447.75,580.51 L448.00,580.16 L448.25,579.83 L448.50,579.51 L448.75,579.21 L449.00,578.92 L449.25,578.64 L449.50,578.36 L449.75,578.10 L450.00,577.85 L450.25,577.61 L450.50,577.37 L450.75,577.15 L451.00,576.94 L451.25,576.73 L451.50,576.52 L451.75,576.32 L452.00,576.13 L452.25,575.95 L452.50,575.78 L452.75,575.63 L453.00,575.51 L453.25,575.40 L453.50,575.29 L453.75,575.18 L454.00,575.09 L454.25,575.00 L454.50,574.94 L454.75,574.90 L455.00,574.90 L455.25,574.92 L455.50,574.98 L455.75,575.06 L456.00,575.16 L456.25,575.27 L456.50,575.38 L456.75,575.50 L457.00,575.64 L457.25,575.80 L457.50,575.99 L457.75,576.20 L458.00,576.42 L458.25,576.67 L458.50,576.92 L458.75,577.19 L459.00,577.46 L459.25,577.77 L459.50,578.10 L459.75,578.46 L460.00,578.85 L460.25,579.25 L460.50,579.66 L460.75,580.09 L461.00,580.53 L461.25,580.97 L461.50,581.42 L461.75,581.89 L462.00,582.38 L462.25,582.90 L462.50,583.43 L462.75,583.98 L463.00,584.53 L463.25,585.09 L463.50,585.65 L463.75,586.20 L464.00,586.74 L464.25,587.28 L464.50,587.82 L464.75,588.36 L465.00,588.91 L465.25,589.46 L465.50,590.00 L465.75,590.54 L466.00,591.07 L466.25,591.59 L466.50,592.09 L466.75,592.58 L467.00,593.06 L467.25,593.54 L467.50,594.01 L467.75,594.47 L468.00,594.92 L468.25,595.34 L468.50,595.75 L468.75,596.12 L469.00,596.46 L469.25,596.78 L469.50,597.08 L469.75,597.37 L470.00,597.66 L470.25,597.97 L470.50,598.30 L470.75,598.63 L471.00,598.97 L471.25,599.30 L471.50,599.62 L471.75,599.92 L472.00,600.19 L472.25,600.43 L472.50,600.62 L472.75,600.77 L473.00,600.91 L473.25,601.04 L473.50,601.17 L473.75,601.28 L474.00,601.40 L474.25,601.50 L474.50,601.60 L474.75,601.69 L475.00,601.77 L475.25,601.84 L475.50,601.91 L475.75,601.97 L476.00,602.02 L476.25,602.07 L476.50,602.11 L476.75,602.15 L477.00,602.19 L477.25,602.23 L477.50,602.26 L477.75,602.30 L478.00,602.33 L478.25,602.36 L478.50,602.39 L478.75,602.42 L479.00,602.45 L479.25,602.47 L479.50,602.50 L479.75,602.52 L480.00,602.54 L480.25,602.57 L480.50,602.59 L480.75,602.60 L481.00,602.62 L481.25,602.64 L481.50,602.65 L481.75,602.67 L482.00,602.68 L482.25,602.69 L482.50,602.70 L482.75,602.71 L483.00,602.72 L483.25,602.73 L483.50,602.74 L483.75,602.75 L484.00,602.76 L484.25,602.76 L484.50,602.77 L484.75,602.78 L485.00,602.79 L485.25,602.79 L485.50,602.80 L485.75,602.81 L486.00,602.81 L486.25,602.82 L486.50,602.82 L486.75,602.83 L487.00,602.83 L487.25,602.84 L487.50,602.84 L487.75,602.84 L488.00,602.85 L488.25,602.85 L488.50,602.85 L488.75,602.85 L489.00,602.85 L489.25,602.85 L489.50,602.85 L489.75,602.85 L490.00,602.85 L490.25,602.85 L490.50,602.85 L490.75,602.85 L491.00,602.85 L491.25,602.85 L491.50,602.85 L491.75,602.85 L492.00,602.85 L492.25,602.85 L492.50,602.85 L492.75,602.85 L493.00,602.85 L493.25,602.85 L493.50,602.85 L493.75,602.85 L494.00,602.85 L494.25,602.85 L494.50,602.85 L494.75,602.85 L495.00,602.85 L495.25,602.85 L495.50,602.85 L495.75,602.85 L496.00,602.85 L496.25,602.85 L496.50,602.85 L496.75,602.85 L497.00,602.85 L497.25,602.85 L497.50,602.85 L497.75,602.85 L498.00,602.85 L498.25,602.85 L498.50,602.85 L498.75,602.85 L499.00,602.85 L499.25,602.85 L499.50,602.85 L499.75,602.85 L500.00,602.85 L500.25,602.85 L500.50,602.85 L500.75,602.85 L501.00,602.85 L501.25,602.85 L501.50,602.85 L501.75,602.85 L502.00,602.85 L502.25,602.85 L502.50,602.85 L502.75,602.85 L503.00,602.85 L503.25,602.85 L503.50,602.85 L503.75,602.85 L504.00,602.85 L504.25,602.85 L504.50,602.85 L504.75,602.85 L505.00,602.85 L505.25,602.85 L505.50,602.85 L505.75,602.85 L506.00,602.85 L506.25,602.85 L506.50,602.85 L506.75,602.85 L507.00,602.85 L507.25,602.85 L507.50,602.85 L507.75,602.85 L508.00,602.85 L508.25,602.85 L508.50,602.85 L508.75,602.85 L509.00,602.85 L509.25,602.85 L509.50,602.85 L509.75,602.85 L510.00,602.85 L510.25,602.85 L510.50,602.85 L510.75,602.85 L511.00,602.85 L511.25,602.85 L511.50,602.85 L511.75,602.85 L512.00,602.85 L512.25,602.85 L512.50,602.85 L512.75,602.85 L513.00,602.85 L513.25,602.85 L513.50,602.85 L513.75,602.85 L514.00,602.85 L514.25,602.85 L514.50,602.85 L514.75,602.85 L515.00,602.85 L515.25,602.85 L515.50,602.85 L515.75,602.85 L516.00,602.85 L516.25,602.85 L516.50,602.85 L516.75,602.85 L517.00,602.85 L517.25,602.85 L517.50,602.85 L517.75,602.85 L518.00,602.85 L518.25,602.85 L518.50,602.85 L518.75,602.85 L519.00,602.85 L519.25,602.85 L519.50,602.85 L519.75,602.85 L520.00,602.85 L520.25,602.85 L520.50,602.85 L520.75,602.85 L521.00,602.85 L521.25,602.85 L521.50,602.85 L521.75,602.85 L522.00,602.85 L522.25,602.85 L522.50,602.85 L522.75,602.85 L523.00,602.85 L523.25,602.85 L523.50,602.85 L523.75,602.85 L524.00,602.85 L524.25,602.85 L524.50,602.85 L524.75,602.85 L525.00,602.85 L525.25,602.85 L525.50,602.85 L525.75,602.85 L526.00,602.85 L526.25,602.85 L526.50,602.85 L526.75,602.85 L527.00,602.85 L527.25,602.85 L527.50,602.85 L527.75,602.85 L528.00,602.85 L528.25,602.85 L528.50,602.85 L528.75,602.85 L529.00,602.85 L529.25,602.85 L529.50,602.85 L529.75,602.85 L530.00,602.85 L530.25,602.85 L530.50,602.85 L530.75,602.85 L531.00,602.85 L531.25,602.85" stroke="#000" stroke-width="1.62"/>
</g>
<clipPath id="cb1"><rect x="318.10" y="616.70" width="213.15" height="81.44"/></clipPath>
<g clip-path="url(#cb1)" fill="none" stroke-linejoin="round">
<path d="M319.00,650.98 L319.25,654.64 L319.50,658.11 L319.75,661.32 L320.00,664.23 L320.25,666.87 L320.50,669.33 L320.75,671.49 L321.00,672.88 L321.25,674.43 L321.50,675.74 L321.75,676.84 L322.00,677.76 L322.25,678.52 L322.50,679.17 L322.75,679.73 L323.00,680.22 L323.25,680.64 L323.50,681.02 L323.75,681.35 L324.00,681.65 L324.25,681.92 L324.50,682.16 L324.75,682.35 L325.00,682.51 L325.25,682.64 L325.50,682.74 L325.75,682.83 L326.00,682.91 L326.25,682.98 L326.50,683.04 L326.75,683.10 L327.00,683.15 L327.25,683.20 L327.50,683.24 L327.75,683.28 L328.00,683.32 L328.25,683.36 L328.50,683.39 L328.75,683.43 L329.00,683.46 L329.25,683.49 L329.50,683.53 L329.75,683.56 L330.00,683.58 L330.25,683.61 L330.50,683.64 L330.75,683.66 L331.00,683.68 L331.25,683.70 L331.50,683.71 L331.75,683.73 L332.00,683.74 L332.25,683.75 L332.50,683.76 L332.75,683.76 L333.00,683.77 L333.25,683.77 L333.50,683.78 L333.75,683.79 L334.00,683.79 L334.25,683.80 L334.50,683.80 L334.75,683.81 L335.00,683.81 L335.25,683.82 L335.50,683.82 L335.75,683.82 L336.00,683.83 L336.25,683.83 L336.50,683.84 L336.75,683.84 L337.00,683.85 L337.25,683.85 L337.50,683.85 L337.75,683.86 L338.00,683.86 L338.25,683.86 L338.50,683.86 L338.75,683.87 L339.00,683.87 L339.25,683.87 L339.50,683.88 L339.75,683.88 L340.00,683.88 L340.25,683.88 L340.50,683.88 L340.75,683.89 L341.00,683.89 L341.25,683.89 L341.50,683.89 L341.75,683.89 L342.00,683.89 L342.25,683.89 L342.50,683.89 L342.75,683.89 L343.00,683.89 L343.25,683.90 L343.50,683.90 L343.75,683.90 L344.00,683.90 L344.25,683.89 L344.50,683.89 L344.75,683.89 L345.00,683.89 L345.25,683.89 L345.50,683.89 L345.75,683.89 L346.00,683.88 L346.25,683.88 L346.50,683.88 L346.75,683.88 L347.00,683.87 L347.25,683.87 L347.50,683.87 L347.75,683.86 L348.00,683.86 L348.25,683.86 L348.50,683.85 L348.75,683.85 L349.00,683.85 L349.25,683.84 L349.50,683.84 L349.75,683.83 L350.00,683.83 L350.25,683.82 L350.50,683.82 L350.75,683.82 L351.00,683.81 L351.25,683.81 L351.50,683.80 L351.75,683.80 L352.00,683.80 L352.25,683.79 L352.50,683.79 L352.75,683.79 L353.00,683.78 L353.25,683.78 L353.50,683.77 L353.75,683.77 L354.00,683.77 L354.25,683.77 L354.50,683.76 L354.75,683.76 L355.00,683.76 L355.25,683.76 L355.50,683.76 L355.75,683.75 L356.00,683.75 L356.25,683.75 L356.50,683.75 L356.75,683.75 L357.00,683.76 L357.25,683.77 L357.50,683.78 L357.75,683.79 L358.00,683.81 L358.25,683.82 L358.50,683.84 L358.75,683.86 L359.00,683.87 L359.25,683.88 L359.50,683.89 L359.75,683.89 L360.00,683.89 L360.25,683.89 L360.50,683.88 L360.75,683.87 L361.00,683.86 L361.25,683.85 L361.50,683.84 L361.75,683.82 L362.00,683.80 L362.25,683.78 L362.50,683.76 L362.75,683.74 L363.00,683.72 L363.25,683.69 L363.50,683.66 L363.75,683.63 L364.00,683.60 L364.25,683.56 L364.50,683.51 L364.75,683.44 L365.00,683.37 L365.25,683.29 L365.50,683.20 L365.75,683.10 L366.00,683.00 L366.25,682.89 L366.50,682.77 L366.75,682.64 L367.00,682.49 L367.25,682.33 L367.50,682.16 L367.75,681.99 L368.00,681.85 L368.25,681.74 L368.50,681.68 L368.75,681.69 L369.00,681.75 L369.25,681.87 L369.50,682.03 L369.75,682.20 L370.00,682.39 L370.25,682.56 L370.50,682.71 L370.75,682.86 L371.00,682.99 L371.25,683.11 L371.50,683.22 L371.75,683.33 L372.00,683.42 L372.25,683.50 L372.50,683.56 L372.75,683.60 L373.00,683.64 L373.25,683.67 L373.50,683.70 L373.75,683.72 L374.00,683.74 L374.25,683.76 L374.50,683.78 L374.75,683.80 L375.00,683.81 L375.25,683.83 L375.50,683.84 L375.75,683.85 L376.00,683.86 L376.25,683.87 L376.50,683.88 L376.75,683.89 L377.00,683.90 L377.25,683.90 L377.50,683.91 L377.75,683.91 L378.00,683.92 L378.25,683.93 L378.50,683.93 L378.75,683.94 L379.00,683.94 L379.25,683.95 L379.50,683.95 L379.75,683.96 L380.00,683.96 L380.25,683.97 L380.50,683.97 L380.75,683.98 L381.00,683.98 L381.25,683.99 L381.50,683.99 L381.75,684.00 L382.00,684.00 L382.25,684.00 L382.50,684.01 L382.75,684.01 L383.00,684.01 L383.25,684.02 L383.50,684.02 L383.75,684.02 L384.00,684.02 L384.25,684.03 L384.50,684.03 L384.75,684.03 L385.00,684.03 L385.25,684.03 L385.50,684.04 L385.75,684.04 L386.00,684.04 L386.25,684.04 L386.50,684.04 L386.75,684.04 L387.00,684.04 L387.25,684.04 L387.50,684.04 L387.75,684.04 L388.00,684.04 L388.25,684.04 L388.50,684.04 L388.75,684.04 L389.00,684.04 L389.25,684.04 L389.50,684.04 L389.75,684.04 L390.00,684.04 L390.25,684.04 L390.50,684.04 L390.75,684.04 L391.00,684.04 L391.25,684.04 L391.50,684.04 L391.75,684.04 L392.00,684.04 L392.25,684.04 L392.50,684.04 L392.75,684.04 L393.00,684.04 L393.25,684.04 L393.50,684.04 L393.75,684.04 L394.00,684.04 L394.25,684.04 L394.50,684.04 L394.75,684.04 L395.00,684.04 L395.25,684.04 L395.50,684.04 L395.75,684.04 L396.00,684.04 L396.25,684.04 L396.50,684.04 L396.75,684.04 L397.00,684.04 L397.25,684.04 L397.50,684.04 L397.75,684.04 L398.00,684.04 L398.25,684.04 L398.50,684.04 L398.75,684.04 L399.00,684.04 L399.25,684.04 L399.50,684.04 L399.75,684.04 L400.00,684.04 L400.25,684.04 L400.50,684.04 L400.75,684.04 L401.00,684.04 L401.25,684.04 L401.50,684.04 L401.75,684.04 L402.00,684.04 L402.25,684.03 L402.50,684.03 L402.75,684.03 L403.00,684.02 L403.25,684.02 L403.50,684.01 L403.75,684.01 L404.00,684.00 L404.25,683.99 L404.50,683.99 L404.75,683.98 L405.00,683.97 L405.25,683.96 L405.50,683.96 L405.75,683.95 L406.00,683.94 L406.25,683.93 L406.50,683.93 L406.75,683.92 L407.00,683.92 L407.25,683.91 L407.50,683.91 L407.75,683.90 L408.00,683.90 L408.25,683.90 L408.50,683.90 L408.75,683.90 L409.00,683.90 L409.25,683.90 L409.50,683.90 L409.75,683.90 L410.00,683.90 L410.25,683.90 L410.50,683.90 L410.75,683.90 L411.00,683.90 L411.25,683.90 L411.50,683.90 L411.75,683.90 L412.00,683.90 L412.25,683.90 L412.50,683.90 L412.75,683.90 L413.00,683.90 L413.25,683.90 L413.50,683.90 L413.75,683.90 L414.00,683.90 L414.25,683.90 L414.50,683.90 L414.75,683.90 L415.00,683.90 L415.25,683.90 L415.50,683.90 L415.75,683.90 L416.00,683.90 L416.25,683.91 L416.50,683.91 L416.75,683.91 L417.00,683.91 L417.25,683.91 L417.50,683.91 L417.75,683.91 L418.00,683.91 L418.25,683.92 L418.50,683.92 L418.75,683.92 L419.00,683.92 L419.25,683.92 L419.50,683.92 L419.75,683.93 L420.00,683.93 L420.25,683.93 L420.50,683.93 L420.75,683.93 L421.00,683.94 L421.25,683.94 L421.50,683.94 L421.75,683.95 L422.00,683.95 L422.25,683.95 L422.50,683.95 L422.75,683.96 L423.00,683.96 L423.25,683.96 L423.50,683.97 L423.75,683.97 L424.00,683.98 L424.25,683.98 L424.50,683.98 L424.75,683.99 L425.00,683.99 L425.25,683.99 L425.50,683.98 L425.75,683.97 L426.00,683.96 L426.25,683.96 L426.50,683.95 L426.75,683.94 L427.00,683.93 L427.25,683.92 L427.50,683.91 L427.75,683.90 L428.00,683.89 L428.25,683.88 L428.50,683.87 L428.75,683.86 L429.00,683.85 L429.25,683.84 L429.50,683.83 L429.75,683.82 L430.00,683.81 L430.25,683.80 L430.50,683.78 L430.75,683.77 L431.00,683.76 L431.25,683.74 L431.50,683.73 L431.75,683.71 L432.00,683.69 L432.25,683.67 L432.50,683.65 L432.75,683.63 L433.00,683.60 L433.25,683.58 L433.50,683.55 L433.75,683.51 L434.00,683.48 L434.25,683.44 L434.50,683.40 L434.75,683.36 L435.00,683.31 L435.25,683.26 L435.50,683.16 L435.75,683.01 L436.00,682.81 L436.25,682.58 L436.50,682.32 L436.75,682.03 L437.00,681.72 L437.25,681.40 L437.50,681.08 L437.75,680.75 L438.00,680.41 L438.25,680.01 L438.50,679.58 L438.75,679.11 L439.00,678.62 L439.25,678.11 L439.50,677.58 L439.75,677.05 L440.00,676.51 L440.25,675.99 L440.50,675.48 L440.75,674.96 L441.00,674.42 L441.25,673.87 L441.50,673.32 L441.75,672.77 L442.00,672.21 L442.25,671.67 L442.50,671.13 L442.75,670.61 L443.00,670.11 L443.25,669.63 L443.50,669.15 L443.75,668.69 L444.00,668.23 L444.25,667.79 L444.50,667.34 L444.75,666.91 L445.00,666.48 L445.25,666.05 L445.50,665.63 L445.75,665.21 L446.00,664.79 L446.25,664.37 L446.50,663.95 L446.75,663.54 L447.00,663.13 L447.25,662.74 L447.50,662.35 L447.75,661.99 L448.00,661.64 L448.25,661.32 L448.50,661.01 L448.75,660.71 L449.00,660.43 L449.25,660.15 L449.50,659.88 L449.75,659.62 L450.00,659.37 L450.25,659.13 L450.50,658.90 L450.75,658.68 L451.00,658.47 L451.25,658.26 L451.50,658.06 L451.75,657.86 L452.00,657.67 L452.25,657.50 L452.50,657.34 L452.75,657.20 L453.00,657.08 L453.25,656.97 L453.50,656.86 L453.75,656.76 L454.00,656.67 L454.25,656.59 L454.50,656.54 L454.75,656.51 L455.00,656.51 L455.25,656.55 L455.50,656.62 L455.75,656.70 L456.00,656.81 L456.25,656.92 L456.50,657.04 L456.75,657.16 L457.00,657.30 L457.25,657.47 L457.50,657.67 L457.75,657.88 L458.00,658.11 L458.25,658.36 L458.50,658.62 L458.75,658.88 L459.00,659.17 L459.25,659.49 L459.50,659.83 L459.75,660.20 L460.00,660.58 L460.25,660.99 L460.50,661.41 L460.75,661.84 L461.00,662.28 L461.25,662.72 L461.50,663.17 L461.75,663.65 L462.00,664.15 L462.25,664.67 L462.50,665.21 L462.75,665.76 L463.00,666.31 L463.25,666.87 L463.50,667.42 L463.75,667.97 L464.00,668.51 L464.25,669.04 L464.50,669.58 L464.75,670.13 L465.00,670.68 L465.25,671.22 L465.50,671.76 L465.75,672.30 L466.00,672.82 L466.25,673.34 L466.50,673.83 L466.75,674.32 L467.00,674.80 L467.25,675.27 L467.50,675.74 L467.75,676.19 L468.00,676.63 L468.25,677.05 L468.50,677.44 L468.75,677.81 L469.00,678.14 L469.25,678.45 L469.50,678.74 L469.75,679.03 L470.00,679.33 L470.25,679.64 L470.50,679.97 L470.75,680.30 L471.00,680.64 L471.25,680.97 L471.50,681.28 L471.75,681.57 L472.00,681.83 L472.25,682.05 L472.50,682.22 L472.75,682.37 L473.00,682.51 L473.25,682.64 L473.50,682.76 L473.75,682.88 L474.00,682.99 L474.25,683.09 L474.50,683.18 L474.75,683.27 L475.00,683.35 L475.25,683.42 L475.50,683.49 L475.75,683.54 L476.00,683.59 L476.25,683.64 L476.50,683.68 L476.75,683.72 L477.00,683.75 L477.25,683.79 L477.50,683.82 L477.75,683.86 L478.00,683.89 L478.25,683.92 L478.50,683.95 L478.75,683.98 L479.00,684.01 L479.25,684.03 L479.50,684.06 L479.75,684.08 L480.00,684.10 L480.25,684.12 L480.50,684.14 L480.75,684.16 L481.00,684.18 L481.25,684.19 L481.50,684.21 L481.75,684.22 L482.00,684.24 L482.25,684.25 L482.50,684.26 L482.75,684.27 L483.00,684.27 L483.25,684.28 L483.50,684.29 L483.75,684.30 L484.00,684.31 L484.25,684.32 L484.50,684.33 L484.75,684.33 L485.00,684.34 L485.25,684.35 L485.50,684.35 L485.75,684.36 L486.00,684.37 L486.25,684.37 L486.50,684.38 L486.75,684.38 L487.00,684.39 L487.25,684.39 L487.50,684.39 L487.75,684.39 L488.00,684.40 L488.25,684.40 L488.50,684.40 L488.75,684.40 L489.00,684.40 L489.25,684.40 L489.50,684.40 L489.75,684.40 L490.00,684.40 L490.25,684.40 L490.50,684.40 L490.75,684.40 L491.00,684.40 L491.25,684.40 L491.50,684.40 L491.75,684.40 L492.00,684.40 L492.25,684.40 L492.50,684.40 L492.75,684.40 L493.00,684.40 L493.25,684.40 L493.50,684.40 L493.75,684.40 L494.00,684.40 L494.25,684.40 L494.50,684.40 L494.75,684.40 L495.00,684.40 L495.25,684.40 L495.50,684.40 L495.75,684.40 L496.00,684.40 L496.25,684.40 L496.50,684.40 L496.75,684.40 L497.00,684.40 L497.25,684.40 L497.50,684.40 L497.75,684.40 L498.00,684.40 L498.25,684.40 L498.50,684.40 L498.75,684.40 L499.00,684.40 L499.25,684.40 L499.50,684.40 L499.75,684.40 L500.00,684.40 L500.25,684.40 L500.50,684.40 L500.75,684.40 L501.00,684.40 L501.25,684.40 L501.50,684.40 L501.75,684.40 L502.00,684.40 L502.25,684.40 L502.50,684.40 L502.75,684.40 L503.00,684.40 L503.25,684.40 L503.50,684.40 L503.75,684.40 L504.00,684.40 L504.25,684.40 L504.50,684.40 L504.75,684.40 L505.00,684.40 L505.25,684.40 L505.50,684.40 L505.75,684.40 L506.00,684.40 L506.25,684.40 L506.50,684.40 L506.75,684.40 L507.00,684.40 L507.25,684.40 L507.50,684.40 L507.75,684.40 L508.00,684.40 L508.25,684.40 L508.50,684.40 L508.75,684.40 L509.00,684.40 L509.25,684.40 L509.50,684.40 L509.75,684.40 L510.00,684.40 L510.25,684.40 L510.50,684.40 L510.75,684.40 L511.00,684.40 L511.25,684.40 L511.50,684.40 L511.75,684.40 L512.00,684.40 L512.25,684.40 L512.50,684.40 L512.75,684.40 L513.00,684.40 L513.25,684.40 L513.50,684.40 L513.75,684.40 L514.00,684.40 L514.25,684.40 L514.50,684.40 L514.75,684.40 L515.00,684.40 L515.25,684.40 L515.50,684.40 L515.75,684.40 L516.00,684.40 L516.25,684.40 L516.50,684.40 L516.75,684.40 L517.00,684.40 L517.25,684.40 L517.50,684.40 L517.75,684.40 L518.00,684.40 L518.25,684.40 L518.50,684.40 L518.75,684.40 L519.00,684.40 L519.25,684.40 L519.50,684.40 L519.75,684.40 L520.00,684.40 L520.25,684.40 L520.50,684.40 L520.75,684.40 L521.00,684.40 L521.25,684.40 L521.50,684.40 L521.75,684.40 L522.00,684.40 L522.25,684.40 L522.50,684.40 L522.75,684.40 L523.00,684.40 L523.25,684.40 L523.50,684.40 L523.75,684.40 L524.00,684.40 L524.25,684.40 L524.50,684.40 L524.75,684.40 L525.00,684.40 L525.25,684.40 L525.50,684.40 L525.75,684.40 L526.00,684.40 L526.25,684.40 L526.50,684.40 L526.75,684.40 L527.00,684.40 L527.25,684.40 L527.50,684.40 L527.75,684.40 L528.00,684.40 L528.25,684.40 L528.50,684.40 L528.75,684.40 L529.00,684.40 L529.25,684.40 L529.50,684.40 L529.75,684.40 L530.00,684.40 L530.25,684.40 L530.50,684.40 L530.75,684.40 L531.00,684.40 L531.25,684.40" stroke="#000" stroke-width="1.62"/>
</g>
<clipPath id="cb2"><rect x="318.10" y="698.14" width="213.15" height="81.71"/></clipPath>
<g clip-path="url(#cb2)" fill="none" stroke-linejoin="round">
<path d="M319.00,736.20 L319.25,739.60 L319.50,742.81 L319.75,745.78 L320.00,748.45 L320.25,750.87 L320.50,753.13 L320.75,755.09 L321.00,756.27 L321.25,757.63 L321.50,758.76 L321.75,759.71 L322.00,760.51 L322.25,761.20 L322.50,761.78 L322.75,762.29 L323.00,762.73 L323.25,763.11 L323.50,763.44 L323.75,763.73 L324.00,763.98 L324.25,764.21 L324.50,764.40 L324.75,764.56 L325.00,764.69 L325.25,764.79 L325.50,764.88 L325.75,764.95 L326.00,765.01 L326.25,765.06 L326.50,765.11 L326.75,765.16 L327.00,765.20 L327.25,765.24 L327.50,765.27 L327.75,765.31 L328.00,765.34 L328.25,765.38 L328.50,765.41 L328.75,765.44 L329.00,765.48 L329.25,765.51 L329.50,765.54 L329.75,765.57 L330.00,765.60 L330.25,765.63 L330.50,765.65 L330.75,765.68 L331.00,765.70 L331.25,765.72 L331.50,765.73 L331.75,765.75 L332.00,765.76 L332.25,765.77 L332.50,765.78 L332.75,765.78 L333.00,765.79 L333.25,765.79 L333.50,765.80 L333.75,765.81 L334.00,765.81 L334.25,765.82 L334.50,765.82 L334.75,765.83 L335.00,765.83 L335.25,765.84 L335.50,765.84 L335.75,765.85 L336.00,765.85 L336.25,765.85 L336.50,765.86 L336.75,765.86 L337.00,765.87 L337.25,765.87 L337.50,765.87 L337.75,765.88 L338.00,765.88 L338.25,765.88 L338.50,765.89 L338.75,765.89 L339.00,765.89 L339.25,765.89 L339.50,765.90 L339.75,765.90 L340.00,765.90 L340.25,765.90 L340.50,765.90 L340.75,765.91 L341.00,765.91 L341.25,765.91 L341.50,765.91 L341.75,765.91 L342.00,765.91 L342.25,765.91 L342.50,765.91 L342.75,765.91 L343.00,765.92 L343.25,765.92 L343.50,765.92 L343.75,765.92 L344.00,765.92 L344.25,765.91 L344.50,765.91 L344.75,765.91 L345.00,765.90 L345.25,765.90 L345.50,765.89 L345.75,765.88 L346.00,765.88 L346.25,765.87 L346.50,765.86 L346.75,765.85 L347.00,765.84 L347.25,765.82 L347.50,765.81 L347.75,765.80 L348.00,765.78 L348.25,765.77 L348.50,765.75 L348.75,765.74 L349.00,765.72 L349.25,765.71 L349.50,765.69 L349.75,765.67 L350.00,765.65 L350.25,765.63 L350.50,765.62 L350.75,765.60 L351.00,765.58 L351.25,765.56 L351.50,765.54 L351.75,765.52 L352.00,765.50 L352.25,765.48 L352.50,765.46 L352.75,765.44 L353.00,765.42 L353.25,765.40 L353.50,765.37 L353.75,765.35 L354.00,765.33 L354.25,765.30 L354.50,765.27 L354.75,765.24 L355.00,765.20 L355.25,765.16 L355.50,765.12 L355.75,765.08 L356.00,765.05 L356.25,765.01 L356.50,764.98 L356.75,764.96 L357.00,764.94 L357.25,764.93 L357.50,764.93 L357.75,764.95 L358.00,764.98 L358.25,765.03 L358.50,765.09 L358.75,765.16 L359.00,765.22 L359.25,765.27 L359.50,765.30 L359.75,765.32 L360.00,765.33 L360.25,765.33 L360.50,765.32 L360.75,765.31 L361.00,765.29 L361.25,765.28 L361.50,765.26 L361.75,765.24 L362.00,765.21 L362.25,765.18 L362.50,765.15 L362.75,765.12 L363.00,765.09 L363.25,765.05 L363.50,764.99 L363.75,764.93 L364.00,764.85 L364.25,764.74 L364.50,764.63 L364.75,764.49 L365.00,764.34 L365.25,764.15 L365.50,763.93 L365.75,763.66 L366.00,763.33 L366.25,762.94 L366.50,762.50 L366.75,762.02 L367.00,761.51 L367.25,760.96 L367.50,760.37 L367.75,759.75 L368.00,759.13 L368.25,758.54 L368.50,757.98 L368.75,757.49 L369.00,757.08 L369.25,756.80 L369.50,756.71 L369.75,756.81 L370.00,757.09 L370.25,757.50 L370.50,758.00 L370.75,758.55 L371.00,759.15 L371.25,759.77 L371.50,760.39 L371.75,760.99 L372.00,761.56 L372.25,762.09 L372.50,762.60 L372.75,763.06 L373.00,763.46 L373.25,763.81 L373.50,764.09 L373.75,764.33 L374.00,764.53 L374.25,764.71 L374.50,764.87 L374.75,765.01 L375.00,765.13 L375.25,765.23 L375.50,765.31 L375.75,765.38 L376.00,765.43 L376.25,765.49 L376.50,765.53 L376.75,765.58 L377.00,765.62 L377.25,765.66 L377.50,765.70 L377.75,765.73 L378.00,765.76 L378.25,765.79 L378.50,765.81 L378.75,765.84 L379.00,765.86 L379.25,765.88 L379.50,765.89 L379.75,765.91 L380.00,765.92 L380.25,765.93 L380.50,765.95 L380.75,765.96 L381.00,765.97 L381.25,765.98 L381.50,765.99 L381.75,766.01 L382.00,766.02 L382.25,766.03 L382.50,766.04 L382.75,766.05 L383.00,766.06 L383.25,766.07 L383.50,766.08 L383.75,766.09 L384.00,766.10 L384.25,766.10 L384.50,766.11 L384.75,766.12 L385.00,766.13 L385.25,766.13 L385.50,766.14 L385.75,766.15 L386.00,766.15 L386.25,766.16 L386.50,766.17 L386.75,766.17 L387.00,766.18 L387.25,766.18 L387.50,766.18 L387.75,766.19 L388.00,766.19 L388.25,766.19 L388.50,766.20 L388.75,766.20 L389.00,766.20 L389.25,766.20 L389.50,766.20 L389.75,766.20 L390.00,766.20 L390.25,766.20 L390.50,766.20 L390.75,766.20 L391.00,766.20 L391.25,766.20 L391.50,766.20 L391.75,766.20 L392.00,766.20 L392.25,766.20 L392.50,766.20 L392.75,766.20 L393.00,766.20 L393.25,766.20 L393.50,766.20 L393.75,766.20 L394.00,766.20 L394.25,766.20 L394.50,766.20 L394.75,766.20 L395.00,766.20 L395.25,766.20 L395.50,766.20 L395.75,766.20 L396.00,766.20 L396.25,766.20 L396.50,766.20 L396.75,766.20 L397.00,766.20 L397.25,766.20 L397.50,766.20 L397.75,766.20 L398.00,766.20 L398.25,766.20 L398.50,766.20 L398.75,766.20 L399.00,766.20 L399.25,766.20 L399.50,766.20 L399.75,766.20 L400.00,766.20 L400.25,766.20 L400.50,766.20 L400.75,766.20 L401.00,766.20 L401.25,766.20 L401.50,766.20 L401.75,766.20 L402.00,766.20 L402.25,766.19 L402.50,766.19 L402.75,766.18 L403.00,766.17 L403.25,766.16 L403.50,766.15 L403.75,766.14 L404.00,766.12 L404.25,766.11 L404.50,766.10 L404.75,766.08 L405.00,766.07 L405.25,766.05 L405.50,766.04 L405.75,766.02 L406.00,766.01 L406.25,765.99 L406.50,765.98 L406.75,765.97 L407.00,765.96 L407.25,765.95 L407.50,765.94 L407.75,765.93 L408.00,765.93 L408.25,765.92 L408.50,765.92 L408.75,765.92 L409.00,765.92 L409.25,765.92 L409.50,765.92 L409.75,765.92 L410.00,765.92 L410.25,765.92 L410.50,765.92 L410.75,765.92 L411.00,765.92 L411.25,765.92 L411.50,765.92 L411.75,765.92 L412.00,765.92 L412.25,765.92 L412.50,765.92 L412.75,765.92 L413.00,765.92 L413.25,765.92 L413.50,765.92 L413.75,765.92 L414.00,765.92 L414.25,765.92 L414.50,765.92 L414.75,765.92 L415.00,765.92 L415.25,765.92 L415.50,765.92 L415.75,765.92 L416.00,765.92 L416.25,765.92 L416.50,765.92 L416.75,765.93 L417.00,765.93 L417.25,765.93 L417.50,765.93 L417.75,765.93 L418.00,765.93 L418.25,765.93 L418.50,765.93 L418.75,765.93 L419.00,765.93 L419.25,765.94 L419.50,765.94 L419.75,765.94 L420.00,765.94 L420.25,765.94 L420.50,765.94 L420.75,765.95 L421.00,765.95 L421.25,765.95 L421.50,765.95 L421.75,765.95 L422.00,765.96 L422.25,765.96 L422.50,765.96 L422.75,765.96 L423.00,765.97 L423.25,765.97 L423.50,765.97 L423.75,765.97 L424.00,765.98 L424.25,765.98 L424.50,765.98 L424.75,765.98 L425.00,765.99 L425.25,765.98 L425.50,765.97 L425.75,765.97 L426.00,765.96 L426.25,765.95 L426.50,765.94 L426.75,765.94 L427.00,765.93 L427.25,765.92 L427.50,765.91 L427.75,765.90 L428.00,765.89 L428.25,765.88 L428.50,765.87 L428.75,765.86 L429.00,765.85 L429.25,765.84 L429.50,765.83 L429.75,765.82 L430.00,765.80 L430.25,765.79 L430.50,765.78 L430.75,765.77 L431.00,765.75 L431.25,765.74 L431.50,765.72 L431.75,765.70 L432.00,765.69 L432.25,765.67 L432.50,765.65 L432.75,765.62 L433.00,765.60 L433.25,765.57 L433.50,765.54 L433.75,765.51 L434.00,765.47 L434.25,765.43 L434.50,765.39 L434.75,765.35 L435.00,765.30 L435.25,765.25 L435.50,765.15 L435.75,764.99 L436.00,764.80 L436.25,764.56 L436.50,764.30 L436.75,764.01 L437.00,763.70 L437.25,763.38 L437.50,763.05 L437.75,762.72 L438.00,762.37 L438.25,761.98 L438.50,761.54 L438.75,761.07 L439.00,760.57 L439.25,760.05 L439.50,759.52 L439.75,758.98 L440.00,758.45 L440.25,757.92 L440.50,757.41 L440.75,756.88 L441.00,756.34 L441.25,755.79 L441.50,755.23 L441.75,754.67 L442.00,754.11 L442.25,753.56 L442.50,753.02 L442.75,752.50 L443.00,751.99 L443.25,751.51 L443.50,751.03 L443.75,750.56 L444.00,750.10 L444.25,749.65 L444.50,749.20 L444.75,748.76 L445.00,748.33 L445.25,747.90 L445.50,747.48 L445.75,747.06 L446.00,746.63 L446.25,746.20 L446.50,745.78 L446.75,745.36 L447.00,744.95 L447.25,744.56 L447.50,744.17 L447.75,743.80 L448.00,743.46 L448.25,743.13 L448.50,742.82 L448.75,742.52 L449.00,742.23 L449.25,741.95 L449.50,741.68 L449.75,741.42 L450.00,741.16 L450.25,740.92 L450.50,740.69 L450.75,740.47 L451.00,740.26 L451.25,740.05 L451.50,739.84 L451.75,739.64 L452.00,739.45 L452.25,739.27 L452.50,739.11 L452.75,738.97 L453.00,738.86 L453.25,738.74 L453.50,738.63 L453.75,738.53 L454.00,738.44 L454.25,738.36 L454.50,738.31 L454.75,738.28 L455.00,738.28 L455.25,738.32 L455.50,738.39 L455.75,738.47 L456.00,738.58 L456.25,738.69 L456.50,738.81 L456.75,738.93 L457.00,739.08 L457.25,739.25 L457.50,739.45 L457.75,739.66 L458.00,739.90 L458.25,740.14 L458.50,740.40 L458.75,740.67 L459.00,740.96 L459.25,741.28 L459.50,741.63 L459.75,742.00 L460.00,742.39 L460.25,742.79 L460.50,743.22 L460.75,743.65 L461.00,744.10 L461.25,744.54 L461.50,745.00 L461.75,745.48 L462.00,745.98 L462.25,746.51 L462.50,747.05 L462.75,747.60 L463.00,748.16 L463.25,748.72 L463.50,749.28 L463.75,749.84 L464.00,750.38 L464.25,750.92 L464.50,751.46 L464.75,752.01 L465.00,752.56 L465.25,753.11 L465.50,753.66 L465.75,754.20 L466.00,754.73 L466.25,755.24 L466.50,755.75 L466.75,756.23 L467.00,756.72 L467.25,757.20 L467.50,757.67 L467.75,758.13 L468.00,758.57 L468.25,758.99 L468.50,759.39 L468.75,759.75 L469.00,760.09 L469.25,760.40 L469.50,760.69 L469.75,760.99 L470.00,761.28 L470.25,761.60 L470.50,761.93 L470.75,762.27 L471.00,762.61 L471.25,762.94 L471.50,763.26 L471.75,763.55 L472.00,763.81 L472.25,764.03 L472.50,764.21 L472.75,764.35 L473.00,764.49 L473.25,764.62 L473.50,764.75 L473.75,764.86 L474.00,764.97 L474.25,765.08 L474.50,765.17 L474.75,765.26 L475.00,765.34 L475.25,765.41 L475.50,765.48 L475.75,765.54 L476.00,765.59 L476.25,765.63 L476.50,765.67 L476.75,765.71 L477.00,765.75 L477.25,765.78 L477.50,765.82 L477.75,765.85 L478.00,765.89 L478.25,765.92 L478.50,765.95 L478.75,765.98 L479.00,766.00 L479.25,766.03 L479.50,766.05 L479.75,766.08 L480.00,766.10 L480.25,766.12 L480.50,766.14 L480.75,766.16 L481.00,766.18 L481.25,766.19 L481.50,766.21 L481.75,766.22 L482.00,766.23 L482.25,766.25 L482.50,766.26 L482.75,766.26 L483.00,766.27 L483.25,766.28 L483.50,766.29 L483.75,766.30 L484.00,766.31 L484.25,766.32 L484.50,766.32 L484.75,766.33 L485.00,766.34 L485.25,766.35 L485.50,766.35 L485.75,766.36 L486.00,766.37 L486.25,766.37 L486.50,766.38 L486.75,766.38 L487.00,766.38 L487.25,766.39 L487.50,766.39 L487.75,766.39 L488.00,766.40 L488.25,766.40 L488.50,766.40 L488.75,766.40 L489.00,766.40 L489.25,766.40 L489.50,766.40 L489.75,766.40 L490.00,766.40 L490.25,766.40 L490.50,766.40 L490.75,766.40 L491.00,766.40 L491.25,766.40 L491.50,766.40 L491.75,766.40 L492.00,766.40 L492.25,766.40 L492.50,766.40 L492.75,766.40 L493.00,766.40 L493.25,766.40 L493.50,766.40 L493.75,766.40 L494.00,766.40 L494.25,766.40 L494.50,766.40 L494.75,766.40 L495.00,766.40 L495.25,766.40 L495.50,766.40 L495.75,766.40 L496.00,766.40 L496.25,766.40 L496.50,766.40 L496.75,766.40 L497.00,766.40 L497.25,766.40 L497.50,766.40 L497.75,766.40 L498.00,766.40 L498.25,766.40 L498.50,766.40 L498.75,766.40 L499.00,766.40 L499.25,766.40 L499.50,766.40 L499.75,766.40 L500.00,766.40 L500.25,766.40 L500.50,766.40 L500.75,766.40 L501.00,766.40 L501.25,766.40 L501.50,766.40 L501.75,766.40 L502.00,766.40 L502.25,766.40 L502.50,766.40 L502.75,766.40 L503.00,766.40 L503.25,766.40 L503.50,766.40 L503.75,766.40 L504.00,766.40 L504.25,766.40 L504.50,766.40 L504.75,766.40 L505.00,766.40 L505.25,766.40 L505.50,766.40 L505.75,766.40 L506.00,766.40 L506.25,766.40 L506.50,766.40 L506.75,766.40 L507.00,766.40 L507.25,766.40 L507.50,766.40 L507.75,766.40 L508.00,766.40 L508.25,766.40 L508.50,766.40 L508.75,766.40 L509.00,766.40 L509.25,766.40 L509.50,766.40 L509.75,766.40 L510.00,766.40 L510.25,766.40 L510.50,766.40 L510.75,766.40 L511.00,766.40 L511.25,766.40 L511.50,766.40 L511.75,766.40 L512.00,766.40 L512.25,766.40 L512.50,766.40 L512.75,766.40 L513.00,766.40 L513.25,766.40 L513.50,766.40 L513.75,766.40 L514.00,766.40 L514.25,766.40 L514.50,766.40 L514.75,766.40 L515.00,766.40 L515.25,766.40 L515.50,766.40 L515.75,766.40 L516.00,766.40 L516.25,766.40 L516.50,766.40 L516.75,766.40 L517.00,766.40 L517.25,766.40 L517.50,766.40 L517.75,766.40 L518.00,766.40 L518.25,766.40 L518.50,766.40 L518.75,766.40 L519.00,766.40 L519.25,766.40 L519.50,766.40 L519.75,766.40 L520.00,766.40 L520.25,766.40 L520.50,766.40 L520.75,766.40 L521.00,766.40 L521.25,766.40 L521.50,766.40 L521.75,766.40 L522.00,766.40 L522.25,766.40 L522.50,766.40 L522.75,766.40 L523.00,766.40 L523.25,766.40 L523.50,766.40 L523.75,766.40 L524.00,766.40 L524.25,766.40 L524.50,766.40 L524.75,766.40 L525.00,766.40 L525.25,766.40 L525.50,766.40 L525.75,766.40 L526.00,766.40 L526.25,766.40 L526.50,766.40 L526.75,766.40 L527.00,766.40 L527.25,766.40 L527.50,766.40 L527.75,766.40 L528.00,766.40 L528.25,766.40 L528.50,766.40 L528.75,766.40 L529.00,766.40 L529.25,766.40 L529.50,766.40 L529.75,766.40 L530.00,766.40 L530.25,766.40 L530.50,766.40 L530.75,766.40 L531.00,766.40 L531.25,766.40" stroke="#000" stroke-width="1.62"/>
</g>
<clipPath id="cb3"><rect x="318.10" y="779.85" width="213.15" height="81.85"/></clipPath>
<g clip-path="url(#cb3)" fill="none" stroke-linejoin="round">
<path d="M319.00,820.38 L319.25,823.51 L319.50,826.47 L319.75,829.20 L320.00,831.64 L320.25,833.82 L320.50,835.84 L320.75,837.60 L321.00,838.71 L321.25,839.96 L321.50,841.01 L321.75,841.89 L322.00,842.63 L322.25,843.25 L322.50,843.77 L322.75,844.23 L323.00,844.63 L323.25,844.98 L323.50,845.29 L323.75,845.57 L324.00,845.82 L324.25,846.04 L324.50,846.24 L324.75,846.40 L325.00,846.53 L325.25,846.64 L325.50,846.72 L325.75,846.79 L326.00,846.85 L326.25,846.91 L326.50,846.96 L326.75,847.00 L327.00,847.04 L327.25,847.08 L327.50,847.12 L327.75,847.15 L328.00,847.19 L328.25,847.22 L328.50,847.26 L328.75,847.29 L329.00,847.33 L329.25,847.36 L329.50,847.39 L329.75,847.42 L330.00,847.46 L330.25,847.48 L330.50,847.51 L330.75,847.53 L331.00,847.56 L331.25,847.57 L331.50,847.59 L331.75,847.60 L332.00,847.61 L332.25,847.61 L332.50,847.62 L332.75,847.62 L333.00,847.62 L333.25,847.62 L333.50,847.62 L333.75,847.62 L334.00,847.62 L334.25,847.62 L334.50,847.62 L334.75,847.62 L335.00,847.62 L335.25,847.62 L335.50,847.62 L335.75,847.62 L336.00,847.62 L336.25,847.62 L336.50,847.62 L336.75,847.62 L337.00,847.62 L337.25,847.62 L337.50,847.62 L337.75,847.62 L338.00,847.62 L338.25,847.62 L338.50,847.62 L338.75,847.62 L339.00,847.62 L339.25,847.62 L339.50,847.62 L339.75,847.62 L340.00,847.62 L340.25,847.62 L340.50,847.62 L340.75,847.62 L341.00,847.62 L341.25,847.62 L341.50,847.62 L341.75,847.62 L342.00,847.62 L342.25,847.62 L342.50,847.62 L342.75,847.62 L343.00,847.62 L343.25,847.62 L343.50,847.62 L343.75,847.62 L344.00,847.61 L344.25,847.61 L344.50,847.60 L344.75,847.60 L345.00,847.58 L345.25,847.57 L345.50,847.56 L345.75,847.54 L346.00,847.52 L346.25,847.50 L346.50,847.48 L346.75,847.45 L347.00,847.43 L347.25,847.40 L347.50,847.37 L347.75,847.34 L348.00,847.31 L348.25,847.28 L348.50,847.25 L348.75,847.21 L349.00,847.18 L349.25,847.15 L349.50,847.11 L349.75,847.08 L350.00,847.04 L350.25,847.01 L350.50,846.97 L350.75,846.94 L351.00,846.90 L351.25,846.86 L351.50,846.83 L351.75,846.79 L352.00,846.74 L352.25,846.70 L352.50,846.65 L352.75,846.60 L353.00,846.55 L353.25,846.50 L353.50,846.45 L353.75,846.40 L354.00,846.34 L354.25,846.29 L354.50,846.23 L354.75,846.17 L355.00,846.11 L355.25,846.05 L355.50,845.99 L355.75,845.91 L356.00,845.83 L356.25,845.75 L356.50,845.67 L356.75,845.60 L357.00,845.54 L357.25,845.51 L357.50,845.50 L357.75,845.52 L358.00,845.57 L358.25,845.64 L358.50,845.73 L358.75,845.82 L359.00,845.90 L359.25,845.97 L359.50,846.03 L359.75,846.07 L360.00,846.10 L360.25,846.12 L360.50,846.14 L360.75,846.16 L361.00,846.16 L361.25,846.16 L361.50,846.14 L361.75,846.12 L362.00,846.08 L362.25,846.03 L362.50,845.98 L362.75,845.91 L363.00,845.83 L363.25,845.75 L363.50,845.65 L363.75,845.55 L364.00,845.43 L364.25,845.29 L364.50,845.11 L364.75,844.90 L365.00,844.64 L365.25,844.34 L365.50,843.98 L365.75,843.57 L366.00,843.06 L366.25,842.42 L366.50,841.58 L366.75,840.53 L367.00,839.28 L367.25,837.83 L367.50,836.22 L367.75,834.42 L368.00,832.45 L368.25,830.35 L368.50,828.20 L368.75,826.08 L369.00,824.04 L369.25,822.11 L369.50,820.36 L369.75,818.82 L370.00,817.50 L370.25,816.40 L370.50,815.56 L370.75,815.05 L371.00,814.95 L371.25,815.26 L371.50,815.94 L371.75,816.93 L372.00,818.15 L372.25,819.59 L372.50,821.25 L372.75,823.09 L373.00,825.04 L373.25,827.02 L373.50,829.00 L373.75,830.93 L374.00,832.77 L374.25,834.49 L374.50,836.04 L374.75,837.44 L375.00,838.71 L375.25,839.84 L375.50,840.84 L375.75,841.72 L376.00,842.47 L376.25,843.14 L376.50,843.73 L376.75,844.26 L377.00,844.72 L377.25,845.12 L377.50,845.45 L377.75,845.72 L378.00,845.94 L378.25,846.14 L378.50,846.31 L378.75,846.48 L379.00,846.63 L379.25,846.77 L379.50,846.89 L379.75,847.01 L380.00,847.11 L380.25,847.20 L380.50,847.28 L380.75,847.35 L381.00,847.41 L381.25,847.45 L381.50,847.49 L381.75,847.53 L382.00,847.56 L382.25,847.59 L382.50,847.62 L382.75,847.65 L383.00,847.68 L383.25,847.70 L383.50,847.73 L383.75,847.75 L384.00,847.77 L384.25,847.79 L384.50,847.81 L384.75,847.82 L385.00,847.84 L385.25,847.85 L385.50,847.87 L385.75,847.88 L386.00,847.89 L386.25,847.89 L386.50,847.90 L386.75,847.90 L387.00,847.90 L387.25,847.90 L387.50,847.90 L387.75,847.90 L388.00,847.90 L388.25,847.90 L388.50,847.90 L388.75,847.90 L389.00,847.90 L389.25,847.90 L389.50,847.90 L389.75,847.90 L390.00,847.90 L390.25,847.90 L390.50,847.90 L390.75,847.90 L391.00,847.90 L391.25,847.90 L391.50,847.90 L391.75,847.90 L392.00,847.90 L392.25,847.90 L392.50,847.90 L392.75,847.90 L393.00,847.90 L393.25,847.90 L393.50,847.90 L393.75,847.90 L394.00,847.90 L394.25,847.90 L394.50,847.90 L394.75,847.90 L395.00,847.90 L395.25,847.90 L395.50,847.90 L395.75,847.90 L396.00,847.90 L396.25,847.90 L396.50,847.90 L396.75,847.90 L397.00,847.90 L397.25,847.90 L397.50,847.90 L397.75,847.90 L398.00,847.90 L398.25,847.90 L398.50,847.90 L398.75,847.90 L399.00,847.90 L399.25,847.90 L399.50,847.90 L399.75,847.90 L400.00,847.90 L400.25,847.90 L400.50,847.90 L400.75,847.90 L401.00,847.90 L401.25,847.90 L401.50,847.90 L401.75,847.90 L402.00,847.90 L402.25,847.90 L402.50,847.90 L402.75,847.90 L403.00,847.89 L403.25,847.89 L403.50,847.88 L403.75,847.88 L404.00,847.87 L404.25,847.87 L404.50,847.86 L404.75,847.86 L405.00,847.85 L405.25,847.85 L405.50,847.84 L405.75,847.83 L406.00,847.83 L406.25,847.82 L406.50,847.81 L406.75,847.81 L407.00,847.80 L407.25,847.79 L407.50,847.79 L407.75,847.78 L408.00,847.78 L408.25,847.77 L408.50,847.76 L408.75,847.76 L409.00,847.76 L409.25,847.75 L409.50,847.75 L409.75,847.74 L410.00,847.74 L410.25,847.73 L410.50,847.73 L410.75,847.72 L411.00,847.72 L411.25,847.71 L411.50,847.71 L411.75,847.70 L412.00,847.70 L412.25,847.69 L412.50,847.69 L412.75,847.69 L413.00,847.68 L413.25,847.68 L413.50,847.67 L413.75,847.67 L414.00,847.66 L414.25,847.66 L414.50,847.65 L414.75,847.65 L415.00,847.64 L415.25,847.64 L415.50,847.64 L415.75,847.63 L416.00,847.63 L416.25,847.62 L416.50,847.62 L416.75,847.61 L417.00,847.61 L417.25,847.60 L417.50,847.60 L417.75,847.60 L418.00,847.59 L418.25,847.59 L418.50,847.58 L418.75,847.58 L419.00,847.57 L419.25,847.57 L419.50,847.57 L419.75,847.56 L420.00,847.56 L420.25,847.55 L420.50,847.55 L420.75,847.54 L421.00,847.54 L421.25,847.54 L421.50,847.53 L421.75,847.53 L422.00,847.52 L422.25,847.52 L422.50,847.52 L422.75,847.51 L423.00,847.51 L423.25,847.50 L423.50,847.50 L423.75,847.50 L424.00,847.49 L424.25,847.49 L424.50,847.48 L424.75,847.48 L425.00,847.48 L425.25,847.47 L425.50,847.46 L425.75,847.45 L426.00,847.44 L426.25,847.44 L426.50,847.43 L426.75,847.42 L427.00,847.41 L427.25,847.40 L427.50,847.39 L427.75,847.38 L428.00,847.37 L428.25,847.36 L428.50,847.35 L428.75,847.34 L429.00,847.33 L429.25,847.32 L429.50,847.31 L429.75,847.29 L430.00,847.28 L430.25,847.27 L430.50,847.26 L430.75,847.24 L431.00,847.23 L431.25,847.21 L431.50,847.19 L431.75,847.17 L432.00,847.15 L432.25,847.13 L432.50,847.11 L432.75,847.08 L433.00,847.06 L433.25,847.02 L433.50,846.99 L433.75,846.96 L434.00,846.92 L434.25,846.88 L434.50,846.83 L434.75,846.78 L435.00,846.73 L435.25,846.62 L435.50,846.47 L435.75,846.27 L436.00,846.03 L436.25,845.76 L436.50,845.46 L436.75,845.15 L437.00,844.82 L437.25,844.49 L437.50,844.15 L437.75,843.80 L438.00,843.40 L438.25,842.95 L438.50,842.47 L438.75,841.97 L439.00,841.44 L439.25,840.90 L439.50,840.35 L439.75,839.81 L440.00,839.27 L440.25,838.75 L440.50,838.21 L440.75,837.67 L441.00,837.10 L441.25,836.54 L441.50,835.97 L441.75,835.40 L442.00,834.84 L442.25,834.30 L442.50,833.76 L442.75,833.25 L443.00,832.75 L443.25,832.27 L443.50,831.79 L443.75,831.33 L444.00,830.87 L444.25,830.41 L444.50,829.97 L444.75,829.53 L445.00,829.09 L445.25,828.66 L445.50,828.23 L445.75,827.80 L446.00,827.37 L446.25,826.94 L446.50,826.51 L446.75,826.10 L447.00,825.69 L447.25,825.30 L447.50,824.93 L447.75,824.58 L448.00,824.24 L448.25,823.93 L448.50,823.62 L448.75,823.33 L449.00,823.04 L449.25,822.77 L449.50,822.50 L449.75,822.25 L450.00,822.00 L450.25,821.77 L450.50,821.55 L450.75,821.33 L451.00,821.11 L451.25,820.90 L451.50,820.70 L451.75,820.51 L452.00,820.33 L452.25,820.17 L452.50,820.02 L452.75,819.90 L453.00,819.79 L453.25,819.68 L453.50,819.57 L453.75,819.48 L454.00,819.40 L454.25,819.35 L454.50,819.32 L454.75,819.33 L455.00,819.37 L455.25,819.43 L455.50,819.52 L455.75,819.63 L456.00,819.74 L456.25,819.86 L456.50,819.99 L456.75,820.14 L457.00,820.31 L457.25,820.51 L457.50,820.73 L457.75,820.97 L458.00,821.22 L458.25,821.49 L458.50,821.76 L458.75,822.05 L459.00,822.38 L459.25,822.73 L459.50,823.11 L459.75,823.50 L460.00,823.92 L460.25,824.35 L460.50,824.79 L460.75,825.24 L461.00,825.70 L461.25,826.16 L461.50,826.65 L461.75,827.16 L462.00,827.69 L462.25,828.24 L462.50,828.81 L462.75,829.38 L463.00,829.95 L463.25,830.52 L463.50,831.08 L463.75,831.63 L464.00,832.17 L464.25,832.73 L464.50,833.29 L464.75,833.85 L465.00,834.41 L465.25,834.96 L465.50,835.51 L465.75,836.05 L466.00,836.57 L466.25,837.08 L466.50,837.58 L466.75,838.07 L467.00,838.56 L467.25,839.03 L467.50,839.50 L467.75,839.95 L468.00,840.38 L468.25,840.78 L468.50,841.15 L468.75,841.49 L469.00,841.80 L469.25,842.11 L469.50,842.40 L469.75,842.71 L470.00,843.03 L470.25,843.37 L470.50,843.71 L470.75,844.05 L471.00,844.39 L471.25,844.71 L471.50,845.01 L471.75,845.27 L472.00,845.50 L472.25,845.67 L472.50,845.82 L472.75,845.96 L473.00,846.10 L473.25,846.22 L473.50,846.34 L473.75,846.45 L474.00,846.56 L474.25,846.65 L474.50,846.74 L474.75,846.82 L475.00,846.90 L475.25,846.96 L475.50,847.02 L475.75,847.07 L476.00,847.12 L476.25,847.16 L476.50,847.20 L476.75,847.24 L477.00,847.27 L477.25,847.31 L477.50,847.35 L477.75,847.38 L478.00,847.41 L478.25,847.44 L478.50,847.47 L478.75,847.50 L479.00,847.52 L479.25,847.55 L479.50,847.57 L479.75,847.60 L480.00,847.62 L480.25,847.64 L480.50,847.66 L480.75,847.67 L481.00,847.69 L481.25,847.70 L481.50,847.72 L481.75,847.73 L482.00,847.74 L482.25,847.75 L482.50,847.76 L482.75,847.77 L483.00,847.78 L483.25,847.79 L483.50,847.80 L483.75,847.81 L484.00,847.82 L484.25,847.82 L484.50,847.83 L484.75,847.84 L485.00,847.85 L485.25,847.85 L485.50,847.86 L485.75,847.86 L486.00,847.87 L486.25,847.88 L486.50,847.88 L486.75,847.88 L487.00,847.89 L487.25,847.89 L487.50,847.89 L487.75,847.90 L488.00,847.90 L488.25,847.90 L488.50,847.90 L488.75,847.90 L489.00,847.90 L489.25,847.90 L489.50,847.90 L489.75,847.90 L490.00,847.90 L490.25,847.90 L490.50,847.90 L490.75,847.90 L491.00,847.90 L491.25,847.90 L491.50,847.90 L491.75,847.90 L492.00,847.90 L492.25,847.90 L492.50,847.90 L492.75,847.90 L493.00,847.90 L493.25,847.90 L493.50,847.90 L493.75,847.90 L494.00,847.90 L494.25,847.90 L494.50,847.90 L494.75,847.90 L495.00,847.90 L495.25,847.90 L495.50,847.90 L495.75,847.90 L496.00,847.90 L496.25,847.90 L496.50,847.90 L496.75,847.90 L497.00,847.90 L497.25,847.90 L497.50,847.90 L497.75,847.90 L498.00,847.90 L498.25,847.90 L498.50,847.90 L498.75,847.90 L499.00,847.90 L499.25,847.90 L499.50,847.90 L499.75,847.90 L500.00,847.90 L500.25,847.90 L500.50,847.90 L500.75,847.90 L501.00,847.90 L501.25,847.90 L501.50,847.90 L501.75,847.90 L502.00,847.90 L502.25,847.90 L502.50,847.90 L502.75,847.90 L503.00,847.90 L503.25,847.90 L503.50,847.90 L503.75,847.90 L504.00,847.90 L504.25,847.90 L504.50,847.90 L504.75,847.90 L505.00,847.90 L505.25,847.90 L505.50,847.90 L505.75,847.90 L506.00,847.90 L506.25,847.90 L506.50,847.90 L506.75,847.90 L507.00,847.90 L507.25,847.90 L507.50,847.90 L507.75,847.90 L508.00,847.90 L508.25,847.90 L508.50,847.90 L508.75,847.90 L509.00,847.90 L509.25,847.90 L509.50,847.90 L509.75,847.90 L510.00,847.90 L510.25,847.90 L510.50,847.90 L510.75,847.90 L511.00,847.90 L511.25,847.90 L511.50,847.90 L511.75,847.90 L512.00,847.90 L512.25,847.90 L512.50,847.90 L512.75,847.90 L513.00,847.90 L513.25,847.90 L513.50,847.90 L513.75,847.90 L514.00,847.90 L514.25,847.90 L514.50,847.90 L514.75,847.90 L515.00,847.90 L515.25,847.90 L515.50,847.90 L515.75,847.90 L516.00,847.90 L516.25,847.90 L516.50,847.90 L516.75,847.90 L517.00,847.90 L517.25,847.90 L517.50,847.90 L517.75,847.90 L518.00,847.90 L518.25,847.90 L518.50,847.90 L518.75,847.90 L519.00,847.90 L519.25,847.90 L519.50,847.90 L519.75,847.90 L520.00,847.90 L520.25,847.90 L520.50,847.90 L520.75,847.90 L521.00,847.90 L521.25,847.90 L521.50,847.90 L521.75,847.90 L522.00,847.90 L522.25,847.90 L522.50,847.90 L522.75,847.90 L523.00,847.90 L523.25,847.90 L523.50,847.90 L523.75,847.90 L524.00,847.90 L524.25,847.90 L524.50,847.90 L524.75,847.90 L525.00,847.90 L525.25,847.90 L525.50,847.90 L525.75,847.90 L526.00,847.90 L526.25,847.90 L526.50,847.90 L526.75,847.90 L527.00,847.90 L527.25,847.90 L527.50,847.90 L527.75,847.90 L528.00,847.90 L528.25,847.90 L528.50,847.90 L528.75,847.90 L529.00,847.90 L529.25,847.90 L529.50,847.90 L529.75,847.90 L530.00,847.90 L530.25,847.90 L530.50,847.90 L530.75,847.90 L531.00,847.90 L531.25,847.90" stroke="#000" stroke-width="1.62"/>
</g>
<clipPath id="cb4"><rect x="318.10" y="861.70" width="213.15" height="82.20"/></clipPath>
<g clip-path="url(#cb4)" fill="none" stroke-linejoin="round">
<path d="M319.00,910.43 L319.25,913.13 L319.50,915.89 L319.75,918.56 L320.00,920.93 L320.25,922.86 L320.50,924.14 L320.75,925.06 L321.00,925.72 L321.25,926.46 L321.50,927.10 L321.75,927.65 L322.00,928.13 L322.25,928.53 L322.50,928.88 L322.75,929.18 L323.00,929.45 L323.25,929.70 L323.50,929.93 L323.75,930.14 L324.00,930.33 L324.25,930.51 L324.50,930.67 L324.75,930.81 L325.00,930.94 L325.25,931.05 L325.50,931.15 L325.75,931.24 L326.00,931.31 L326.25,931.38 L326.50,931.45 L326.75,931.51 L327.00,931.57 L327.25,931.63 L327.50,931.69 L327.75,931.74 L328.00,931.79 L328.25,931.84 L328.50,931.89 L328.75,931.94 L329.00,931.98 L329.25,932.02 L329.50,932.06 L329.75,932.09 L330.00,932.13 L330.25,932.15 L330.50,932.18 L330.75,932.20 L331.00,932.22 L331.25,932.24 L331.50,932.25 L331.75,932.26 L332.00,932.27 L332.25,932.27 L332.50,932.27 L332.75,932.28 L333.00,932.27 L333.25,932.27 L333.50,932.27 L333.75,932.27 L334.00,932.27 L334.25,932.27 L334.50,932.26 L334.75,932.26 L335.00,932.26 L335.25,932.25 L335.50,932.25 L335.75,932.24 L336.00,932.24 L336.25,932.24 L336.50,932.23 L336.75,932.22 L337.00,932.22 L337.25,932.21 L337.50,932.21 L337.75,932.20 L338.00,932.19 L338.25,932.19 L338.50,932.18 L338.75,932.17 L339.00,932.17 L339.25,932.16 L339.50,932.15 L339.75,932.14 L340.00,932.13 L340.25,932.13 L340.50,932.12 L340.75,932.11 L341.00,932.10 L341.25,932.09 L341.50,932.08 L341.75,932.07 L342.00,932.06 L342.25,932.05 L342.50,932.04 L342.75,932.03 L343.00,932.02 L343.25,932.01 L343.50,932.00 L343.75,931.99 L344.00,931.98 L344.25,931.97 L344.50,931.96 L344.75,931.94 L345.00,931.93 L345.25,931.91 L345.50,931.90 L345.75,931.88 L346.00,931.86 L346.25,931.84 L346.50,931.82 L346.75,931.80 L347.00,931.78 L347.25,931.75 L347.50,931.73 L347.75,931.70 L348.00,931.68 L348.25,931.65 L348.50,931.62 L348.75,931.59 L349.00,931.56 L349.25,931.53 L349.50,931.49 L349.75,931.46 L350.00,931.42 L350.25,931.39 L350.50,931.35 L350.75,931.31 L351.00,931.27 L351.25,931.22 L351.50,931.17 L351.75,931.11 L352.00,931.04 L352.25,930.97 L352.50,930.90 L352.75,930.81 L353.00,930.73 L353.25,930.64 L353.50,930.55 L353.75,930.45 L354.00,930.36 L354.25,930.26 L354.50,930.16 L354.75,930.06 L355.00,929.94 L355.25,929.81 L355.50,929.67 L355.75,929.53 L356.00,929.39 L356.25,929.25 L356.50,929.13 L356.75,929.02 L357.00,928.94 L357.25,928.89 L357.50,928.88 L357.75,928.90 L358.00,928.97 L358.25,929.08 L358.50,929.21 L358.75,929.35 L359.00,929.49 L359.25,929.62 L359.50,929.73 L359.75,929.81 L360.00,929.88 L360.25,929.93 L360.50,929.98 L360.75,930.01 L361.00,930.05 L361.25,930.07 L361.50,930.09 L361.75,930.09 L362.00,930.07 L362.25,930.03 L362.50,929.96 L362.75,929.87 L363.00,929.75 L363.25,929.61 L363.50,929.45 L363.75,929.27 L364.00,929.08 L364.25,928.84 L364.50,928.57 L364.75,928.24 L365.00,927.86 L365.25,927.43 L365.50,926.95 L365.75,926.43 L366.00,925.84 L366.25,925.18 L366.50,924.42 L366.75,923.54 L367.00,922.54 L367.25,921.43 L367.50,920.21 L367.75,918.86 L368.00,917.38 L368.25,915.75 L368.50,913.97 L368.75,912.03 L369.00,909.93 L369.25,907.64 L369.50,905.17 L369.75,902.53 L370.00,899.78 L370.25,896.96 L370.50,894.10 L370.75,891.20 L371.00,888.27 L371.25,885.32 L371.50,882.36 L371.75,879.41 L372.00,876.50 L372.25,873.73 L372.50,871.17 L372.75,868.88 L373.00,866.87 L373.25,865.19 L373.50,863.94 L373.75,863.20 L374.00,862.96 L374.25,863.15 L374.50,863.68 L374.75,864.52 L375.00,865.71 L375.25,867.34 L375.50,869.45 L375.75,871.98 L376.00,874.80 L376.25,877.81 L376.50,880.96 L376.75,884.25 L377.00,887.64 L377.25,891.06 L377.50,894.43 L377.75,897.72 L378.00,900.90 L378.25,903.97 L378.50,906.90 L378.75,909.67 L379.00,912.22 L379.25,914.57 L379.50,916.72 L379.75,918.69 L380.00,920.46 L380.25,922.01 L380.50,923.34 L380.75,924.46 L381.00,925.42 L381.25,926.26 L381.50,926.99 L381.75,927.63 L382.00,928.19 L382.25,928.67 L382.50,929.08 L382.75,929.43 L383.00,929.74 L383.25,930.02 L383.50,930.28 L383.75,930.51 L384.00,930.71 L384.25,930.89 L384.50,931.04 L384.75,931.17 L385.00,931.28 L385.25,931.37 L385.50,931.46 L385.75,931.54 L386.00,931.61 L386.25,931.68 L386.50,931.75 L386.75,931.81 L387.00,931.87 L387.25,931.93 L387.50,931.98 L387.75,932.03 L388.00,932.08 L388.25,932.12 L388.50,932.15 L388.75,932.18 L389.00,932.21 L389.25,932.23 L389.50,932.25 L389.75,932.26 L390.00,932.27 L390.25,932.28 L390.50,932.29 L390.75,932.30 L391.00,932.30 L391.25,932.31 L391.50,932.31 L391.75,932.32 L392.00,932.32 L392.25,932.33 L392.50,932.34 L392.75,932.34 L393.00,932.34 L393.25,932.35 L393.50,932.35 L393.75,932.36 L394.00,932.36 L394.25,932.37 L394.50,932.37 L394.75,932.37 L395.00,932.38 L395.25,932.38 L395.50,932.38 L395.75,932.39 L396.00,932.39 L396.25,932.39 L396.50,932.40 L396.75,932.40 L397.00,932.40 L397.25,932.40 L397.50,932.40 L397.75,932.41 L398.00,932.41 L398.25,932.41 L398.50,932.41 L398.75,932.41 L399.00,932.41 L399.25,932.42 L399.50,932.42 L399.75,932.42 L400.00,932.42 L400.25,932.42 L400.50,932.42 L400.75,932.42 L401.00,932.42 L401.25,932.42 L401.50,932.42 L401.75,932.42 L402.00,932.42 L402.25,932.42 L402.50,932.42 L402.75,932.42 L403.00,932.42 L403.25,932.42 L403.50,932.42 L403.75,932.42 L404.00,932.42 L404.25,932.42 L404.50,932.42 L404.75,932.42 L405.00,932.42 L405.25,932.42 L405.50,932.42 L405.75,932.42 L406.00,932.42 L406.25,932.42 L406.50,932.42 L406.75,932.42 L407.00,932.42 L407.25,932.42 L407.50,932.42 L407.75,932.42 L408.00,932.42 L408.25,932.42 L408.50,932.42 L408.75,932.42 L409.00,932.42 L409.25,932.42 L409.50,932.42 L409.75,932.42 L410.00,932.42 L410.25,932.42 L410.50,932.42 L410.75,932.42 L411.00,932.42 L411.25,932.42 L411.50,932.42 L411.75,932.42 L412.00,932.42 L412.25,932.42 L412.50,932.42 L412.75,932.42 L413.00,932.42 L413.25,932.42 L413.50,932.42 L413.75,932.42 L414.00,932.42 L414.25,932.42 L414.50,932.42 L414.75,932.42 L415.00,932.42 L415.25,932.42 L415.50,932.42 L415.75,932.42 L416.00,932.42 L416.25,932.42 L416.50,932.42 L416.75,932.42 L417.00,932.41 L417.25,932.41 L417.50,932.41 L417.75,932.40 L418.00,932.40 L418.25,932.39 L418.50,932.39 L418.75,932.38 L419.00,932.37 L419.25,932.37 L419.50,932.36 L419.75,932.35 L420.00,932.34 L420.25,932.33 L420.50,932.32 L420.75,932.32 L421.00,932.31 L421.25,932.30 L421.50,932.29 L421.75,932.28 L422.00,932.26 L422.25,932.25 L422.50,932.24 L422.75,932.23 L423.00,932.22 L423.25,932.21 L423.50,932.20 L423.75,932.19 L424.00,932.18 L424.25,932.17 L424.50,932.16 L424.75,932.15 L425.00,932.13 L425.25,932.13 L425.50,932.12 L425.75,932.11 L426.00,932.10 L426.25,932.10 L426.50,932.09 L426.75,932.08 L427.00,932.07 L427.25,932.07 L427.50,932.06 L427.75,932.05 L428.00,932.04 L428.25,932.03 L428.50,932.02 L428.75,932.01 L429.00,932.00 L429.25,931.99 L429.50,931.98 L429.75,931.97 L430.00,931.96 L430.25,931.95 L430.50,931.93 L430.75,931.92 L431.00,931.90 L431.25,931.89 L431.50,931.87 L431.75,931.85 L432.00,931.83 L432.25,931.81 L432.50,931.78 L432.75,931.75 L433.00,931.72 L433.25,931.69 L433.50,931.66 L433.75,931.62 L434.00,931.58 L434.25,931.54 L434.50,931.45 L434.75,931.32 L435.00,931.15 L435.25,930.95 L435.50,930.73 L435.75,930.49 L436.00,930.23 L436.25,929.96 L436.50,929.69 L436.75,929.41 L437.00,929.12 L437.25,928.79 L437.50,928.42 L437.75,928.03 L438.00,927.61 L438.25,927.18 L438.50,926.73 L438.75,926.29 L439.00,925.84 L439.25,925.40 L439.50,924.97 L439.75,924.53 L440.00,924.08 L440.25,923.62 L440.50,923.16 L440.75,922.69 L441.00,922.23 L441.25,921.77 L441.50,921.32 L441.75,920.88 L442.00,920.46 L442.25,920.06 L442.50,919.66 L442.75,919.27 L443.00,918.89 L443.25,918.51 L443.50,918.14 L443.75,917.78 L444.00,917.41 L444.25,917.06 L444.50,916.70 L444.75,916.35 L445.00,916.00 L445.25,915.64 L445.50,915.29 L445.75,914.94 L446.00,914.60 L446.25,914.27 L446.50,913.95 L446.75,913.65 L447.00,913.36 L447.25,913.09 L447.50,912.83 L447.75,912.58 L448.00,912.34 L448.25,912.10 L448.50,911.88 L448.75,911.66 L449.00,911.45 L449.25,911.25 L449.50,911.06 L449.75,910.88 L450.00,910.70 L450.25,910.53 L450.50,910.35 L450.75,910.19 L451.00,910.03 L451.25,909.88 L451.50,909.75 L451.75,909.64 L452.00,909.54 L452.25,909.45 L452.50,909.36 L452.75,909.27 L453.00,909.19 L453.25,909.13 L453.50,909.09 L453.75,909.07 L454.00,909.07 L454.25,909.11 L454.50,909.16 L454.75,909.23 L455.00,909.32 L455.25,909.42 L455.50,909.52 L455.75,909.62 L456.00,909.74 L456.25,909.89 L456.50,910.05 L456.75,910.23 L457.00,910.43 L457.25,910.64 L457.50,910.85 L457.75,911.08 L458.00,911.32 L458.25,911.59 L458.50,911.88 L458.75,912.19 L459.00,912.51 L459.25,912.85 L459.50,913.21 L459.75,913.57 L460.00,913.94 L460.25,914.31 L460.50,914.69 L460.75,915.10 L461.00,915.52 L461.25,915.96 L461.50,916.41 L461.75,916.87 L462.00,917.34 L462.25,917.80 L462.50,918.27 L462.75,918.73 L463.00,919.18 L463.25,919.63 L463.50,920.09 L463.75,920.54 L464.00,921.00 L464.25,921.46 L464.50,921.92 L464.75,922.36 L465.00,922.80 L465.25,923.24 L465.50,923.65 L465.75,924.06 L466.00,924.46 L466.25,924.86 L466.50,925.25 L466.75,925.63 L467.00,926.00 L467.25,926.35 L467.50,926.68 L467.75,926.98 L468.00,927.26 L468.25,927.52 L468.50,927.76 L468.75,928.01 L469.00,928.26 L469.25,928.52 L469.50,928.80 L469.75,929.08 L470.00,929.36 L470.25,929.64 L470.50,929.90 L470.75,930.14 L471.00,930.36 L471.25,930.54 L471.50,930.68 L471.75,930.80 L472.00,930.92 L472.25,931.03 L472.50,931.13 L472.75,931.23 L473.00,931.32 L473.25,931.40 L473.50,931.48 L473.75,931.55 L474.00,931.62 L474.25,931.68 L474.50,931.74 L474.75,931.78 L475.00,931.82 L475.25,931.86 L475.50,931.89 L475.75,931.93 L476.00,931.96 L476.25,931.99 L476.50,932.02 L476.75,932.05 L477.00,932.07 L477.25,932.10 L477.50,932.12 L477.75,932.15 L478.00,932.17 L478.25,932.19 L478.50,932.21 L478.75,932.23 L479.00,932.25 L479.25,932.27 L479.50,932.29 L479.75,932.30 L480.00,932.31 L480.25,932.33 L480.50,932.34 L480.75,932.35 L481.00,932.36 L481.25,932.37 L481.50,932.38 L481.75,932.39 L482.00,932.40 L482.25,932.40 L482.50,932.41 L482.75,932.42 L483.00,932.42 L483.25,932.43 L483.50,932.44 L483.75,932.44 L484.00,932.45 L484.25,932.46 L484.50,932.46 L484.75,932.47 L485.00,932.47 L485.25,932.48 L485.50,932.48 L485.75,932.48 L486.00,932.49 L486.25,932.49 L486.50,932.49 L486.75,932.50 L487.00,932.50 L487.25,932.50 L487.50,932.50 L487.75,932.50 L488.00,932.50 L488.25,932.50 L488.50,932.50 L488.75,932.50 L489.00,932.50 L489.25,932.50 L489.50,932.50 L489.75,932.50 L490.00,932.50 L490.25,932.50 L490.50,932.50 L490.75,932.50 L491.00,932.50 L491.25,932.50 L491.50,932.50 L491.75,932.50 L492.00,932.50 L492.25,932.50 L492.50,932.50 L492.75,932.50 L493.00,932.50 L493.25,932.50 L493.50,932.50 L493.75,932.50 L494.00,932.50 L494.25,932.50 L494.50,932.50 L494.75,932.50 L495.00,932.50 L495.25,932.50 L495.50,932.50 L495.75,932.50 L496.00,932.50 L496.25,932.50 L496.50,932.50 L496.75,932.50 L497.00,932.50 L497.25,932.50 L497.50,932.50 L497.75,932.50 L498.00,932.50 L498.25,932.50 L498.50,932.50 L498.75,932.50 L499.00,932.50 L499.25,932.50 L499.50,932.50 L499.75,932.50 L500.00,932.50 L500.25,932.50 L500.50,932.50 L500.75,932.50 L501.00,932.50 L501.25,932.50 L501.50,932.50 L501.75,932.50 L502.00,932.50 L502.25,932.50 L502.50,932.50 L502.75,932.50 L503.00,932.50 L503.25,932.50 L503.50,932.50 L503.75,932.50 L504.00,932.50 L504.25,932.50 L504.50,932.50 L504.75,932.50 L505.00,932.50 L505.25,932.50 L505.50,932.50 L505.75,932.50 L506.00,932.50 L506.25,932.50 L506.50,932.50 L506.75,932.50 L507.00,932.50 L507.25,932.50 L507.50,932.50 L507.75,932.50 L508.00,932.50 L508.25,932.50 L508.50,932.50 L508.75,932.50 L509.00,932.50 L509.25,932.50 L509.50,932.50 L509.75,932.50 L510.00,932.50 L510.25,932.50 L510.50,932.50 L510.75,932.50 L511.00,932.50 L511.25,932.50 L511.50,932.50 L511.75,932.50 L512.00,932.50 L512.25,932.50 L512.50,932.50 L512.75,932.50 L513.00,932.50 L513.25,932.50 L513.50,932.50 L513.75,932.50 L514.00,932.50 L514.25,932.50 L514.50,932.50 L514.75,932.50 L515.00,932.50 L515.25,932.50 L515.50,932.50 L515.75,932.50 L516.00,932.50 L516.25,932.50 L516.50,932.50 L516.75,932.50 L517.00,932.50 L517.25,932.50 L517.50,932.50 L517.75,932.50 L518.00,932.50 L518.25,932.50 L518.50,932.50 L518.75,932.50 L519.00,932.50 L519.25,932.50 L519.50,932.50 L519.75,932.50 L520.00,932.50 L520.25,932.50 L520.50,932.50 L520.75,932.50 L521.00,932.50 L521.25,932.50 L521.50,932.50 L521.75,932.50 L522.00,932.50 L522.25,932.50 L522.50,932.50 L522.75,932.50 L523.00,932.50 L523.25,932.50 L523.50,932.50 L523.75,932.50 L524.00,932.50 L524.25,932.50 L524.50,932.50 L524.75,932.50 L525.00,932.50 L525.25,932.50 L525.50,932.50 L525.75,932.50 L526.00,932.50 L526.25,932.50 L526.50,932.50 L526.75,932.50 L527.00,932.50 L527.25,932.50 L527.50,932.50 L527.75,932.50 L528.00,932.50 L528.25,932.50 L528.50,932.50 L528.75,932.50 L529.00,932.50 L529.25,932.50 L529.50,932.50 L529.75,932.50 L530.00,932.50 L530.25,932.50 L530.50,932.50 L530.75,932.50 L531.00,932.50 L531.25,932.50" stroke="#000" stroke-width="1.62"/>
</g>
<text x="312.20" y="606.85" font-size="12.60" text-anchor="end" transform="rotate(0.05 312.20 606.85)" >0</text>
<text x="312.20" y="539.00" font-size="12.60" text-anchor="end" transform="rotate(0.05 312.20 539.00)" >1</text>
<text x="312.20" y="688.40" font-size="12.60" text-anchor="end" transform="rotate(0.05 312.20 688.40)" >0</text>
<text x="312.20" y="620.70" font-size="12.60" text-anchor="end" transform="rotate(0.05 312.20 620.70)" >1</text>
<text x="312.20" y="770.40" font-size="12.60" text-anchor="end" transform="rotate(0.05 312.20 770.40)" >0</text>
<text x="312.20" y="702.14" font-size="12.60" text-anchor="end" transform="rotate(0.05 312.20 702.14)" >1</text>
<text x="312.20" y="851.90" font-size="12.60" text-anchor="end" transform="rotate(0.05 312.20 851.90)" >0</text>
<text x="312.20" y="783.85" font-size="12.60" text-anchor="end" transform="rotate(0.05 312.20 783.85)" >1</text>
<text x="312.20" y="936.50" font-size="12.60" text-anchor="end" transform="rotate(0.05 312.20 936.50)" >0</text>
<text x="312.20" y="880.70" font-size="12.60" text-anchor="end" transform="rotate(0.05 312.20 880.70)" >1</text>
<text x="318.70" y="960.10" font-size="12.60" text-anchor="middle" transform="rotate(0.05 318.70 960.10)" >0.0</text>
<text x="403.60" y="960.10" font-size="12.60" text-anchor="middle" transform="rotate(0.05 403.60 960.10)" >0.1</text>
<text x="488.50" y="960.10" font-size="12.60" text-anchor="middle" transform="rotate(0.05 488.50 960.10)" >0.2</text>
<text x="12.40" y="540.80" font-size="14.30" text-anchor="start" transform="rotate(0.05 12.40 540.80)" >(a)</text>
<text x="281.40" y="540.80" font-size="14.30" text-anchor="start" transform="rotate(0.05 281.40 540.80)" >(b)</text>
<text x="139.20" y="528.90" font-size="12.00" text-anchor="start" transform="rotate(0.05 139.20 528.90)" >B=4 T</text>
<text x="409.30" y="529.30" font-size="12.20" text-anchor="start" transform="rotate(0.05 409.30 529.30)" >B=15 T</text>
<text x="235.80" y="596.40" font-size="13.20" text-anchor="middle" transform="rotate(0.05 235.80 596.40)" >0.02 eV</text>
<text x="504.55" y="596.30" font-size="13.20" text-anchor="middle" transform="rotate(0.05 504.55 596.30)" >0.02 eV</text>
<text x="234.90" y="681.50" font-size="13.20" text-anchor="middle" transform="rotate(0.05 234.90 681.50)" >0.04 eV</text>
<text x="503.90" y="679.30" font-size="13.20" text-anchor="middle" transform="rotate(0.05 503.90 679.30)" >0.04 eV</text>
<text x="235.65" y="762.00" font-size="13.20" text-anchor="middle" transform="rotate(0.05 235.65 762.00)" >0.06 eV</text>
<text x="503.35" y="761.20" font-size="13.20" text-anchor="middle" transform="rotate(0.05 503.35 761.20)" >0.06 eV</text>
<text x="234.90" y="842.90" font-size="13.20" text-anchor="middle" transform="rotate(0.05 234.90 842.90)" >0.08 eV</text>
<text x="502.45" y="844.60" font-size="13.20" text-anchor="middle" transform="rotate(0.05 502.45 844.60)" >0.08 eV</text>
<text x="232.35" y="925.40" font-size="13.20" text-anchor="middle" transform="rotate(0.05 232.35 925.40)" >0.1 eV</text>
<text x="501.85" y="926.60" font-size="13.20" text-anchor="middle" transform="rotate(0.05 501.85 926.60)" >0.1 eV</text>
<text x="159.20" y="978.60" font-size="12.30" text-anchor="middle" transform="rotate(0.05 159.20 978.60)" >&#969; (eV/<tspan font-style="italic">&#295;</tspan>)</text>
<text x="425.40" y="980.70" font-size="12.30" text-anchor="middle" transform="rotate(0.05 425.40 980.70)" >&#969; (eV/<tspan font-style="italic">&#295;</tspan>)</text>
<text transform="translate(26.90,742.30) rotate(-89.95)" font-size="12" text-anchor="middle">Spectral heat flux [a.u.]</text>
<text transform="translate(295.80,739.90) rotate(-89.95)" font-size="12" text-anchor="middle">Spectral heat flux [a.u.]</text>
</svg>
</body></html>
